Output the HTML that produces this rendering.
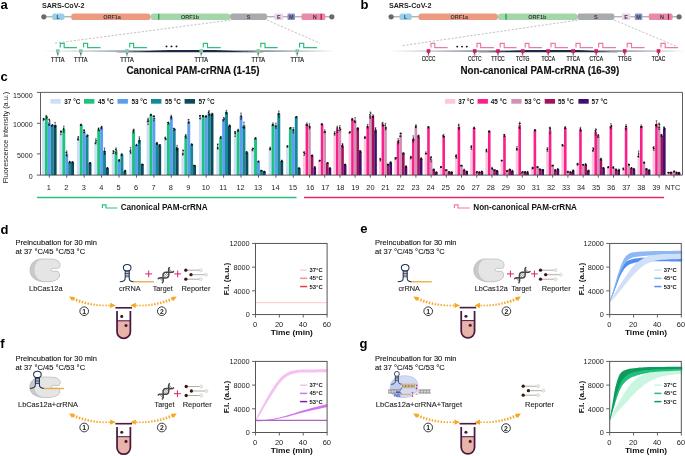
<!DOCTYPE html>
<html><head><meta charset="utf-8"><title>Figure</title>
<style>
html,body{margin:0;padding:0;background:#fff;}
body{width:685px;height:456px;overflow:hidden;font-family:'Liberation Sans', sans-serif;}
svg{display:block;will-change:transform;font-family:"Liberation Sans",sans-serif;}
</style></head><body>
<svg width="685" height="456" viewBox="0 0 685 456">
<rect width="685" height="456" fill="#fff"/>
<g>
<defs>
<linearGradient id="gbarA" x1="0" y1="0" x2="1" y2="0"><stop offset="0.007" stop-color="#1b2a4a" stop-opacity="0"/><stop offset="0.160" stop-color="#1b2a4a" stop-opacity="0.2"/><stop offset="0.300" stop-color="#1b2a4a" stop-opacity="0.5"/><stop offset="0.500" stop-color="#1b2a4a" stop-opacity="0.6"/><stop offset="0.760" stop-color="#1b2a4a" stop-opacity="0.5"/><stop offset="0.880" stop-color="#1b2a4a" stop-opacity="0.25"/><stop offset="0.990" stop-color="#1b2a4a" stop-opacity="0"/></linearGradient>
<linearGradient id="gbarB" x1="0" y1="0" x2="1" y2="0"><stop offset="0.013" stop-color="#1b2a4a" stop-opacity="0"/><stop offset="0.144" stop-color="#1b2a4a" stop-opacity="0.2"/><stop offset="0.300" stop-color="#1b2a4a" stop-opacity="0.5"/><stop offset="0.500" stop-color="#1b2a4a" stop-opacity="0.6"/><stop offset="0.750" stop-color="#1b2a4a" stop-opacity="0.5"/><stop offset="0.880" stop-color="#1b2a4a" stop-opacity="0.25"/><stop offset="0.984" stop-color="#1b2a4a" stop-opacity="0"/></linearGradient>
</defs>
<text x="0.40" y="9.00" font-size="13.0" font-weight="bold" text-anchor="start" fill="#000" >a</text>
<text x="41.90" y="7.60" font-size="7" font-weight="bold" text-anchor="start" fill="#222" textLength="42.50" lengthAdjust="spacingAndGlyphs" >SARS-CoV-2</text>
<line x1="43.80" y1="16.8" x2="331.80" y2="16.8" stroke="#666" stroke-width="0.7"/>
<circle cx="43.80" cy="16.8" r="2.6" fill="#6a6a6a"/>
<circle cx="331.80" cy="16.8" r="2.6" fill="#6a6a6a"/>
<rect x="52.10" y="13.4" width="12.40" height="6.7" rx="2.6" fill="#98cfea"/>
<text x="58.30" y="18.80" font-size="5.5" font-weight="bold" text-anchor="middle" fill="#3a3a3a" >L</text>
<rect x="71.10" y="13.4" width="79.50" height="6.7" rx="3.2" fill="#ec9a80"/>
<text x="112.00" y="18.80" font-size="5.5" font-weight="bold" text-anchor="middle" fill="#3a3a3a" >ORF1a</text>
<rect x="150.60" y="13.4" width="79.60" height="6.7" rx="3.2" fill="#a3d6a9"/>
<text x="190.00" y="18.80" font-size="5.5" font-weight="bold" text-anchor="middle" fill="#3a3a3a" >ORF1b</text>
<rect x="158.20" y="13.8" width="1.1" height="5.9" fill="#1c8c3c"/>
<rect x="230.20" y="13.4" width="36.80" height="6.7" rx="2.0" fill="#a9aaae"/>
<text x="248.60" y="18.80" font-size="5.5" font-weight="bold" text-anchor="middle" fill="#3a3a3a" >S</text>
<rect x="274.50" y="13.4" width="8.50" height="6.7" rx="1.2" fill="#ead2ea"/>
<text x="278.75" y="18.80" font-size="5.5" font-weight="bold" text-anchor="middle" fill="#3a3a3a" >E</text>
<rect x="287.50" y="13.4" width="7.50" height="6.7" rx="1.2" fill="#8d90cc"/>
<text x="291.25" y="18.80" font-size="5.5" font-weight="bold" text-anchor="middle" fill="#3a3a3a" >M</text>
<rect x="301.50" y="13.4" width="23.80" height="6.7" rx="1.6" fill="#e98aa8"/>
<text x="314.70" y="18.80" font-size="5.5" font-weight="bold" text-anchor="middle" fill="#3a3a3a" >N</text>
<rect x="320.60" y="13.8" width="1.2" height="5.9" fill="#a3122f"/>
<line x1="230.5" y1="20.1" x2="55" y2="43.2" stroke="#9a9a9a" stroke-width="0.6" stroke-dasharray="2.2 1.6"/>
<line x1="267" y1="20.1" x2="320" y2="43.2" stroke="#9a9a9a" stroke-width="0.6" stroke-dasharray="2.2 1.6"/>
<rect x="40.00" y="50.25" width="298.00" height="1.70" fill="url(#gbarA)"/>
<polygon points="116.00,52.15 117.80,52.12 119.60,52.08 121.40,52.04 123.20,51.99 125.00,51.94 126.80,51.88 128.60,51.82 130.40,51.76 132.20,51.69 134.00,51.62 135.80,51.55 137.60,51.48 139.40,51.41 141.20,51.33 143.00,51.26 144.80,51.18 146.60,51.10 148.40,51.02 150.20,50.94 152.00,50.85 153.80,50.77 155.60,50.68 157.40,50.59 159.20,50.50 161.00,50.41 162.80,50.32 164.60,50.23 166.40,50.14 168.20,50.04 170.00,49.95 214.00,49.95 215.67,50.04 217.33,50.14 219.00,50.23 220.67,50.32 222.33,50.41 224.00,50.50 225.67,50.59 227.33,50.68 229.00,50.77 230.67,50.85 232.33,50.94 234.00,51.02 235.67,51.10 237.33,51.18 239.00,51.26 240.67,51.33 242.33,51.41 244.00,51.48 245.67,51.55 247.33,51.62 249.00,51.69 250.67,51.76 252.33,51.82 254.00,51.88 255.67,51.94 257.33,51.99 259.00,52.04 260.67,52.08 262.33,52.12 264.00,52.15 264.00,52.15 116.00,52.15" fill="#1b2a4a"/>
<line x1="57.80" y1="52.5" x2="57.80" y2="56.4" stroke="#333" stroke-width="0.45"/>
<path d="M56.90,54.2 L57.80,52.6 L58.70,54.2 Z" fill="#333"/>
<rect x="56.00" y="49.2" width="3.6" height="3.6" fill="#80cba4"/>
<text x="57.80" y="61.50" font-size="6.4" font-weight="normal" text-anchor="middle" fill="#1a1a1a" textLength="13.60" lengthAdjust="spacingAndGlyphs" stroke="#1a1a1a" stroke-width="0.2">TTTA</text>
<line x1="80.80" y1="52.5" x2="80.80" y2="56.4" stroke="#333" stroke-width="0.45"/>
<path d="M79.90,54.2 L80.80,52.6 L81.70,54.2 Z" fill="#333"/>
<rect x="79.00" y="49.2" width="3.6" height="3.6" fill="#80cba4"/>
<text x="80.80" y="61.50" font-size="6.4" font-weight="normal" text-anchor="middle" fill="#1a1a1a" textLength="13.60" lengthAdjust="spacingAndGlyphs" stroke="#1a1a1a" stroke-width="0.2">TTTA</text>
<line x1="127.00" y1="52.5" x2="127.00" y2="56.4" stroke="#333" stroke-width="0.45"/>
<path d="M126.10,54.2 L127.00,52.6 L127.90,54.2 Z" fill="#333"/>
<rect x="125.20" y="49.2" width="3.6" height="3.6" fill="#80cba4"/>
<text x="127.00" y="61.50" font-size="6.4" font-weight="normal" text-anchor="middle" fill="#1a1a1a" textLength="13.60" lengthAdjust="spacingAndGlyphs" stroke="#1a1a1a" stroke-width="0.2">TTTA</text>
<line x1="201.20" y1="52.5" x2="201.20" y2="56.4" stroke="#333" stroke-width="0.45"/>
<path d="M200.30,54.2 L201.20,52.6 L202.10,54.2 Z" fill="#333"/>
<rect x="199.40" y="49.2" width="3.6" height="3.6" fill="#80cba4"/>
<text x="201.20" y="61.50" font-size="6.4" font-weight="normal" text-anchor="middle" fill="#1a1a1a" textLength="13.60" lengthAdjust="spacingAndGlyphs" stroke="#1a1a1a" stroke-width="0.2">TTTA</text>
<line x1="258.20" y1="52.5" x2="258.20" y2="56.4" stroke="#333" stroke-width="0.45"/>
<path d="M257.30,54.2 L258.20,52.6 L259.10,54.2 Z" fill="#333"/>
<rect x="256.40" y="49.2" width="3.6" height="3.6" fill="#80cba4"/>
<text x="258.20" y="61.50" font-size="6.4" font-weight="normal" text-anchor="middle" fill="#1a1a1a" textLength="13.60" lengthAdjust="spacingAndGlyphs" stroke="#1a1a1a" stroke-width="0.2">TTTA</text>
<line x1="297.20" y1="52.5" x2="297.20" y2="56.4" stroke="#333" stroke-width="0.45"/>
<path d="M296.30,54.2 L297.20,52.6 L298.10,54.2 Z" fill="#333"/>
<rect x="295.40" y="49.2" width="3.6" height="3.6" fill="#80cba4"/>
<text x="297.20" y="61.50" font-size="6.4" font-weight="normal" text-anchor="middle" fill="#1a1a1a" textLength="13.60" lengthAdjust="spacingAndGlyphs" stroke="#1a1a1a" stroke-width="0.2">TTTA</text>
<path d="M60.30,47.6 V43.4 H64.20 V47.6 H77.00" fill="none" stroke="#2dbf7c" stroke-width="1.2"/>
<path d="M83.60,47.6 V43.4 H87.60 V47.6 H100.60" fill="none" stroke="#2dbf7c" stroke-width="1.2"/>
<path d="M129.70,47.6 V43.4 H133.60 V47.6 H147.00" fill="none" stroke="#2dbf7c" stroke-width="1.2"/>
<path d="M203.30,47.6 V43.4 H207.50 V47.6 H220.70" fill="none" stroke="#2dbf7c" stroke-width="1.2"/>
<path d="M260.80,47.6 V43.4 H265.00 V47.6 H277.60" fill="none" stroke="#2dbf7c" stroke-width="1.2"/>
<path d="M299.60,47.6 V43.4 H303.70 V47.6 H317.00" fill="none" stroke="#2dbf7c" stroke-width="1.2"/>
<circle cx="166.5" cy="46.4" r="0.95" fill="#111"/>
<circle cx="171.5" cy="46.4" r="0.95" fill="#111"/>
<circle cx="176.5" cy="46.4" r="0.95" fill="#111"/>
<text x="193.00" y="73.90" font-size="10.3" font-weight="bold" text-anchor="middle" fill="#111" textLength="133.00" lengthAdjust="spacingAndGlyphs" stroke="#111" stroke-width="0.15">Canonical PAM-crRNA (1-15)</text>
<text x="360.40" y="9.00" font-size="13.0" font-weight="bold" text-anchor="start" fill="#000" >b</text>
<text x="388.90" y="7.60" font-size="7" font-weight="bold" text-anchor="start" fill="#222" textLength="42.50" lengthAdjust="spacingAndGlyphs" >SARS-CoV-2</text>
<line x1="391.10" y1="16.8" x2="679.10" y2="16.8" stroke="#666" stroke-width="0.7"/>
<circle cx="391.10" cy="16.8" r="2.6" fill="#6a6a6a"/>
<circle cx="679.10" cy="16.8" r="2.6" fill="#6a6a6a"/>
<rect x="399.40" y="13.4" width="12.40" height="6.7" rx="2.6" fill="#98cfea"/>
<text x="405.60" y="18.80" font-size="5.5" font-weight="bold" text-anchor="middle" fill="#3a3a3a" >L</text>
<rect x="418.40" y="13.4" width="79.50" height="6.7" rx="3.2" fill="#ec9a80"/>
<text x="459.30" y="18.80" font-size="5.5" font-weight="bold" text-anchor="middle" fill="#3a3a3a" >ORF1a</text>
<rect x="497.90" y="13.4" width="79.60" height="6.7" rx="3.2" fill="#a3d6a9"/>
<text x="537.30" y="18.80" font-size="5.5" font-weight="bold" text-anchor="middle" fill="#3a3a3a" >ORF1b</text>
<rect x="505.50" y="13.8" width="1.1" height="5.9" fill="#1c8c3c"/>
<rect x="577.50" y="13.4" width="36.80" height="6.7" rx="2.0" fill="#a9aaae"/>
<text x="595.90" y="18.80" font-size="5.5" font-weight="bold" text-anchor="middle" fill="#3a3a3a" >S</text>
<rect x="621.80" y="13.4" width="8.50" height="6.7" rx="1.2" fill="#ead2ea"/>
<text x="626.05" y="18.80" font-size="5.5" font-weight="bold" text-anchor="middle" fill="#3a3a3a" >E</text>
<rect x="634.80" y="13.4" width="7.50" height="6.7" rx="1.2" fill="#8d90cc"/>
<text x="638.55" y="18.80" font-size="5.5" font-weight="bold" text-anchor="middle" fill="#3a3a3a" >M</text>
<rect x="648.80" y="13.4" width="23.80" height="6.7" rx="1.6" fill="#e98aa8"/>
<text x="662.00" y="18.80" font-size="5.5" font-weight="bold" text-anchor="middle" fill="#3a3a3a" >N</text>
<rect x="667.90" y="13.8" width="1.2" height="5.9" fill="#a3122f"/>
<line x1="577.8" y1="20.1" x2="401.5" y2="45.8" stroke="#9a9a9a" stroke-width="0.6" stroke-dasharray="2.2 1.6"/>
<line x1="614.3" y1="20.1" x2="677" y2="46.5" stroke="#9a9a9a" stroke-width="0.6" stroke-dasharray="2.2 1.6"/>
<rect x="384.00" y="50.25" width="306.00" height="1.70" fill="url(#gbarB)"/>
<polygon points="478.00,52.15 479.67,52.12 481.33,52.08 483.00,52.04 484.67,51.99 486.33,51.94 488.00,51.88 489.67,51.82 491.33,51.76 493.00,51.69 494.67,51.62 496.33,51.55 498.00,51.48 499.67,51.41 501.33,51.33 503.00,51.26 504.67,51.18 506.33,51.10 508.00,51.02 509.67,50.94 511.33,50.85 513.00,50.77 514.67,50.68 516.33,50.59 518.00,50.50 519.67,50.41 521.33,50.32 523.00,50.23 524.67,50.14 526.33,50.04 528.00,49.95 578.00,49.95 579.33,50.04 580.67,50.14 582.00,50.23 583.33,50.32 584.67,50.41 586.00,50.50 587.33,50.59 588.67,50.68 590.00,50.77 591.33,50.85 592.67,50.94 594.00,51.02 595.33,51.10 596.67,51.18 598.00,51.26 599.33,51.33 600.67,51.41 602.00,51.48 603.33,51.55 604.67,51.62 606.00,51.69 607.33,51.76 608.67,51.82 610.00,51.88 611.33,51.94 612.67,51.99 614.00,52.04 615.33,52.08 616.67,52.12 618.00,52.15 618.00,52.15 478.00,52.15" fill="#1b2a4a"/>
<line x1="428.50" y1="52.5" x2="428.50" y2="56.4" stroke="#333" stroke-width="0.45"/>
<path d="M427.60,54.2 L428.50,52.6 L429.40,54.2 Z" fill="#333"/>
<rect x="426.70" y="49.2" width="3.6" height="3.6" fill="#de1260"/>
<text x="428.50" y="60.80" font-size="6.9" font-weight="normal" text-anchor="middle" fill="#1a1a1a" textLength="13.60" lengthAdjust="spacingAndGlyphs" stroke="#1a1a1a" stroke-width="0.2">CCCC</text>
<line x1="474.70" y1="52.5" x2="474.70" y2="56.4" stroke="#333" stroke-width="0.45"/>
<path d="M473.80,54.2 L474.70,52.6 L475.60,54.2 Z" fill="#333"/>
<rect x="472.90" y="49.2" width="3.6" height="3.6" fill="#de1260"/>
<text x="474.70" y="60.80" font-size="6.9" font-weight="normal" text-anchor="middle" fill="#1a1a1a" textLength="13.60" lengthAdjust="spacingAndGlyphs" stroke="#1a1a1a" stroke-width="0.2">CCTC</text>
<line x1="498.00" y1="52.5" x2="498.00" y2="56.4" stroke="#333" stroke-width="0.45"/>
<path d="M497.10,54.2 L498.00,52.6 L498.90,54.2 Z" fill="#333"/>
<rect x="496.20" y="49.2" width="3.6" height="3.6" fill="#de1260"/>
<text x="498.00" y="60.80" font-size="6.9" font-weight="normal" text-anchor="middle" fill="#1a1a1a" textLength="13.60" lengthAdjust="spacingAndGlyphs" stroke="#1a1a1a" stroke-width="0.2">TTCC</text>
<line x1="522.70" y1="52.5" x2="522.70" y2="56.4" stroke="#333" stroke-width="0.45"/>
<path d="M521.80,54.2 L522.70,52.6 L523.60,54.2 Z" fill="#333"/>
<rect x="520.90" y="49.2" width="3.6" height="3.6" fill="#de1260"/>
<text x="522.70" y="60.80" font-size="6.9" font-weight="normal" text-anchor="middle" fill="#1a1a1a" textLength="13.60" lengthAdjust="spacingAndGlyphs" stroke="#1a1a1a" stroke-width="0.2">TCTG</text>
<line x1="548.20" y1="52.5" x2="548.20" y2="56.4" stroke="#333" stroke-width="0.45"/>
<path d="M547.30,54.2 L548.20,52.6 L549.10,54.2 Z" fill="#333"/>
<rect x="546.40" y="49.2" width="3.6" height="3.6" fill="#de1260"/>
<text x="548.20" y="60.80" font-size="6.9" font-weight="normal" text-anchor="middle" fill="#1a1a1a" textLength="13.60" lengthAdjust="spacingAndGlyphs" stroke="#1a1a1a" stroke-width="0.2">TCCA</text>
<line x1="573.20" y1="52.5" x2="573.20" y2="56.4" stroke="#333" stroke-width="0.45"/>
<path d="M572.30,54.2 L573.20,52.6 L574.10,54.2 Z" fill="#333"/>
<rect x="571.40" y="49.2" width="3.6" height="3.6" fill="#de1260"/>
<text x="573.20" y="60.80" font-size="6.9" font-weight="normal" text-anchor="middle" fill="#1a1a1a" textLength="13.60" lengthAdjust="spacingAndGlyphs" stroke="#1a1a1a" stroke-width="0.2">TTCA</text>
<line x1="596.20" y1="52.5" x2="596.20" y2="56.4" stroke="#333" stroke-width="0.45"/>
<path d="M595.30,54.2 L596.20,52.6 L597.10,54.2 Z" fill="#333"/>
<rect x="594.40" y="49.2" width="3.6" height="3.6" fill="#de1260"/>
<text x="596.20" y="60.80" font-size="6.9" font-weight="normal" text-anchor="middle" fill="#1a1a1a" textLength="13.60" lengthAdjust="spacingAndGlyphs" stroke="#1a1a1a" stroke-width="0.2">CTCA</text>
<line x1="624.70" y1="52.5" x2="624.70" y2="56.4" stroke="#333" stroke-width="0.45"/>
<path d="M623.80,54.2 L624.70,52.6 L625.60,54.2 Z" fill="#333"/>
<rect x="622.90" y="49.2" width="3.6" height="3.6" fill="#de1260"/>
<text x="624.70" y="60.80" font-size="6.9" font-weight="normal" text-anchor="middle" fill="#1a1a1a" textLength="13.60" lengthAdjust="spacingAndGlyphs" stroke="#1a1a1a" stroke-width="0.2">TTGG</text>
<line x1="658.50" y1="52.5" x2="658.50" y2="56.4" stroke="#333" stroke-width="0.45"/>
<path d="M657.60,54.2 L658.50,52.6 L659.40,54.2 Z" fill="#333"/>
<rect x="656.70" y="49.2" width="3.6" height="3.6" fill="#de1260"/>
<text x="658.50" y="60.80" font-size="6.9" font-weight="normal" text-anchor="middle" fill="#1a1a1a" textLength="13.60" lengthAdjust="spacingAndGlyphs" stroke="#1a1a1a" stroke-width="0.2">TCAC</text>
<path d="M431.00,47.6 V43.4 H434.80 V47.6 H447.60" fill="none" stroke="#ea7ba5" stroke-width="1.2"/>
<path d="M477.00,47.6 V43.4 H480.60 V47.6 H494.00" fill="none" stroke="#ea7ba5" stroke-width="1.2"/>
<path d="M500.20,47.6 V43.4 H504.20 V47.6 H516.50" fill="none" stroke="#ea7ba5" stroke-width="1.2"/>
<path d="M525.20,47.6 V43.4 H529.00 V47.6 H542.00" fill="none" stroke="#ea7ba5" stroke-width="1.2"/>
<path d="M551.00,47.6 V43.4 H555.20 V47.6 H568.00" fill="none" stroke="#ea7ba5" stroke-width="1.2"/>
<path d="M576.00,47.6 V43.4 H580.20 V47.6 H593.00" fill="none" stroke="#ea7ba5" stroke-width="1.2"/>
<path d="M598.60,47.6 V43.4 H602.80 V47.6 H616.00" fill="none" stroke="#ea7ba5" stroke-width="1.2"/>
<path d="M627.20,47.6 V43.4 H631.50 V47.6 H644.60" fill="none" stroke="#ea7ba5" stroke-width="1.2"/>
<path d="M661.00,47.6 V43.4 H665.20 V47.6 H678.00" fill="none" stroke="#ea7ba5" stroke-width="1.2"/>
<circle cx="457.2" cy="46.6" r="0.95" fill="#111"/>
<circle cx="462" cy="46.6" r="0.95" fill="#111"/>
<circle cx="466.8" cy="46.6" r="0.95" fill="#111"/>
<text x="539.80" y="73.90" font-size="10.3" font-weight="bold" text-anchor="middle" fill="#111" textLength="158.80" lengthAdjust="spacingAndGlyphs" stroke="#111" stroke-width="0.15">Non-canonical PAM-crRNA (16-39)</text>
<text x="0.40" y="81.40" font-size="13.0" font-weight="bold" text-anchor="start" fill="#000" >c</text>
<rect x="42.00" y="119.30" width="2.92" height="55.80" fill="#cddff6"/>
<rect x="44.92" y="117.20" width="2.92" height="57.90" fill="#1dc47e"/>
<rect x="47.84" y="122.30" width="2.92" height="52.80" fill="#5b9df2"/>
<rect x="50.76" y="125.30" width="2.92" height="49.80" fill="#16889a"/>
<rect x="53.68" y="124.90" width="2.92" height="50.20" fill="#0e4a5a"/>
<rect x="59.43" y="132.80" width="2.92" height="42.30" fill="#cddff6"/>
<rect x="62.35" y="129.30" width="2.92" height="45.80" fill="#1dc47e"/>
<rect x="65.27" y="153.50" width="2.92" height="21.60" fill="#5b9df2"/>
<rect x="68.19" y="162.20" width="2.92" height="12.90" fill="#16889a"/>
<rect x="71.11" y="162.20" width="2.92" height="12.90" fill="#0e4a5a"/>
<rect x="76.86" y="138.40" width="2.92" height="36.70" fill="#cddff6"/>
<rect x="79.78" y="124.70" width="2.92" height="50.40" fill="#1dc47e"/>
<rect x="82.70" y="131.30" width="2.92" height="43.80" fill="#5b9df2"/>
<rect x="85.62" y="135.80" width="2.92" height="39.30" fill="#16889a"/>
<rect x="88.54" y="163.00" width="2.92" height="12.10" fill="#0e4a5a"/>
<rect x="94.29" y="141.40" width="2.92" height="33.70" fill="#cddff6"/>
<rect x="97.21" y="129.30" width="2.92" height="45.80" fill="#1dc47e"/>
<rect x="100.13" y="127.70" width="2.92" height="47.40" fill="#5b9df2"/>
<rect x="103.05" y="151.10" width="2.92" height="24.00" fill="#16889a"/>
<rect x="105.97" y="168.20" width="2.92" height="6.90" fill="#0e4a5a"/>
<rect x="111.72" y="152.10" width="2.92" height="23.00" fill="#cddff6"/>
<rect x="114.64" y="151.10" width="2.92" height="24.00" fill="#1dc47e"/>
<rect x="117.56" y="160.60" width="2.92" height="14.50" fill="#5b9df2"/>
<rect x="120.48" y="154.50" width="2.92" height="20.60" fill="#16889a"/>
<rect x="123.40" y="171.00" width="2.92" height="4.10" fill="#0e4a5a"/>
<rect x="129.15" y="150.50" width="2.92" height="24.60" fill="#cddff6"/>
<rect x="132.07" y="131.00" width="2.92" height="44.10" fill="#1dc47e"/>
<rect x="134.99" y="145.00" width="2.92" height="30.10" fill="#5b9df2"/>
<rect x="137.91" y="140.00" width="2.92" height="35.10" fill="#16889a"/>
<rect x="140.83" y="164.60" width="2.92" height="10.50" fill="#0e4a5a"/>
<rect x="146.58" y="121.30" width="2.92" height="53.80" fill="#cddff6"/>
<rect x="149.50" y="114.80" width="2.92" height="60.30" fill="#1dc47e"/>
<rect x="152.42" y="118.20" width="2.92" height="56.90" fill="#5b9df2"/>
<rect x="155.34" y="143.40" width="2.92" height="31.70" fill="#16889a"/>
<rect x="158.26" y="145.50" width="2.92" height="29.60" fill="#0e4a5a"/>
<rect x="164.01" y="138.40" width="2.92" height="36.70" fill="#cddff6"/>
<rect x="166.93" y="123.30" width="2.92" height="51.80" fill="#1dc47e"/>
<rect x="169.85" y="117.20" width="2.92" height="57.90" fill="#5b9df2"/>
<rect x="172.77" y="129.30" width="2.92" height="45.80" fill="#16889a"/>
<rect x="175.69" y="148.00" width="2.92" height="27.10" fill="#0e4a5a"/>
<rect x="181.44" y="152.50" width="2.92" height="22.60" fill="#cddff6"/>
<rect x="184.36" y="136.40" width="2.92" height="38.70" fill="#1dc47e"/>
<rect x="187.28" y="121.30" width="2.92" height="53.80" fill="#5b9df2"/>
<rect x="190.20" y="144.50" width="2.92" height="30.60" fill="#16889a"/>
<rect x="193.12" y="165.60" width="2.92" height="9.50" fill="#0e4a5a"/>
<rect x="198.87" y="117.20" width="2.92" height="57.90" fill="#cddff6"/>
<rect x="201.79" y="116.20" width="2.92" height="58.90" fill="#1dc47e"/>
<rect x="204.71" y="116.20" width="2.92" height="58.90" fill="#5b9df2"/>
<rect x="207.63" y="113.20" width="2.92" height="61.90" fill="#16889a"/>
<rect x="210.55" y="114.20" width="2.92" height="60.90" fill="#0e4a5a"/>
<rect x="216.30" y="146.50" width="2.92" height="28.60" fill="#cddff6"/>
<rect x="219.22" y="137.40" width="2.92" height="37.70" fill="#1dc47e"/>
<rect x="222.14" y="119.30" width="2.92" height="55.80" fill="#5b9df2"/>
<rect x="225.06" y="112.20" width="2.92" height="62.90" fill="#16889a"/>
<rect x="227.98" y="125.70" width="2.92" height="49.40" fill="#0e4a5a"/>
<rect x="233.73" y="134.00" width="2.92" height="41.10" fill="#cddff6"/>
<rect x="236.65" y="130.30" width="2.92" height="44.80" fill="#1dc47e"/>
<rect x="239.57" y="116.20" width="2.92" height="58.90" fill="#5b9df2"/>
<rect x="242.49" y="125.30" width="2.92" height="49.80" fill="#16889a"/>
<rect x="245.41" y="152.50" width="2.92" height="22.60" fill="#0e4a5a"/>
<rect x="251.16" y="149.50" width="2.92" height="25.60" fill="#cddff6"/>
<rect x="254.08" y="138.40" width="2.92" height="36.70" fill="#1dc47e"/>
<rect x="257.00" y="161.60" width="2.92" height="13.50" fill="#5b9df2"/>
<rect x="259.92" y="170.70" width="2.92" height="4.40" fill="#16889a"/>
<rect x="262.84" y="171.70" width="2.92" height="3.40" fill="#0e4a5a"/>
<rect x="268.59" y="148.50" width="2.92" height="26.60" fill="#cddff6"/>
<rect x="271.51" y="124.30" width="2.92" height="50.80" fill="#1dc47e"/>
<rect x="274.43" y="125.70" width="2.92" height="49.40" fill="#5b9df2"/>
<rect x="277.35" y="114.20" width="2.92" height="60.90" fill="#16889a"/>
<rect x="280.27" y="161.00" width="2.92" height="14.10" fill="#0e4a5a"/>
<rect x="286.02" y="146.50" width="2.92" height="28.60" fill="#cddff6"/>
<rect x="288.94" y="128.30" width="2.92" height="46.80" fill="#1dc47e"/>
<rect x="291.86" y="130.30" width="2.92" height="44.80" fill="#5b9df2"/>
<rect x="294.78" y="117.20" width="2.92" height="57.90" fill="#16889a"/>
<rect x="297.70" y="168.20" width="2.92" height="6.90" fill="#0e4a5a"/>
<rect x="302.95" y="153.50" width="2.62" height="21.60" fill="#ffc4de"/>
<rect x="305.57" y="124.30" width="2.62" height="50.80" fill="#f9208c"/>
<rect x="308.19" y="126.30" width="2.62" height="48.80" fill="#d48fb6"/>
<rect x="310.81" y="155.50" width="2.62" height="19.60" fill="#a3125c"/>
<rect x="313.43" y="167.60" width="2.62" height="7.50" fill="#400f6e"/>
<rect x="318.15" y="160.60" width="2.62" height="14.50" fill="#ffc4de"/>
<rect x="320.77" y="124.30" width="2.62" height="50.80" fill="#f9208c"/>
<rect x="323.39" y="131.30" width="2.62" height="43.80" fill="#d48fb6"/>
<rect x="326.01" y="163.00" width="2.62" height="12.10" fill="#a3125c"/>
<rect x="328.63" y="168.20" width="2.62" height="6.90" fill="#400f6e"/>
<rect x="333.35" y="133.40" width="2.62" height="41.70" fill="#ffc4de"/>
<rect x="335.97" y="129.30" width="2.62" height="45.80" fill="#f9208c"/>
<rect x="338.59" y="128.30" width="2.62" height="46.80" fill="#d48fb6"/>
<rect x="341.21" y="145.50" width="2.62" height="29.60" fill="#a3125c"/>
<rect x="343.83" y="164.60" width="2.62" height="10.50" fill="#400f6e"/>
<rect x="348.55" y="132.40" width="2.62" height="42.70" fill="#ffc4de"/>
<rect x="351.17" y="119.30" width="2.62" height="55.80" fill="#f9208c"/>
<rect x="353.79" y="120.30" width="2.62" height="54.80" fill="#d48fb6"/>
<rect x="356.41" y="128.90" width="2.62" height="46.20" fill="#a3125c"/>
<rect x="359.03" y="151.50" width="2.62" height="23.60" fill="#400f6e"/>
<rect x="363.75" y="137.40" width="2.62" height="37.70" fill="#ffc4de"/>
<rect x="366.37" y="126.30" width="2.62" height="48.80" fill="#f9208c"/>
<rect x="368.99" y="115.20" width="2.62" height="59.90" fill="#d48fb6"/>
<rect x="371.61" y="116.20" width="2.62" height="58.90" fill="#a3125c"/>
<rect x="374.23" y="130.30" width="2.62" height="44.80" fill="#400f6e"/>
<rect x="378.95" y="159.60" width="2.62" height="15.50" fill="#ffc4de"/>
<rect x="381.57" y="124.30" width="2.62" height="50.80" fill="#f9208c"/>
<rect x="384.19" y="126.70" width="2.62" height="48.40" fill="#d48fb6"/>
<rect x="386.81" y="164.60" width="2.62" height="10.50" fill="#a3125c"/>
<rect x="389.43" y="162.60" width="2.62" height="12.50" fill="#400f6e"/>
<rect x="394.15" y="158.60" width="2.62" height="16.50" fill="#ffc4de"/>
<rect x="396.77" y="141.40" width="2.62" height="33.70" fill="#f9208c"/>
<rect x="399.39" y="134.80" width="2.62" height="40.30" fill="#d48fb6"/>
<rect x="402.01" y="153.50" width="2.62" height="21.60" fill="#a3125c"/>
<rect x="404.63" y="166.60" width="2.62" height="8.50" fill="#400f6e"/>
<rect x="409.35" y="157.60" width="2.62" height="17.50" fill="#ffc4de"/>
<rect x="411.97" y="139.00" width="2.62" height="36.10" fill="#f9208c"/>
<rect x="414.59" y="126.30" width="2.62" height="48.80" fill="#d48fb6"/>
<rect x="417.21" y="136.40" width="2.62" height="38.70" fill="#a3125c"/>
<rect x="419.83" y="158.60" width="2.62" height="16.50" fill="#400f6e"/>
<rect x="424.55" y="152.90" width="2.62" height="22.20" fill="#ffc4de"/>
<rect x="427.17" y="127.30" width="2.62" height="47.80" fill="#f9208c"/>
<rect x="429.79" y="159.20" width="2.62" height="15.90" fill="#d48fb6"/>
<rect x="432.41" y="169.70" width="2.62" height="5.40" fill="#a3125c"/>
<rect x="435.03" y="172.30" width="2.62" height="2.80" fill="#400f6e"/>
<rect x="439.75" y="167.00" width="2.62" height="8.10" fill="#ffc4de"/>
<rect x="442.37" y="135.80" width="2.62" height="39.30" fill="#f9208c"/>
<rect x="444.99" y="170.30" width="2.62" height="4.80" fill="#d48fb6"/>
<rect x="447.61" y="172.30" width="2.62" height="2.80" fill="#a3125c"/>
<rect x="450.23" y="172.30" width="2.62" height="2.80" fill="#400f6e"/>
<rect x="454.95" y="156.50" width="2.62" height="18.60" fill="#ffc4de"/>
<rect x="457.57" y="126.70" width="2.62" height="48.40" fill="#f9208c"/>
<rect x="460.19" y="165.60" width="2.62" height="9.50" fill="#d48fb6"/>
<rect x="462.81" y="170.00" width="2.62" height="5.10" fill="#a3125c"/>
<rect x="465.43" y="171.70" width="2.62" height="3.40" fill="#400f6e"/>
<rect x="470.15" y="147.50" width="2.62" height="27.60" fill="#ffc4de"/>
<rect x="472.77" y="127.90" width="2.62" height="47.20" fill="#f9208c"/>
<rect x="475.39" y="172.30" width="2.62" height="2.80" fill="#d48fb6"/>
<rect x="478.01" y="172.30" width="2.62" height="2.80" fill="#a3125c"/>
<rect x="480.63" y="171.70" width="2.62" height="3.40" fill="#400f6e"/>
<rect x="485.35" y="150.50" width="2.62" height="24.60" fill="#ffc4de"/>
<rect x="487.97" y="131.30" width="2.62" height="43.80" fill="#f9208c"/>
<rect x="490.59" y="168.20" width="2.62" height="6.90" fill="#d48fb6"/>
<rect x="493.21" y="170.30" width="2.62" height="4.80" fill="#a3125c"/>
<rect x="495.83" y="171.00" width="2.62" height="4.10" fill="#400f6e"/>
<rect x="500.55" y="160.60" width="2.62" height="14.50" fill="#ffc4de"/>
<rect x="503.17" y="135.40" width="2.62" height="39.70" fill="#f9208c"/>
<rect x="505.79" y="171.00" width="2.62" height="4.10" fill="#d48fb6"/>
<rect x="508.41" y="169.70" width="2.62" height="5.40" fill="#a3125c"/>
<rect x="511.03" y="171.00" width="2.62" height="4.10" fill="#400f6e"/>
<rect x="515.75" y="148.50" width="2.62" height="26.60" fill="#ffc4de"/>
<rect x="518.37" y="125.30" width="2.62" height="49.80" fill="#f9208c"/>
<rect x="520.99" y="172.30" width="2.62" height="2.80" fill="#d48fb6"/>
<rect x="523.61" y="172.30" width="2.62" height="2.80" fill="#a3125c"/>
<rect x="526.23" y="172.30" width="2.62" height="2.80" fill="#400f6e"/>
<rect x="530.95" y="168.00" width="2.62" height="7.10" fill="#ffc4de"/>
<rect x="533.57" y="130.30" width="2.62" height="44.80" fill="#f9208c"/>
<rect x="536.19" y="167.20" width="2.62" height="7.90" fill="#d48fb6"/>
<rect x="538.81" y="169.30" width="2.62" height="5.80" fill="#a3125c"/>
<rect x="541.43" y="170.00" width="2.62" height="5.10" fill="#400f6e"/>
<rect x="546.15" y="149.50" width="2.62" height="25.60" fill="#ffc4de"/>
<rect x="548.77" y="130.30" width="2.62" height="44.80" fill="#f9208c"/>
<rect x="551.39" y="165.60" width="2.62" height="9.50" fill="#d48fb6"/>
<rect x="554.01" y="170.30" width="2.62" height="4.80" fill="#a3125c"/>
<rect x="556.63" y="169.30" width="2.62" height="5.80" fill="#400f6e"/>
<rect x="561.35" y="145.50" width="2.62" height="29.60" fill="#ffc4de"/>
<rect x="563.97" y="127.70" width="2.62" height="47.40" fill="#f9208c"/>
<rect x="566.59" y="171.70" width="2.62" height="3.40" fill="#d48fb6"/>
<rect x="569.21" y="172.30" width="2.62" height="2.80" fill="#a3125c"/>
<rect x="571.83" y="171.00" width="2.62" height="4.10" fill="#400f6e"/>
<rect x="576.55" y="164.10" width="2.62" height="11.00" fill="#ffc4de"/>
<rect x="579.17" y="129.20" width="2.62" height="45.90" fill="#f9208c"/>
<rect x="581.79" y="164.70" width="2.62" height="10.40" fill="#d48fb6"/>
<rect x="584.41" y="164.70" width="2.62" height="10.40" fill="#a3125c"/>
<rect x="587.03" y="170.70" width="2.62" height="4.40" fill="#400f6e"/>
<rect x="591.75" y="149.50" width="2.62" height="25.60" fill="#ffc4de"/>
<rect x="594.37" y="132.00" width="2.62" height="43.10" fill="#f9208c"/>
<rect x="596.99" y="136.00" width="2.62" height="39.10" fill="#d48fb6"/>
<rect x="599.61" y="159.20" width="2.62" height="15.90" fill="#a3125c"/>
<rect x="602.23" y="168.20" width="2.62" height="6.90" fill="#400f6e"/>
<rect x="606.95" y="167.20" width="2.62" height="7.90" fill="#ffc4de"/>
<rect x="609.57" y="126.30" width="2.62" height="48.80" fill="#f9208c"/>
<rect x="612.19" y="167.60" width="2.62" height="7.50" fill="#d48fb6"/>
<rect x="614.81" y="169.70" width="2.62" height="5.40" fill="#a3125c"/>
<rect x="617.43" y="170.00" width="2.62" height="5.10" fill="#400f6e"/>
<rect x="622.15" y="169.00" width="2.62" height="6.10" fill="#ffc4de"/>
<rect x="624.77" y="127.30" width="2.62" height="47.80" fill="#f9208c"/>
<rect x="627.39" y="164.60" width="2.62" height="10.50" fill="#d48fb6"/>
<rect x="630.01" y="168.20" width="2.62" height="6.90" fill="#a3125c"/>
<rect x="632.63" y="169.30" width="2.62" height="5.80" fill="#400f6e"/>
<rect x="637.35" y="154.10" width="2.62" height="21.00" fill="#ffc4de"/>
<rect x="639.97" y="126.30" width="2.62" height="48.80" fill="#f9208c"/>
<rect x="642.59" y="162.60" width="2.62" height="12.50" fill="#d48fb6"/>
<rect x="645.21" y="169.30" width="2.62" height="5.80" fill="#a3125c"/>
<rect x="647.83" y="170.30" width="2.62" height="4.80" fill="#400f6e"/>
<rect x="652.55" y="148.50" width="2.62" height="26.60" fill="#ffc4de"/>
<rect x="655.17" y="123.90" width="2.62" height="51.20" fill="#f9208c"/>
<rect x="657.79" y="126.30" width="2.62" height="48.80" fill="#d48fb6"/>
<rect x="660.41" y="135.40" width="2.62" height="39.70" fill="#a3125c"/>
<rect x="663.03" y="128.30" width="2.62" height="46.80" fill="#400f6e"/>
<rect x="667.35" y="172.70" width="2.62" height="2.40" fill="#ffc4de"/>
<rect x="669.97" y="172.70" width="2.62" height="2.40" fill="#f9208c"/>
<rect x="672.59" y="171.70" width="2.62" height="3.40" fill="#d48fb6"/>
<rect x="675.21" y="172.70" width="2.62" height="2.40" fill="#a3125c"/>
<rect x="677.83" y="172.70" width="2.62" height="2.40" fill="#400f6e"/>
<path d="M43.46,118.30 V120.30 M42.66,118.30 h1.6 M42.66,120.30 h1.6" stroke="#111" stroke-width="0.55" fill="none"/>
<circle cx="43.59" cy="118.71" r="0.7" fill="#111"/>
<circle cx="44.04" cy="119.26" r="0.7" fill="#111"/>
<circle cx="43.57" cy="119.47" r="0.7" fill="#111"/>
<path d="M46.38,115.30 V119.10 M45.58,115.30 h1.6 M45.58,119.10 h1.6" stroke="#111" stroke-width="0.55" fill="none"/>
<circle cx="46.04" cy="116.39" r="0.7" fill="#111"/>
<circle cx="47.07" cy="117.11" r="0.7" fill="#111"/>
<circle cx="46.85" cy="117.13" r="0.7" fill="#111"/>
<path d="M49.30,119.10 V125.50 M48.50,119.10 h1.6 M48.50,125.50 h1.6" stroke="#111" stroke-width="0.55" fill="none"/>
<circle cx="49.81" cy="120.93" r="0.7" fill="#111"/>
<circle cx="48.81" cy="124.48" r="0.7" fill="#111"/>
<circle cx="49.15" cy="119.82" r="0.7" fill="#111"/>
<path d="M52.22,124.60 V126.00 M51.42,124.60 h1.6 M51.42,126.00 h1.6" stroke="#111" stroke-width="0.55" fill="none"/>
<circle cx="51.74" cy="125.81" r="0.7" fill="#111"/>
<circle cx="51.58" cy="125.61" r="0.7" fill="#111"/>
<circle cx="52.67" cy="125.04" r="0.7" fill="#111"/>
<path d="M55.14,122.30 V127.50 M54.34,122.30 h1.6 M54.34,127.50 h1.6" stroke="#111" stroke-width="0.55" fill="none"/>
<circle cx="55.45" cy="126.48" r="0.7" fill="#111"/>
<circle cx="55.44" cy="126.65" r="0.7" fill="#111"/>
<circle cx="54.99" cy="126.15" r="0.7" fill="#111"/>
<path d="M60.89,130.90 V134.70 M60.09,130.90 h1.6 M60.09,134.70 h1.6" stroke="#111" stroke-width="0.55" fill="none"/>
<circle cx="61.54" cy="131.69" r="0.7" fill="#111"/>
<circle cx="60.70" cy="131.39" r="0.7" fill="#111"/>
<circle cx="60.88" cy="132.06" r="0.7" fill="#111"/>
<path d="M63.81,126.10 V132.50 M63.01,126.10 h1.6 M63.01,132.50 h1.6" stroke="#111" stroke-width="0.55" fill="none"/>
<circle cx="63.72" cy="129.95" r="0.7" fill="#111"/>
<circle cx="63.53" cy="129.34" r="0.7" fill="#111"/>
<circle cx="63.65" cy="128.54" r="0.7" fill="#111"/>
<path d="M66.73,150.90 V156.10 M65.93,150.90 h1.6 M65.93,156.10 h1.6" stroke="#111" stroke-width="0.55" fill="none"/>
<circle cx="66.60" cy="152.39" r="0.7" fill="#111"/>
<circle cx="66.50" cy="155.23" r="0.7" fill="#111"/>
<circle cx="66.07" cy="152.58" r="0.7" fill="#111"/>
<path d="M69.65,161.30 V163.10 M68.85,161.30 h1.6 M68.85,163.10 h1.6" stroke="#111" stroke-width="0.55" fill="none"/>
<circle cx="69.92" cy="162.49" r="0.7" fill="#111"/>
<circle cx="69.41" cy="162.26" r="0.7" fill="#111"/>
<circle cx="69.75" cy="161.63" r="0.7" fill="#111"/>
<path d="M72.57,161.80 V162.60 M71.77,161.80 h1.6 M71.77,162.60 h1.6" stroke="#111" stroke-width="0.55" fill="none"/>
<circle cx="72.76" cy="162.51" r="0.7" fill="#111"/>
<circle cx="72.24" cy="161.96" r="0.7" fill="#111"/>
<circle cx="72.54" cy="162.29" r="0.7" fill="#111"/>
<path d="M78.32,136.50 V140.30 M77.52,136.50 h1.6 M77.52,140.30 h1.6" stroke="#111" stroke-width="0.55" fill="none"/>
<circle cx="77.74" cy="139.31" r="0.7" fill="#111"/>
<circle cx="78.19" cy="137.34" r="0.7" fill="#111"/>
<circle cx="78.03" cy="139.22" r="0.7" fill="#111"/>
<path d="M81.24,124.00 V125.40 M80.44,124.00 h1.6 M80.44,125.40 h1.6" stroke="#111" stroke-width="0.55" fill="none"/>
<circle cx="80.60" cy="124.83" r="0.7" fill="#111"/>
<circle cx="80.60" cy="124.94" r="0.7" fill="#111"/>
<circle cx="81.00" cy="125.13" r="0.7" fill="#111"/>
<path d="M84.16,129.90 V132.70 M83.36,129.90 h1.6 M83.36,132.70 h1.6" stroke="#111" stroke-width="0.55" fill="none"/>
<circle cx="84.17" cy="132.42" r="0.7" fill="#111"/>
<circle cx="83.89" cy="130.35" r="0.7" fill="#111"/>
<circle cx="84.30" cy="130.25" r="0.7" fill="#111"/>
<path d="M87.08,134.80 V136.80 M86.28,134.80 h1.6 M86.28,136.80 h1.6" stroke="#111" stroke-width="0.55" fill="none"/>
<circle cx="87.74" cy="135.47" r="0.7" fill="#111"/>
<circle cx="86.75" cy="136.10" r="0.7" fill="#111"/>
<circle cx="87.75" cy="135.54" r="0.7" fill="#111"/>
<path d="M90.00,162.60 V163.40 M89.20,162.60 h1.6 M89.20,163.40 h1.6" stroke="#111" stroke-width="0.55" fill="none"/>
<circle cx="90.56" cy="162.92" r="0.7" fill="#111"/>
<circle cx="89.94" cy="163.01" r="0.7" fill="#111"/>
<circle cx="90.20" cy="163.06" r="0.7" fill="#111"/>
<path d="M95.75,138.80 V144.00 M94.95,138.80 h1.6 M94.95,144.00 h1.6" stroke="#111" stroke-width="0.55" fill="none"/>
<circle cx="95.19" cy="143.37" r="0.7" fill="#111"/>
<circle cx="96.19" cy="140.45" r="0.7" fill="#111"/>
<circle cx="95.94" cy="142.30" r="0.7" fill="#111"/>
<path d="M98.67,127.90 V130.70 M97.87,127.90 h1.6 M97.87,130.70 h1.6" stroke="#111" stroke-width="0.55" fill="none"/>
<circle cx="98.58" cy="128.76" r="0.7" fill="#111"/>
<circle cx="98.39" cy="128.94" r="0.7" fill="#111"/>
<circle cx="99.07" cy="130.39" r="0.7" fill="#111"/>
<path d="M101.59,126.30 V129.10 M100.79,126.30 h1.6 M100.79,129.10 h1.6" stroke="#111" stroke-width="0.55" fill="none"/>
<circle cx="100.92" cy="127.96" r="0.7" fill="#111"/>
<circle cx="101.78" cy="126.71" r="0.7" fill="#111"/>
<circle cx="101.77" cy="127.62" r="0.7" fill="#111"/>
<path d="M104.51,147.90 V154.30 M103.71,147.90 h1.6 M103.71,154.30 h1.6" stroke="#111" stroke-width="0.55" fill="none"/>
<circle cx="105.09" cy="151.66" r="0.7" fill="#111"/>
<circle cx="104.20" cy="151.05" r="0.7" fill="#111"/>
<circle cx="104.64" cy="153.43" r="0.7" fill="#111"/>
<path d="M107.43,167.60 V168.80 M106.63,167.60 h1.6 M106.63,168.80 h1.6" stroke="#111" stroke-width="0.55" fill="none"/>
<circle cx="107.08" cy="168.16" r="0.7" fill="#111"/>
<circle cx="107.56" cy="168.03" r="0.7" fill="#111"/>
<circle cx="107.24" cy="168.02" r="0.7" fill="#111"/>
<path d="M113.18,150.70 V153.50 M112.38,150.70 h1.6 M112.38,153.50 h1.6" stroke="#111" stroke-width="0.55" fill="none"/>
<circle cx="113.66" cy="151.57" r="0.7" fill="#111"/>
<circle cx="113.58" cy="151.21" r="0.7" fill="#111"/>
<circle cx="113.62" cy="153.16" r="0.7" fill="#111"/>
<path d="M116.10,147.90 V154.30 M115.30,147.90 h1.6 M115.30,154.30 h1.6" stroke="#111" stroke-width="0.55" fill="none"/>
<circle cx="116.43" cy="150.13" r="0.7" fill="#111"/>
<circle cx="115.71" cy="152.66" r="0.7" fill="#111"/>
<circle cx="115.73" cy="149.50" r="0.7" fill="#111"/>
<path d="M119.02,159.70 V161.50 M118.22,159.70 h1.6 M118.22,161.50 h1.6" stroke="#111" stroke-width="0.55" fill="none"/>
<circle cx="119.30" cy="160.03" r="0.7" fill="#111"/>
<circle cx="118.77" cy="160.36" r="0.7" fill="#111"/>
<circle cx="119.49" cy="160.51" r="0.7" fill="#111"/>
<path d="M121.94,153.50 V155.50 M121.14,153.50 h1.6 M121.14,155.50 h1.6" stroke="#111" stroke-width="0.55" fill="none"/>
<circle cx="121.35" cy="154.89" r="0.7" fill="#111"/>
<circle cx="121.55" cy="154.61" r="0.7" fill="#111"/>
<circle cx="121.62" cy="154.96" r="0.7" fill="#111"/>
<path d="M124.86,170.10 V171.90 M124.06,170.10 h1.6 M124.06,171.90 h1.6" stroke="#111" stroke-width="0.55" fill="none"/>
<circle cx="125.50" cy="170.73" r="0.7" fill="#111"/>
<circle cx="125.33" cy="171.11" r="0.7" fill="#111"/>
<circle cx="125.37" cy="170.77" r="0.7" fill="#111"/>
<path d="M130.61,147.30 V153.70 M129.81,147.30 h1.6 M129.81,153.70 h1.6" stroke="#111" stroke-width="0.55" fill="none"/>
<circle cx="130.03" cy="151.11" r="0.7" fill="#111"/>
<circle cx="130.74" cy="150.10" r="0.7" fill="#111"/>
<circle cx="130.64" cy="152.29" r="0.7" fill="#111"/>
<path d="M133.53,129.10 V132.90 M132.73,129.10 h1.6 M132.73,132.90 h1.6" stroke="#111" stroke-width="0.55" fill="none"/>
<circle cx="133.31" cy="130.75" r="0.7" fill="#111"/>
<circle cx="133.42" cy="130.72" r="0.7" fill="#111"/>
<circle cx="134.12" cy="129.95" r="0.7" fill="#111"/>
<path d="M136.45,144.30 V145.70 M135.65,144.30 h1.6 M135.65,145.70 h1.6" stroke="#111" stroke-width="0.55" fill="none"/>
<circle cx="136.42" cy="145.37" r="0.7" fill="#111"/>
<circle cx="136.62" cy="145.01" r="0.7" fill="#111"/>
<circle cx="136.53" cy="145.54" r="0.7" fill="#111"/>
<path d="M139.37,136.80 V143.20 M138.57,136.80 h1.6 M138.57,143.20 h1.6" stroke="#111" stroke-width="0.55" fill="none"/>
<circle cx="138.98" cy="141.26" r="0.7" fill="#111"/>
<circle cx="139.84" cy="140.83" r="0.7" fill="#111"/>
<circle cx="139.40" cy="138.92" r="0.7" fill="#111"/>
<path d="M142.29,164.20 V165.00 M141.49,164.20 h1.6 M141.49,165.00 h1.6" stroke="#111" stroke-width="0.55" fill="none"/>
<circle cx="142.80" cy="164.83" r="0.7" fill="#111"/>
<circle cx="142.95" cy="164.36" r="0.7" fill="#111"/>
<circle cx="141.93" cy="164.30" r="0.7" fill="#111"/>
<path d="M148.04,118.10 V124.50 M147.24,118.10 h1.6 M147.24,124.50 h1.6" stroke="#111" stroke-width="0.55" fill="none"/>
<circle cx="148.06" cy="119.76" r="0.7" fill="#111"/>
<circle cx="148.58" cy="120.94" r="0.7" fill="#111"/>
<circle cx="147.41" cy="121.20" r="0.7" fill="#111"/>
<path d="M150.96,114.10 V115.50 M150.16,114.10 h1.6 M150.16,115.50 h1.6" stroke="#111" stroke-width="0.55" fill="none"/>
<circle cx="150.50" cy="114.58" r="0.7" fill="#111"/>
<circle cx="151.19" cy="114.83" r="0.7" fill="#111"/>
<circle cx="150.84" cy="115.29" r="0.7" fill="#111"/>
<path d="M153.88,115.60 V120.80 M153.08,115.60 h1.6 M153.08,120.80 h1.6" stroke="#111" stroke-width="0.55" fill="none"/>
<circle cx="153.34" cy="116.64" r="0.7" fill="#111"/>
<circle cx="154.54" cy="118.37" r="0.7" fill="#111"/>
<circle cx="154.32" cy="116.38" r="0.7" fill="#111"/>
<path d="M156.80,142.40 V144.40 M156.00,142.40 h1.6 M156.00,144.40 h1.6" stroke="#111" stroke-width="0.55" fill="none"/>
<circle cx="156.38" cy="143.46" r="0.7" fill="#111"/>
<circle cx="157.24" cy="142.87" r="0.7" fill="#111"/>
<circle cx="157.21" cy="144.07" r="0.7" fill="#111"/>
<path d="M159.72,144.50 V146.50 M158.92,144.50 h1.6 M158.92,146.50 h1.6" stroke="#111" stroke-width="0.55" fill="none"/>
<circle cx="160.17" cy="144.71" r="0.7" fill="#111"/>
<circle cx="159.90" cy="146.08" r="0.7" fill="#111"/>
<circle cx="159.09" cy="145.13" r="0.7" fill="#111"/>
<path d="M165.47,137.00 V139.80 M164.67,137.00 h1.6 M164.67,139.80 h1.6" stroke="#111" stroke-width="0.55" fill="none"/>
<circle cx="165.64" cy="138.44" r="0.7" fill="#111"/>
<circle cx="164.84" cy="138.00" r="0.7" fill="#111"/>
<circle cx="165.92" cy="139.20" r="0.7" fill="#111"/>
<path d="M168.39,122.30 V124.30 M167.59,122.30 h1.6 M167.59,124.30 h1.6" stroke="#111" stroke-width="0.55" fill="none"/>
<circle cx="167.75" cy="122.58" r="0.7" fill="#111"/>
<circle cx="168.37" cy="122.55" r="0.7" fill="#111"/>
<circle cx="168.69" cy="123.32" r="0.7" fill="#111"/>
<path d="M171.31,115.30 V119.10 M170.51,115.30 h1.6 M170.51,119.10 h1.6" stroke="#111" stroke-width="0.55" fill="none"/>
<circle cx="171.05" cy="116.64" r="0.7" fill="#111"/>
<circle cx="171.10" cy="117.65" r="0.7" fill="#111"/>
<circle cx="171.43" cy="116.78" r="0.7" fill="#111"/>
<path d="M174.23,128.30 V130.30 M173.43,128.30 h1.6 M173.43,130.30 h1.6" stroke="#111" stroke-width="0.55" fill="none"/>
<circle cx="174.91" cy="129.19" r="0.7" fill="#111"/>
<circle cx="173.71" cy="128.51" r="0.7" fill="#111"/>
<circle cx="174.54" cy="129.77" r="0.7" fill="#111"/>
<path d="M177.15,145.40 V150.60 M176.35,145.40 h1.6 M176.35,150.60 h1.6" stroke="#111" stroke-width="0.55" fill="none"/>
<circle cx="176.70" cy="147.47" r="0.7" fill="#111"/>
<circle cx="177.30" cy="149.18" r="0.7" fill="#111"/>
<circle cx="176.98" cy="149.25" r="0.7" fill="#111"/>
<path d="M182.90,149.90 V155.10 M182.10,149.90 h1.6 M182.10,155.10 h1.6" stroke="#111" stroke-width="0.55" fill="none"/>
<circle cx="183.44" cy="150.64" r="0.7" fill="#111"/>
<circle cx="183.08" cy="153.58" r="0.7" fill="#111"/>
<circle cx="182.64" cy="154.37" r="0.7" fill="#111"/>
<path d="M185.82,134.50 V138.30 M185.02,134.50 h1.6 M185.02,138.30 h1.6" stroke="#111" stroke-width="0.55" fill="none"/>
<circle cx="185.77" cy="135.63" r="0.7" fill="#111"/>
<circle cx="185.87" cy="136.99" r="0.7" fill="#111"/>
<circle cx="185.22" cy="136.17" r="0.7" fill="#111"/>
<path d="M188.74,119.40 V123.20 M187.94,119.40 h1.6 M187.94,123.20 h1.6" stroke="#111" stroke-width="0.55" fill="none"/>
<circle cx="188.22" cy="119.87" r="0.7" fill="#111"/>
<circle cx="188.50" cy="122.73" r="0.7" fill="#111"/>
<circle cx="188.82" cy="122.43" r="0.7" fill="#111"/>
<path d="M191.66,143.80 V145.20 M190.86,143.80 h1.6 M190.86,145.20 h1.6" stroke="#111" stroke-width="0.55" fill="none"/>
<circle cx="191.61" cy="144.08" r="0.7" fill="#111"/>
<circle cx="192.10" cy="144.68" r="0.7" fill="#111"/>
<circle cx="192.20" cy="144.83" r="0.7" fill="#111"/>
<path d="M194.58,165.20 V166.00 M193.78,165.20 h1.6 M193.78,166.00 h1.6" stroke="#111" stroke-width="0.55" fill="none"/>
<circle cx="194.91" cy="165.64" r="0.7" fill="#111"/>
<circle cx="194.02" cy="165.66" r="0.7" fill="#111"/>
<circle cx="193.89" cy="165.37" r="0.7" fill="#111"/>
<path d="M200.33,115.30 V119.10 M199.53,115.30 h1.6 M199.53,119.10 h1.6" stroke="#111" stroke-width="0.55" fill="none"/>
<circle cx="199.69" cy="115.96" r="0.7" fill="#111"/>
<circle cx="199.77" cy="118.36" r="0.7" fill="#111"/>
<circle cx="199.88" cy="115.75" r="0.7" fill="#111"/>
<path d="M203.25,115.50 V116.90 M202.45,115.50 h1.6 M202.45,116.90 h1.6" stroke="#111" stroke-width="0.55" fill="none"/>
<circle cx="202.59" cy="115.77" r="0.7" fill="#111"/>
<circle cx="203.22" cy="116.42" r="0.7" fill="#111"/>
<circle cx="202.95" cy="115.98" r="0.7" fill="#111"/>
<path d="M206.17,115.50 V116.90 M205.37,115.50 h1.6 M205.37,116.90 h1.6" stroke="#111" stroke-width="0.55" fill="none"/>
<circle cx="205.52" cy="116.50" r="0.7" fill="#111"/>
<circle cx="206.19" cy="116.44" r="0.7" fill="#111"/>
<circle cx="205.62" cy="116.48" r="0.7" fill="#111"/>
<path d="M209.09,110.60 V115.80 M208.29,110.60 h1.6 M208.29,115.80 h1.6" stroke="#111" stroke-width="0.55" fill="none"/>
<circle cx="208.48" cy="112.47" r="0.7" fill="#111"/>
<circle cx="209.18" cy="114.56" r="0.7" fill="#111"/>
<circle cx="208.73" cy="111.87" r="0.7" fill="#111"/>
<path d="M212.01,113.20 V115.20 M211.21,113.20 h1.6 M211.21,115.20 h1.6" stroke="#111" stroke-width="0.55" fill="none"/>
<circle cx="211.95" cy="114.52" r="0.7" fill="#111"/>
<circle cx="212.63" cy="113.80" r="0.7" fill="#111"/>
<circle cx="212.15" cy="114.90" r="0.7" fill="#111"/>
<path d="M217.76,143.90 V149.10 M216.96,143.90 h1.6 M216.96,149.10 h1.6" stroke="#111" stroke-width="0.55" fill="none"/>
<circle cx="217.65" cy="144.77" r="0.7" fill="#111"/>
<circle cx="217.76" cy="148.47" r="0.7" fill="#111"/>
<circle cx="217.64" cy="147.53" r="0.7" fill="#111"/>
<path d="M220.68,136.40 V138.40 M219.88,136.40 h1.6 M219.88,138.40 h1.6" stroke="#111" stroke-width="0.55" fill="none"/>
<circle cx="220.56" cy="137.51" r="0.7" fill="#111"/>
<circle cx="220.79" cy="138.08" r="0.7" fill="#111"/>
<circle cx="220.94" cy="136.85" r="0.7" fill="#111"/>
<path d="M223.60,117.40 V121.20 M222.80,117.40 h1.6 M222.80,121.20 h1.6" stroke="#111" stroke-width="0.55" fill="none"/>
<circle cx="224.16" cy="118.23" r="0.7" fill="#111"/>
<circle cx="223.03" cy="120.05" r="0.7" fill="#111"/>
<circle cx="224.18" cy="119.35" r="0.7" fill="#111"/>
<path d="M226.52,110.30 V114.10 M225.72,110.30 h1.6 M225.72,114.10 h1.6" stroke="#111" stroke-width="0.55" fill="none"/>
<circle cx="226.64" cy="113.29" r="0.7" fill="#111"/>
<circle cx="226.01" cy="112.97" r="0.7" fill="#111"/>
<circle cx="226.03" cy="112.25" r="0.7" fill="#111"/>
<path d="M229.44,124.70 V126.70 M228.64,124.70 h1.6 M228.64,126.70 h1.6" stroke="#111" stroke-width="0.55" fill="none"/>
<circle cx="229.93" cy="125.76" r="0.7" fill="#111"/>
<circle cx="229.83" cy="125.97" r="0.7" fill="#111"/>
<circle cx="229.94" cy="125.85" r="0.7" fill="#111"/>
<path d="M235.19,131.40 V136.60 M234.39,131.40 h1.6 M234.39,136.60 h1.6" stroke="#111" stroke-width="0.55" fill="none"/>
<circle cx="235.31" cy="133.03" r="0.7" fill="#111"/>
<circle cx="234.79" cy="132.02" r="0.7" fill="#111"/>
<circle cx="235.16" cy="133.51" r="0.7" fill="#111"/>
<path d="M238.11,129.30 V131.30 M237.31,129.30 h1.6 M237.31,131.30 h1.6" stroke="#111" stroke-width="0.55" fill="none"/>
<circle cx="238.21" cy="129.88" r="0.7" fill="#111"/>
<circle cx="238.09" cy="130.88" r="0.7" fill="#111"/>
<circle cx="238.00" cy="130.62" r="0.7" fill="#111"/>
<path d="M241.03,113.00 V119.40 M240.23,113.00 h1.6 M240.23,119.40 h1.6" stroke="#111" stroke-width="0.55" fill="none"/>
<circle cx="241.17" cy="116.04" r="0.7" fill="#111"/>
<circle cx="241.50" cy="117.85" r="0.7" fill="#111"/>
<circle cx="241.11" cy="116.10" r="0.7" fill="#111"/>
<path d="M243.95,122.10 V128.50 M243.15,122.10 h1.6 M243.15,128.50 h1.6" stroke="#111" stroke-width="0.55" fill="none"/>
<circle cx="243.35" cy="127.59" r="0.7" fill="#111"/>
<circle cx="244.35" cy="127.26" r="0.7" fill="#111"/>
<circle cx="243.31" cy="127.40" r="0.7" fill="#111"/>
<path d="M246.87,151.50 V153.50 M246.07,151.50 h1.6 M246.07,153.50 h1.6" stroke="#111" stroke-width="0.55" fill="none"/>
<circle cx="247.08" cy="152.94" r="0.7" fill="#111"/>
<circle cx="246.27" cy="152.05" r="0.7" fill="#111"/>
<circle cx="246.53" cy="153.12" r="0.7" fill="#111"/>
<path d="M252.62,148.10 V150.90 M251.82,148.10 h1.6 M251.82,150.90 h1.6" stroke="#111" stroke-width="0.55" fill="none"/>
<circle cx="252.11" cy="149.77" r="0.7" fill="#111"/>
<circle cx="252.87" cy="148.46" r="0.7" fill="#111"/>
<circle cx="253.23" cy="148.76" r="0.7" fill="#111"/>
<path d="M255.54,137.70 V139.10 M254.74,137.70 h1.6 M254.74,139.10 h1.6" stroke="#111" stroke-width="0.55" fill="none"/>
<circle cx="255.28" cy="138.31" r="0.7" fill="#111"/>
<circle cx="255.86" cy="137.94" r="0.7" fill="#111"/>
<circle cx="254.97" cy="138.77" r="0.7" fill="#111"/>
<path d="M258.46,161.20 V162.00 M257.66,161.20 h1.6 M257.66,162.00 h1.6" stroke="#111" stroke-width="0.55" fill="none"/>
<circle cx="258.26" cy="161.65" r="0.7" fill="#111"/>
<circle cx="258.71" cy="161.28" r="0.7" fill="#111"/>
<circle cx="258.23" cy="161.56" r="0.7" fill="#111"/>
<path d="M261.38,170.30 V171.10 M260.58,170.30 h1.6 M260.58,171.10 h1.6" stroke="#111" stroke-width="0.55" fill="none"/>
<circle cx="260.97" cy="170.75" r="0.7" fill="#111"/>
<circle cx="262.02" cy="170.63" r="0.7" fill="#111"/>
<circle cx="261.44" cy="170.46" r="0.7" fill="#111"/>
<path d="M264.30,171.30 V172.10 M263.50,171.30 h1.6 M263.50,172.10 h1.6" stroke="#111" stroke-width="0.55" fill="none"/>
<circle cx="264.53" cy="171.45" r="0.7" fill="#111"/>
<circle cx="264.84" cy="171.96" r="0.7" fill="#111"/>
<circle cx="263.74" cy="171.98" r="0.7" fill="#111"/>
<path d="M270.05,147.10 V149.90 M269.25,147.10 h1.6 M269.25,149.90 h1.6" stroke="#111" stroke-width="0.55" fill="none"/>
<circle cx="270.30" cy="148.21" r="0.7" fill="#111"/>
<circle cx="269.98" cy="148.86" r="0.7" fill="#111"/>
<circle cx="270.29" cy="149.50" r="0.7" fill="#111"/>
<path d="M272.97,122.90 V125.70 M272.17,122.90 h1.6 M272.17,125.70 h1.6" stroke="#111" stroke-width="0.55" fill="none"/>
<circle cx="272.42" cy="125.30" r="0.7" fill="#111"/>
<circle cx="272.74" cy="124.45" r="0.7" fill="#111"/>
<circle cx="273.01" cy="124.67" r="0.7" fill="#111"/>
<path d="M275.89,123.10 V128.30 M275.09,123.10 h1.6 M275.09,128.30 h1.6" stroke="#111" stroke-width="0.55" fill="none"/>
<circle cx="275.68" cy="126.61" r="0.7" fill="#111"/>
<circle cx="276.14" cy="125.98" r="0.7" fill="#111"/>
<circle cx="275.44" cy="126.31" r="0.7" fill="#111"/>
<path d="M278.81,111.00 V117.40 M278.01,111.00 h1.6 M278.01,117.40 h1.6" stroke="#111" stroke-width="0.55" fill="none"/>
<circle cx="278.32" cy="113.54" r="0.7" fill="#111"/>
<circle cx="279.40" cy="113.97" r="0.7" fill="#111"/>
<circle cx="278.26" cy="114.51" r="0.7" fill="#111"/>
<path d="M281.73,160.10 V161.90 M280.93,160.10 h1.6 M280.93,161.90 h1.6" stroke="#111" stroke-width="0.55" fill="none"/>
<circle cx="282.04" cy="161.14" r="0.7" fill="#111"/>
<circle cx="281.81" cy="161.21" r="0.7" fill="#111"/>
<circle cx="281.67" cy="160.73" r="0.7" fill="#111"/>
<path d="M287.48,145.50 V147.50 M286.68,145.50 h1.6 M286.68,147.50 h1.6" stroke="#111" stroke-width="0.55" fill="none"/>
<circle cx="287.77" cy="145.87" r="0.7" fill="#111"/>
<circle cx="287.03" cy="146.59" r="0.7" fill="#111"/>
<circle cx="287.59" cy="146.33" r="0.7" fill="#111"/>
<path d="M290.40,127.60 V129.00 M289.60,127.60 h1.6 M289.60,129.00 h1.6" stroke="#111" stroke-width="0.55" fill="none"/>
<circle cx="290.07" cy="128.17" r="0.7" fill="#111"/>
<circle cx="290.92" cy="127.79" r="0.7" fill="#111"/>
<circle cx="290.41" cy="128.02" r="0.7" fill="#111"/>
<path d="M293.32,127.70 V132.90 M292.52,127.70 h1.6 M292.52,132.90 h1.6" stroke="#111" stroke-width="0.55" fill="none"/>
<circle cx="293.12" cy="129.60" r="0.7" fill="#111"/>
<circle cx="293.18" cy="130.47" r="0.7" fill="#111"/>
<circle cx="293.70" cy="129.69" r="0.7" fill="#111"/>
<path d="M296.24,116.50 V117.90 M295.44,116.50 h1.6 M295.44,117.90 h1.6" stroke="#111" stroke-width="0.55" fill="none"/>
<circle cx="295.75" cy="117.30" r="0.7" fill="#111"/>
<circle cx="296.49" cy="117.27" r="0.7" fill="#111"/>
<circle cx="296.81" cy="116.77" r="0.7" fill="#111"/>
<path d="M299.16,167.80 V168.60 M298.36,167.80 h1.6 M298.36,168.60 h1.6" stroke="#111" stroke-width="0.55" fill="none"/>
<circle cx="299.25" cy="168.31" r="0.7" fill="#111"/>
<circle cx="299.01" cy="168.51" r="0.7" fill="#111"/>
<circle cx="298.64" cy="168.27" r="0.7" fill="#111"/>
<path d="M304.26,151.60 V155.40 M303.46,151.60 h1.6 M303.46,155.40 h1.6" stroke="#111" stroke-width="0.55" fill="none"/>
<circle cx="304.68" cy="153.64" r="0.7" fill="#111"/>
<circle cx="303.80" cy="152.52" r="0.7" fill="#111"/>
<circle cx="304.78" cy="153.10" r="0.7" fill="#111"/>
<path d="M306.88,122.90 V125.70 M306.08,122.90 h1.6 M306.08,125.70 h1.6" stroke="#111" stroke-width="0.55" fill="none"/>
<circle cx="306.22" cy="124.98" r="0.7" fill="#111"/>
<circle cx="307.43" cy="125.31" r="0.7" fill="#111"/>
<circle cx="306.72" cy="124.42" r="0.7" fill="#111"/>
<path d="M309.50,123.70 V128.90 M308.70,123.70 h1.6 M308.70,128.90 h1.6" stroke="#111" stroke-width="0.55" fill="none"/>
<circle cx="309.23" cy="126.29" r="0.7" fill="#111"/>
<circle cx="309.54" cy="127.16" r="0.7" fill="#111"/>
<circle cx="310.05" cy="127.00" r="0.7" fill="#111"/>
<path d="M312.12,154.80 V156.20 M311.32,154.80 h1.6 M311.32,156.20 h1.6" stroke="#111" stroke-width="0.55" fill="none"/>
<circle cx="312.26" cy="155.75" r="0.7" fill="#111"/>
<circle cx="311.42" cy="155.80" r="0.7" fill="#111"/>
<circle cx="312.35" cy="155.49" r="0.7" fill="#111"/>
<path d="M314.74,166.70 V168.50 M313.94,166.70 h1.6 M313.94,168.50 h1.6" stroke="#111" stroke-width="0.55" fill="none"/>
<circle cx="314.68" cy="167.16" r="0.7" fill="#111"/>
<circle cx="314.78" cy="166.93" r="0.7" fill="#111"/>
<circle cx="314.74" cy="167.81" r="0.7" fill="#111"/>
<path d="M319.46,160.20 V161.00 M318.66,160.20 h1.6 M318.66,161.00 h1.6" stroke="#111" stroke-width="0.55" fill="none"/>
<circle cx="319.55" cy="160.89" r="0.7" fill="#111"/>
<circle cx="320.01" cy="160.37" r="0.7" fill="#111"/>
<circle cx="319.87" cy="160.68" r="0.7" fill="#111"/>
<path d="M322.08,123.60 V125.00 M321.28,123.60 h1.6 M321.28,125.00 h1.6" stroke="#111" stroke-width="0.55" fill="none"/>
<circle cx="321.42" cy="124.43" r="0.7" fill="#111"/>
<circle cx="322.09" cy="124.30" r="0.7" fill="#111"/>
<circle cx="321.41" cy="124.12" r="0.7" fill="#111"/>
<path d="M324.70,129.90 V132.70 M323.90,129.90 h1.6 M323.90,132.70 h1.6" stroke="#111" stroke-width="0.55" fill="none"/>
<circle cx="325.22" cy="131.74" r="0.7" fill="#111"/>
<circle cx="324.19" cy="132.10" r="0.7" fill="#111"/>
<circle cx="324.84" cy="132.26" r="0.7" fill="#111"/>
<path d="M327.32,162.60 V163.40 M326.52,162.60 h1.6 M326.52,163.40 h1.6" stroke="#111" stroke-width="0.55" fill="none"/>
<circle cx="327.66" cy="162.90" r="0.7" fill="#111"/>
<circle cx="327.75" cy="163.28" r="0.7" fill="#111"/>
<circle cx="327.83" cy="162.96" r="0.7" fill="#111"/>
<path d="M329.94,167.60 V168.80 M329.14,167.60 h1.6 M329.14,168.80 h1.6" stroke="#111" stroke-width="0.55" fill="none"/>
<circle cx="329.68" cy="168.48" r="0.7" fill="#111"/>
<circle cx="329.81" cy="168.53" r="0.7" fill="#111"/>
<circle cx="330.23" cy="168.10" r="0.7" fill="#111"/>
<path d="M334.66,131.50 V135.30 M333.86,131.50 h1.6 M333.86,135.30 h1.6" stroke="#111" stroke-width="0.55" fill="none"/>
<circle cx="334.94" cy="133.51" r="0.7" fill="#111"/>
<circle cx="334.55" cy="133.85" r="0.7" fill="#111"/>
<circle cx="334.39" cy="133.29" r="0.7" fill="#111"/>
<path d="M337.28,126.10 V132.50 M336.48,126.10 h1.6 M336.48,132.50 h1.6" stroke="#111" stroke-width="0.55" fill="none"/>
<circle cx="337.14" cy="127.66" r="0.7" fill="#111"/>
<circle cx="337.84" cy="130.42" r="0.7" fill="#111"/>
<circle cx="337.09" cy="128.64" r="0.7" fill="#111"/>
<path d="M339.90,125.70 V130.90 M339.10,125.70 h1.6 M339.10,130.90 h1.6" stroke="#111" stroke-width="0.55" fill="none"/>
<circle cx="339.71" cy="127.89" r="0.7" fill="#111"/>
<circle cx="340.56" cy="129.57" r="0.7" fill="#111"/>
<circle cx="339.56" cy="127.76" r="0.7" fill="#111"/>
<path d="M342.52,143.60 V147.40 M341.72,143.60 h1.6 M341.72,147.40 h1.6" stroke="#111" stroke-width="0.55" fill="none"/>
<circle cx="342.57" cy="144.46" r="0.7" fill="#111"/>
<circle cx="341.85" cy="145.76" r="0.7" fill="#111"/>
<circle cx="342.53" cy="145.92" r="0.7" fill="#111"/>
<path d="M345.14,164.20 V165.00 M344.34,164.20 h1.6 M344.34,165.00 h1.6" stroke="#111" stroke-width="0.55" fill="none"/>
<circle cx="345.29" cy="164.56" r="0.7" fill="#111"/>
<circle cx="344.70" cy="164.82" r="0.7" fill="#111"/>
<circle cx="345.00" cy="164.48" r="0.7" fill="#111"/>
<path d="M349.86,131.70 V133.10 M349.06,131.70 h1.6 M349.06,133.10 h1.6" stroke="#111" stroke-width="0.55" fill="none"/>
<circle cx="350.14" cy="131.90" r="0.7" fill="#111"/>
<circle cx="349.72" cy="132.28" r="0.7" fill="#111"/>
<circle cx="349.20" cy="132.92" r="0.7" fill="#111"/>
<path d="M352.48,118.30 V120.30 M351.68,118.30 h1.6 M351.68,120.30 h1.6" stroke="#111" stroke-width="0.55" fill="none"/>
<circle cx="352.12" cy="119.12" r="0.7" fill="#111"/>
<circle cx="352.05" cy="119.03" r="0.7" fill="#111"/>
<circle cx="351.94" cy="119.96" r="0.7" fill="#111"/>
<path d="M355.10,117.70 V122.90 M354.30,117.70 h1.6 M354.30,122.90 h1.6" stroke="#111" stroke-width="0.55" fill="none"/>
<circle cx="354.47" cy="121.25" r="0.7" fill="#111"/>
<circle cx="354.79" cy="121.50" r="0.7" fill="#111"/>
<circle cx="355.05" cy="122.10" r="0.7" fill="#111"/>
<path d="M357.72,127.50 V130.30 M356.92,127.50 h1.6 M356.92,130.30 h1.6" stroke="#111" stroke-width="0.55" fill="none"/>
<circle cx="357.70" cy="129.04" r="0.7" fill="#111"/>
<circle cx="357.06" cy="128.53" r="0.7" fill="#111"/>
<circle cx="358.41" cy="128.49" r="0.7" fill="#111"/>
<path d="M360.34,150.80 V152.20 M359.54,150.80 h1.6 M359.54,152.20 h1.6" stroke="#111" stroke-width="0.55" fill="none"/>
<circle cx="360.60" cy="152.03" r="0.7" fill="#111"/>
<circle cx="360.47" cy="150.94" r="0.7" fill="#111"/>
<circle cx="359.68" cy="151.04" r="0.7" fill="#111"/>
<path d="M365.06,136.40 V138.40 M364.26,136.40 h1.6 M364.26,138.40 h1.6" stroke="#111" stroke-width="0.55" fill="none"/>
<circle cx="365.06" cy="137.37" r="0.7" fill="#111"/>
<circle cx="364.62" cy="137.42" r="0.7" fill="#111"/>
<circle cx="364.82" cy="138.04" r="0.7" fill="#111"/>
<path d="M367.68,124.40 V128.20 M366.88,124.40 h1.6 M366.88,128.20 h1.6" stroke="#111" stroke-width="0.55" fill="none"/>
<circle cx="367.46" cy="126.24" r="0.7" fill="#111"/>
<circle cx="367.47" cy="126.78" r="0.7" fill="#111"/>
<circle cx="367.52" cy="127.06" r="0.7" fill="#111"/>
<path d="M370.30,112.00 V118.40 M369.50,112.00 h1.6 M369.50,118.40 h1.6" stroke="#111" stroke-width="0.55" fill="none"/>
<circle cx="370.93" cy="113.09" r="0.7" fill="#111"/>
<circle cx="370.01" cy="116.99" r="0.7" fill="#111"/>
<circle cx="369.76" cy="114.64" r="0.7" fill="#111"/>
<path d="M372.92,114.80 V117.60 M372.12,114.80 h1.6 M372.12,117.60 h1.6" stroke="#111" stroke-width="0.55" fill="none"/>
<circle cx="372.97" cy="116.82" r="0.7" fill="#111"/>
<circle cx="372.78" cy="116.96" r="0.7" fill="#111"/>
<circle cx="373.43" cy="115.94" r="0.7" fill="#111"/>
<path d="M375.54,127.70 V132.90 M374.74,127.70 h1.6 M374.74,132.90 h1.6" stroke="#111" stroke-width="0.55" fill="none"/>
<circle cx="375.34" cy="128.99" r="0.7" fill="#111"/>
<circle cx="375.96" cy="130.04" r="0.7" fill="#111"/>
<circle cx="375.46" cy="131.14" r="0.7" fill="#111"/>
<path d="M380.26,158.20 V161.00 M379.46,158.20 h1.6 M379.46,161.00 h1.6" stroke="#111" stroke-width="0.55" fill="none"/>
<circle cx="379.94" cy="158.86" r="0.7" fill="#111"/>
<circle cx="380.57" cy="159.84" r="0.7" fill="#111"/>
<circle cx="380.55" cy="159.35" r="0.7" fill="#111"/>
<path d="M382.88,122.40 V126.20 M382.08,122.40 h1.6 M382.08,126.20 h1.6" stroke="#111" stroke-width="0.55" fill="none"/>
<circle cx="382.24" cy="123.30" r="0.7" fill="#111"/>
<circle cx="383.23" cy="125.28" r="0.7" fill="#111"/>
<circle cx="382.31" cy="124.88" r="0.7" fill="#111"/>
<path d="M385.50,123.50 V129.90 M384.70,123.50 h1.6 M384.70,129.90 h1.6" stroke="#111" stroke-width="0.55" fill="none"/>
<circle cx="384.94" cy="125.35" r="0.7" fill="#111"/>
<circle cx="385.98" cy="127.43" r="0.7" fill="#111"/>
<circle cx="386.03" cy="128.61" r="0.7" fill="#111"/>
<path d="M388.12,164.00 V165.20 M387.32,164.00 h1.6 M387.32,165.20 h1.6" stroke="#111" stroke-width="0.55" fill="none"/>
<circle cx="388.68" cy="164.82" r="0.7" fill="#111"/>
<circle cx="387.89" cy="164.48" r="0.7" fill="#111"/>
<circle cx="387.52" cy="164.50" r="0.7" fill="#111"/>
<path d="M390.74,162.00 V163.20 M389.94,162.00 h1.6 M389.94,163.20 h1.6" stroke="#111" stroke-width="0.55" fill="none"/>
<circle cx="390.84" cy="162.23" r="0.7" fill="#111"/>
<circle cx="390.15" cy="162.74" r="0.7" fill="#111"/>
<circle cx="390.38" cy="162.17" r="0.7" fill="#111"/>
<path d="M395.46,157.60 V159.60 M394.66,157.60 h1.6 M394.66,159.60 h1.6" stroke="#111" stroke-width="0.55" fill="none"/>
<circle cx="396.07" cy="158.03" r="0.7" fill="#111"/>
<circle cx="396.14" cy="157.98" r="0.7" fill="#111"/>
<circle cx="395.16" cy="158.13" r="0.7" fill="#111"/>
<path d="M398.08,138.80 V144.00 M397.28,138.80 h1.6 M397.28,144.00 h1.6" stroke="#111" stroke-width="0.55" fill="none"/>
<circle cx="398.10" cy="141.42" r="0.7" fill="#111"/>
<circle cx="398.65" cy="140.65" r="0.7" fill="#111"/>
<circle cx="398.62" cy="142.57" r="0.7" fill="#111"/>
<path d="M400.70,132.90 V136.70 M399.90,132.90 h1.6 M399.90,136.70 h1.6" stroke="#111" stroke-width="0.55" fill="none"/>
<circle cx="400.25" cy="133.52" r="0.7" fill="#111"/>
<circle cx="401.16" cy="133.62" r="0.7" fill="#111"/>
<circle cx="400.03" cy="136.22" r="0.7" fill="#111"/>
<path d="M403.32,152.50 V154.50 M402.52,152.50 h1.6 M402.52,154.50 h1.6" stroke="#111" stroke-width="0.55" fill="none"/>
<circle cx="403.94" cy="153.11" r="0.7" fill="#111"/>
<circle cx="402.77" cy="153.34" r="0.7" fill="#111"/>
<circle cx="403.78" cy="153.79" r="0.7" fill="#111"/>
<path d="M405.94,165.70 V167.50 M405.14,165.70 h1.6 M405.14,167.50 h1.6" stroke="#111" stroke-width="0.55" fill="none"/>
<circle cx="405.92" cy="166.84" r="0.7" fill="#111"/>
<circle cx="406.22" cy="166.46" r="0.7" fill="#111"/>
<circle cx="406.17" cy="167.00" r="0.7" fill="#111"/>
<path d="M410.66,156.20 V159.00 M409.86,156.20 h1.6 M409.86,159.00 h1.6" stroke="#111" stroke-width="0.55" fill="none"/>
<circle cx="411.13" cy="157.81" r="0.7" fill="#111"/>
<circle cx="411.10" cy="156.94" r="0.7" fill="#111"/>
<circle cx="410.71" cy="157.52" r="0.7" fill="#111"/>
<path d="M413.28,135.80 V142.20 M412.48,135.80 h1.6 M412.48,142.20 h1.6" stroke="#111" stroke-width="0.55" fill="none"/>
<circle cx="413.48" cy="138.19" r="0.7" fill="#111"/>
<circle cx="412.85" cy="140.30" r="0.7" fill="#111"/>
<circle cx="413.87" cy="139.95" r="0.7" fill="#111"/>
<path d="M415.90,124.90 V127.70 M415.10,124.90 h1.6 M415.10,127.70 h1.6" stroke="#111" stroke-width="0.55" fill="none"/>
<circle cx="415.79" cy="126.63" r="0.7" fill="#111"/>
<circle cx="416.05" cy="125.66" r="0.7" fill="#111"/>
<circle cx="415.69" cy="127.41" r="0.7" fill="#111"/>
<path d="M418.52,135.00 V137.80 M417.72,135.00 h1.6 M417.72,137.80 h1.6" stroke="#111" stroke-width="0.55" fill="none"/>
<circle cx="418.15" cy="136.26" r="0.7" fill="#111"/>
<circle cx="418.17" cy="136.00" r="0.7" fill="#111"/>
<circle cx="418.87" cy="135.74" r="0.7" fill="#111"/>
<path d="M421.14,157.60 V159.60 M420.34,157.60 h1.6 M420.34,159.60 h1.6" stroke="#111" stroke-width="0.55" fill="none"/>
<circle cx="421.66" cy="159.38" r="0.7" fill="#111"/>
<circle cx="421.30" cy="159.29" r="0.7" fill="#111"/>
<circle cx="421.19" cy="158.47" r="0.7" fill="#111"/>
<path d="M425.86,151.90 V153.90 M425.06,151.90 h1.6 M425.06,153.90 h1.6" stroke="#111" stroke-width="0.55" fill="none"/>
<circle cx="426.42" cy="153.62" r="0.7" fill="#111"/>
<circle cx="425.84" cy="153.34" r="0.7" fill="#111"/>
<circle cx="425.73" cy="153.70" r="0.7" fill="#111"/>
<path d="M428.48,126.60 V128.00 M427.68,126.60 h1.6 M427.68,128.00 h1.6" stroke="#111" stroke-width="0.55" fill="none"/>
<circle cx="428.19" cy="127.79" r="0.7" fill="#111"/>
<circle cx="428.04" cy="126.85" r="0.7" fill="#111"/>
<circle cx="428.79" cy="127.07" r="0.7" fill="#111"/>
<path d="M431.10,156.60 V161.80 M430.30,156.60 h1.6 M430.30,161.80 h1.6" stroke="#111" stroke-width="0.55" fill="none"/>
<circle cx="430.49" cy="159.08" r="0.7" fill="#111"/>
<circle cx="430.67" cy="157.98" r="0.7" fill="#111"/>
<circle cx="431.09" cy="157.28" r="0.7" fill="#111"/>
<path d="M433.72,168.80 V170.60 M432.92,168.80 h1.6 M432.92,170.60 h1.6" stroke="#111" stroke-width="0.55" fill="none"/>
<circle cx="433.30" cy="170.11" r="0.7" fill="#111"/>
<circle cx="433.22" cy="169.62" r="0.7" fill="#111"/>
<circle cx="434.29" cy="169.62" r="0.7" fill="#111"/>
<path d="M436.34,171.90 V172.70 M435.54,171.90 h1.6 M435.54,172.70 h1.6" stroke="#111" stroke-width="0.55" fill="none"/>
<circle cx="436.32" cy="172.50" r="0.7" fill="#111"/>
<circle cx="436.04" cy="172.22" r="0.7" fill="#111"/>
<circle cx="436.77" cy="172.39" r="0.7" fill="#111"/>
<path d="M441.06,166.40 V167.60 M440.26,166.40 h1.6 M440.26,167.60 h1.6" stroke="#111" stroke-width="0.55" fill="none"/>
<circle cx="440.80" cy="166.96" r="0.7" fill="#111"/>
<circle cx="441.10" cy="167.04" r="0.7" fill="#111"/>
<circle cx="440.86" cy="167.34" r="0.7" fill="#111"/>
<path d="M443.68,134.40 V137.20 M442.88,134.40 h1.6 M442.88,137.20 h1.6" stroke="#111" stroke-width="0.55" fill="none"/>
<circle cx="443.02" cy="135.52" r="0.7" fill="#111"/>
<circle cx="443.48" cy="136.54" r="0.7" fill="#111"/>
<circle cx="444.03" cy="136.76" r="0.7" fill="#111"/>
<path d="M446.30,169.90 V170.70 M445.50,169.90 h1.6 M445.50,170.70 h1.6" stroke="#111" stroke-width="0.55" fill="none"/>
<circle cx="445.62" cy="170.38" r="0.7" fill="#111"/>
<circle cx="445.81" cy="169.99" r="0.7" fill="#111"/>
<circle cx="446.93" cy="169.98" r="0.7" fill="#111"/>
<path d="M448.92,171.70 V172.90 M448.12,171.70 h1.6 M448.12,172.90 h1.6" stroke="#111" stroke-width="0.55" fill="none"/>
<circle cx="449.59" cy="172.57" r="0.7" fill="#111"/>
<circle cx="449.59" cy="171.85" r="0.7" fill="#111"/>
<circle cx="448.48" cy="171.83" r="0.7" fill="#111"/>
<path d="M451.54,171.70 V172.90 M450.74,171.70 h1.6 M450.74,172.90 h1.6" stroke="#111" stroke-width="0.55" fill="none"/>
<circle cx="452.01" cy="172.40" r="0.7" fill="#111"/>
<circle cx="451.98" cy="172.25" r="0.7" fill="#111"/>
<circle cx="451.21" cy="172.47" r="0.7" fill="#111"/>
<path d="M456.26,154.60 V158.40 M455.46,154.60 h1.6 M455.46,158.40 h1.6" stroke="#111" stroke-width="0.55" fill="none"/>
<circle cx="456.15" cy="155.77" r="0.7" fill="#111"/>
<circle cx="455.62" cy="156.29" r="0.7" fill="#111"/>
<circle cx="456.44" cy="157.03" r="0.7" fill="#111"/>
<path d="M458.88,124.10 V129.30 M458.08,124.10 h1.6 M458.08,129.30 h1.6" stroke="#111" stroke-width="0.55" fill="none"/>
<circle cx="458.53" cy="125.18" r="0.7" fill="#111"/>
<circle cx="459.24" cy="127.90" r="0.7" fill="#111"/>
<circle cx="458.89" cy="128.08" r="0.7" fill="#111"/>
<path d="M461.50,165.20 V166.00 M460.70,165.20 h1.6 M460.70,166.00 h1.6" stroke="#111" stroke-width="0.55" fill="none"/>
<circle cx="461.19" cy="165.39" r="0.7" fill="#111"/>
<circle cx="460.82" cy="165.69" r="0.7" fill="#111"/>
<circle cx="462.06" cy="165.86" r="0.7" fill="#111"/>
<path d="M464.12,169.10 V170.90 M463.32,169.10 h1.6 M463.32,170.90 h1.6" stroke="#111" stroke-width="0.55" fill="none"/>
<circle cx="464.35" cy="170.62" r="0.7" fill="#111"/>
<circle cx="464.56" cy="170.15" r="0.7" fill="#111"/>
<circle cx="464.00" cy="170.03" r="0.7" fill="#111"/>
<path d="M466.74,171.10 V172.30 M465.94,171.10 h1.6 M465.94,172.30 h1.6" stroke="#111" stroke-width="0.55" fill="none"/>
<circle cx="466.30" cy="171.88" r="0.7" fill="#111"/>
<circle cx="467.43" cy="171.75" r="0.7" fill="#111"/>
<circle cx="466.61" cy="171.56" r="0.7" fill="#111"/>
<path d="M471.46,145.60 V149.40 M470.66,145.60 h1.6 M470.66,149.40 h1.6" stroke="#111" stroke-width="0.55" fill="none"/>
<circle cx="471.15" cy="146.76" r="0.7" fill="#111"/>
<circle cx="471.16" cy="147.59" r="0.7" fill="#111"/>
<circle cx="471.57" cy="146.40" r="0.7" fill="#111"/>
<path d="M474.08,127.20 V128.60 M473.28,127.20 h1.6 M473.28,128.60 h1.6" stroke="#111" stroke-width="0.55" fill="none"/>
<circle cx="473.96" cy="128.29" r="0.7" fill="#111"/>
<circle cx="474.54" cy="128.38" r="0.7" fill="#111"/>
<circle cx="474.24" cy="127.37" r="0.7" fill="#111"/>
<path d="M476.70,171.40 V173.20 M475.90,171.40 h1.6 M475.90,173.20 h1.6" stroke="#111" stroke-width="0.55" fill="none"/>
<circle cx="476.77" cy="172.28" r="0.7" fill="#111"/>
<circle cx="476.39" cy="172.60" r="0.7" fill="#111"/>
<circle cx="477.28" cy="171.73" r="0.7" fill="#111"/>
<path d="M479.32,171.90 V172.70 M478.52,171.90 h1.6 M478.52,172.70 h1.6" stroke="#111" stroke-width="0.55" fill="none"/>
<circle cx="479.14" cy="172.31" r="0.7" fill="#111"/>
<circle cx="479.87" cy="172.59" r="0.7" fill="#111"/>
<circle cx="479.52" cy="172.10" r="0.7" fill="#111"/>
<path d="M481.94,171.30 V172.10 M481.14,171.30 h1.6 M481.14,172.10 h1.6" stroke="#111" stroke-width="0.55" fill="none"/>
<circle cx="482.16" cy="171.98" r="0.7" fill="#111"/>
<circle cx="481.80" cy="171.41" r="0.7" fill="#111"/>
<circle cx="481.54" cy="171.40" r="0.7" fill="#111"/>
<path d="M486.66,149.10 V151.90 M485.86,149.10 h1.6 M485.86,151.90 h1.6" stroke="#111" stroke-width="0.55" fill="none"/>
<circle cx="486.40" cy="150.26" r="0.7" fill="#111"/>
<circle cx="486.35" cy="149.67" r="0.7" fill="#111"/>
<circle cx="486.31" cy="151.58" r="0.7" fill="#111"/>
<path d="M489.28,130.60 V132.00 M488.48,130.60 h1.6 M488.48,132.00 h1.6" stroke="#111" stroke-width="0.55" fill="none"/>
<circle cx="489.27" cy="131.81" r="0.7" fill="#111"/>
<circle cx="489.61" cy="131.52" r="0.7" fill="#111"/>
<circle cx="488.74" cy="131.45" r="0.7" fill="#111"/>
<path d="M491.90,167.30 V169.10 M491.10,167.30 h1.6 M491.10,169.10 h1.6" stroke="#111" stroke-width="0.55" fill="none"/>
<circle cx="492.37" cy="168.75" r="0.7" fill="#111"/>
<circle cx="492.52" cy="168.88" r="0.7" fill="#111"/>
<circle cx="492.17" cy="168.10" r="0.7" fill="#111"/>
<path d="M494.52,169.70 V170.90 M493.72,169.70 h1.6 M493.72,170.90 h1.6" stroke="#111" stroke-width="0.55" fill="none"/>
<circle cx="494.20" cy="170.34" r="0.7" fill="#111"/>
<circle cx="493.89" cy="170.05" r="0.7" fill="#111"/>
<circle cx="495.16" cy="169.96" r="0.7" fill="#111"/>
<path d="M497.14,170.60 V171.40 M496.34,170.60 h1.6 M496.34,171.40 h1.6" stroke="#111" stroke-width="0.55" fill="none"/>
<circle cx="497.41" cy="170.98" r="0.7" fill="#111"/>
<circle cx="497.00" cy="170.69" r="0.7" fill="#111"/>
<circle cx="496.99" cy="170.80" r="0.7" fill="#111"/>
<path d="M501.86,160.20 V161.00 M501.06,160.20 h1.6 M501.06,161.00 h1.6" stroke="#111" stroke-width="0.55" fill="none"/>
<circle cx="501.60" cy="160.70" r="0.7" fill="#111"/>
<circle cx="501.34" cy="160.37" r="0.7" fill="#111"/>
<circle cx="501.89" cy="160.38" r="0.7" fill="#111"/>
<path d="M504.48,134.40 V136.40 M503.68,134.40 h1.6 M503.68,136.40 h1.6" stroke="#111" stroke-width="0.55" fill="none"/>
<circle cx="504.32" cy="134.77" r="0.7" fill="#111"/>
<circle cx="504.33" cy="136.18" r="0.7" fill="#111"/>
<circle cx="504.17" cy="134.81" r="0.7" fill="#111"/>
<path d="M507.10,170.40 V171.60 M506.30,170.40 h1.6 M506.30,171.60 h1.6" stroke="#111" stroke-width="0.55" fill="none"/>
<circle cx="506.58" cy="170.86" r="0.7" fill="#111"/>
<circle cx="507.68" cy="170.59" r="0.7" fill="#111"/>
<circle cx="506.67" cy="171.42" r="0.7" fill="#111"/>
<path d="M509.72,169.10 V170.30 M508.92,169.10 h1.6 M508.92,170.30 h1.6" stroke="#111" stroke-width="0.55" fill="none"/>
<circle cx="509.36" cy="169.56" r="0.7" fill="#111"/>
<circle cx="510.35" cy="169.69" r="0.7" fill="#111"/>
<circle cx="510.00" cy="169.52" r="0.7" fill="#111"/>
<path d="M512.34,170.10 V171.90 M511.54,170.10 h1.6 M511.54,171.90 h1.6" stroke="#111" stroke-width="0.55" fill="none"/>
<circle cx="512.12" cy="171.36" r="0.7" fill="#111"/>
<circle cx="512.73" cy="171.10" r="0.7" fill="#111"/>
<circle cx="512.29" cy="171.05" r="0.7" fill="#111"/>
<path d="M517.06,146.60 V150.40 M516.26,146.60 h1.6 M516.26,150.40 h1.6" stroke="#111" stroke-width="0.55" fill="none"/>
<circle cx="516.57" cy="148.37" r="0.7" fill="#111"/>
<circle cx="516.90" cy="149.28" r="0.7" fill="#111"/>
<circle cx="516.77" cy="149.26" r="0.7" fill="#111"/>
<path d="M519.68,122.10 V128.50 M518.88,122.10 h1.6 M518.88,128.50 h1.6" stroke="#111" stroke-width="0.55" fill="none"/>
<circle cx="519.23" cy="127.67" r="0.7" fill="#111"/>
<circle cx="520.16" cy="123.60" r="0.7" fill="#111"/>
<circle cx="519.35" cy="123.78" r="0.7" fill="#111"/>
<path d="M522.30,171.40 V173.20 M521.50,171.40 h1.6 M521.50,173.20 h1.6" stroke="#111" stroke-width="0.55" fill="none"/>
<circle cx="522.97" cy="172.17" r="0.7" fill="#111"/>
<circle cx="522.82" cy="171.74" r="0.7" fill="#111"/>
<circle cx="521.62" cy="172.83" r="0.7" fill="#111"/>
<path d="M524.92,171.40 V173.20 M524.12,171.40 h1.6 M524.12,173.20 h1.6" stroke="#111" stroke-width="0.55" fill="none"/>
<circle cx="525.18" cy="172.34" r="0.7" fill="#111"/>
<circle cx="525.29" cy="171.71" r="0.7" fill="#111"/>
<circle cx="524.98" cy="172.22" r="0.7" fill="#111"/>
<path d="M527.54,171.40 V173.20 M526.74,171.40 h1.6 M526.74,173.20 h1.6" stroke="#111" stroke-width="0.55" fill="none"/>
<circle cx="527.68" cy="172.05" r="0.7" fill="#111"/>
<circle cx="527.55" cy="172.12" r="0.7" fill="#111"/>
<circle cx="527.29" cy="172.10" r="0.7" fill="#111"/>
<path d="M532.26,167.10 V168.90 M531.46,167.10 h1.6 M531.46,168.90 h1.6" stroke="#111" stroke-width="0.55" fill="none"/>
<circle cx="532.87" cy="168.52" r="0.7" fill="#111"/>
<circle cx="532.73" cy="167.69" r="0.7" fill="#111"/>
<circle cx="532.93" cy="167.67" r="0.7" fill="#111"/>
<path d="M534.88,129.60 V131.00 M534.08,129.60 h1.6 M534.08,131.00 h1.6" stroke="#111" stroke-width="0.55" fill="none"/>
<circle cx="535.02" cy="129.99" r="0.7" fill="#111"/>
<circle cx="535.57" cy="130.56" r="0.7" fill="#111"/>
<circle cx="534.53" cy="130.23" r="0.7" fill="#111"/>
<path d="M537.50,166.60 V167.80 M536.70,166.60 h1.6 M536.70,167.80 h1.6" stroke="#111" stroke-width="0.55" fill="none"/>
<circle cx="536.98" cy="167.04" r="0.7" fill="#111"/>
<circle cx="537.90" cy="166.89" r="0.7" fill="#111"/>
<circle cx="537.67" cy="167.22" r="0.7" fill="#111"/>
<path d="M540.12,168.90 V169.70 M539.32,168.90 h1.6 M539.32,169.70 h1.6" stroke="#111" stroke-width="0.55" fill="none"/>
<circle cx="539.52" cy="169.25" r="0.7" fill="#111"/>
<circle cx="540.61" cy="169.48" r="0.7" fill="#111"/>
<circle cx="539.50" cy="169.53" r="0.7" fill="#111"/>
<path d="M542.74,169.60 V170.40 M541.94,169.60 h1.6 M541.94,170.40 h1.6" stroke="#111" stroke-width="0.55" fill="none"/>
<circle cx="543.41" cy="169.91" r="0.7" fill="#111"/>
<circle cx="542.34" cy="170.03" r="0.7" fill="#111"/>
<circle cx="543.28" cy="169.96" r="0.7" fill="#111"/>
<path d="M547.46,147.60 V151.40 M546.66,147.60 h1.6 M546.66,151.40 h1.6" stroke="#111" stroke-width="0.55" fill="none"/>
<circle cx="547.76" cy="149.08" r="0.7" fill="#111"/>
<circle cx="547.18" cy="149.52" r="0.7" fill="#111"/>
<circle cx="547.32" cy="149.11" r="0.7" fill="#111"/>
<path d="M550.08,127.10 V133.50 M549.28,127.10 h1.6 M549.28,133.50 h1.6" stroke="#111" stroke-width="0.55" fill="none"/>
<circle cx="550.34" cy="128.27" r="0.7" fill="#111"/>
<circle cx="550.07" cy="129.40" r="0.7" fill="#111"/>
<circle cx="549.38" cy="128.07" r="0.7" fill="#111"/>
<path d="M552.70,165.20 V166.00 M551.90,165.20 h1.6 M551.90,166.00 h1.6" stroke="#111" stroke-width="0.55" fill="none"/>
<circle cx="553.24" cy="165.41" r="0.7" fill="#111"/>
<circle cx="552.61" cy="165.41" r="0.7" fill="#111"/>
<circle cx="552.04" cy="165.75" r="0.7" fill="#111"/>
<path d="M555.32,169.40 V171.20 M554.52,169.40 h1.6 M554.52,171.20 h1.6" stroke="#111" stroke-width="0.55" fill="none"/>
<circle cx="555.24" cy="170.10" r="0.7" fill="#111"/>
<circle cx="555.63" cy="170.73" r="0.7" fill="#111"/>
<circle cx="554.92" cy="170.07" r="0.7" fill="#111"/>
<path d="M557.94,168.90 V169.70 M557.14,168.90 h1.6 M557.14,169.70 h1.6" stroke="#111" stroke-width="0.55" fill="none"/>
<circle cx="557.95" cy="169.57" r="0.7" fill="#111"/>
<circle cx="557.55" cy="169.07" r="0.7" fill="#111"/>
<circle cx="557.67" cy="169.33" r="0.7" fill="#111"/>
<path d="M562.66,144.80 V146.20 M561.86,144.80 h1.6 M561.86,146.20 h1.6" stroke="#111" stroke-width="0.55" fill="none"/>
<circle cx="563.11" cy="145.61" r="0.7" fill="#111"/>
<circle cx="562.08" cy="144.97" r="0.7" fill="#111"/>
<circle cx="562.45" cy="144.95" r="0.7" fill="#111"/>
<path d="M565.28,126.70 V128.70 M564.48,126.70 h1.6 M564.48,128.70 h1.6" stroke="#111" stroke-width="0.55" fill="none"/>
<circle cx="565.24" cy="127.12" r="0.7" fill="#111"/>
<circle cx="564.87" cy="127.92" r="0.7" fill="#111"/>
<circle cx="565.40" cy="128.42" r="0.7" fill="#111"/>
<path d="M567.90,171.10 V172.30 M567.10,171.10 h1.6 M567.10,172.30 h1.6" stroke="#111" stroke-width="0.55" fill="none"/>
<circle cx="567.60" cy="171.83" r="0.7" fill="#111"/>
<circle cx="568.24" cy="172.06" r="0.7" fill="#111"/>
<circle cx="567.29" cy="172.06" r="0.7" fill="#111"/>
<path d="M570.52,171.70 V172.90 M569.72,171.70 h1.6 M569.72,172.90 h1.6" stroke="#111" stroke-width="0.55" fill="none"/>
<circle cx="569.91" cy="171.83" r="0.7" fill="#111"/>
<circle cx="570.49" cy="172.23" r="0.7" fill="#111"/>
<circle cx="571.07" cy="172.61" r="0.7" fill="#111"/>
<path d="M573.14,170.10 V171.90 M572.34,170.10 h1.6 M572.34,171.90 h1.6" stroke="#111" stroke-width="0.55" fill="none"/>
<circle cx="573.03" cy="171.12" r="0.7" fill="#111"/>
<circle cx="573.68" cy="170.57" r="0.7" fill="#111"/>
<circle cx="572.99" cy="170.41" r="0.7" fill="#111"/>
<path d="M577.86,163.20 V165.00 M577.06,163.20 h1.6 M577.06,165.00 h1.6" stroke="#111" stroke-width="0.55" fill="none"/>
<circle cx="577.20" cy="164.73" r="0.7" fill="#111"/>
<circle cx="577.89" cy="164.21" r="0.7" fill="#111"/>
<circle cx="577.28" cy="163.71" r="0.7" fill="#111"/>
<path d="M580.48,127.30 V131.10 M579.68,127.30 h1.6 M579.68,131.10 h1.6" stroke="#111" stroke-width="0.55" fill="none"/>
<circle cx="580.93" cy="130.47" r="0.7" fill="#111"/>
<circle cx="580.33" cy="128.73" r="0.7" fill="#111"/>
<circle cx="580.42" cy="130.60" r="0.7" fill="#111"/>
<path d="M583.10,164.30 V165.10 M582.30,164.30 h1.6 M582.30,165.10 h1.6" stroke="#111" stroke-width="0.55" fill="none"/>
<circle cx="583.20" cy="164.60" r="0.7" fill="#111"/>
<circle cx="583.22" cy="164.75" r="0.7" fill="#111"/>
<circle cx="582.91" cy="164.71" r="0.7" fill="#111"/>
<path d="M585.72,163.80 V165.60 M584.92,163.80 h1.6 M584.92,165.60 h1.6" stroke="#111" stroke-width="0.55" fill="none"/>
<circle cx="586.22" cy="165.04" r="0.7" fill="#111"/>
<circle cx="585.31" cy="164.07" r="0.7" fill="#111"/>
<circle cx="585.63" cy="164.43" r="0.7" fill="#111"/>
<path d="M588.34,170.10 V171.30 M587.54,170.10 h1.6 M587.54,171.30 h1.6" stroke="#111" stroke-width="0.55" fill="none"/>
<circle cx="588.86" cy="170.43" r="0.7" fill="#111"/>
<circle cx="588.79" cy="171.12" r="0.7" fill="#111"/>
<circle cx="587.81" cy="171.10" r="0.7" fill="#111"/>
<path d="M593.06,147.60 V151.40 M592.26,147.60 h1.6 M592.26,151.40 h1.6" stroke="#111" stroke-width="0.55" fill="none"/>
<circle cx="593.54" cy="148.94" r="0.7" fill="#111"/>
<circle cx="593.42" cy="148.97" r="0.7" fill="#111"/>
<circle cx="592.71" cy="150.66" r="0.7" fill="#111"/>
<path d="M595.68,128.80 V135.20 M594.88,128.80 h1.6 M594.88,135.20 h1.6" stroke="#111" stroke-width="0.55" fill="none"/>
<circle cx="596.15" cy="129.73" r="0.7" fill="#111"/>
<circle cx="595.54" cy="131.43" r="0.7" fill="#111"/>
<circle cx="595.23" cy="130.72" r="0.7" fill="#111"/>
<path d="M598.30,134.60 V137.40 M597.50,134.60 h1.6 M597.50,137.40 h1.6" stroke="#111" stroke-width="0.55" fill="none"/>
<circle cx="597.67" cy="137.04" r="0.7" fill="#111"/>
<circle cx="598.63" cy="135.35" r="0.7" fill="#111"/>
<circle cx="598.03" cy="135.27" r="0.7" fill="#111"/>
<path d="M600.92,158.20 V160.20 M600.12,158.20 h1.6 M600.12,160.20 h1.6" stroke="#111" stroke-width="0.55" fill="none"/>
<circle cx="600.56" cy="159.52" r="0.7" fill="#111"/>
<circle cx="600.52" cy="159.47" r="0.7" fill="#111"/>
<circle cx="601.07" cy="158.68" r="0.7" fill="#111"/>
<path d="M603.54,167.60 V168.80 M602.74,167.60 h1.6 M602.74,168.80 h1.6" stroke="#111" stroke-width="0.55" fill="none"/>
<circle cx="603.68" cy="168.13" r="0.7" fill="#111"/>
<circle cx="603.09" cy="168.01" r="0.7" fill="#111"/>
<circle cx="603.36" cy="167.80" r="0.7" fill="#111"/>
<path d="M608.26,166.60 V167.80 M607.46,166.60 h1.6 M607.46,167.80 h1.6" stroke="#111" stroke-width="0.55" fill="none"/>
<circle cx="608.25" cy="167.28" r="0.7" fill="#111"/>
<circle cx="607.94" cy="167.58" r="0.7" fill="#111"/>
<circle cx="608.52" cy="166.93" r="0.7" fill="#111"/>
<path d="M610.88,123.70 V128.90 M610.08,123.70 h1.6 M610.08,128.90 h1.6" stroke="#111" stroke-width="0.55" fill="none"/>
<circle cx="611.56" cy="125.66" r="0.7" fill="#111"/>
<circle cx="611.57" cy="126.23" r="0.7" fill="#111"/>
<circle cx="610.43" cy="127.20" r="0.7" fill="#111"/>
<path d="M613.50,166.70 V168.50 M612.70,166.70 h1.6 M612.70,168.50 h1.6" stroke="#111" stroke-width="0.55" fill="none"/>
<circle cx="613.00" cy="167.34" r="0.7" fill="#111"/>
<circle cx="613.29" cy="167.09" r="0.7" fill="#111"/>
<circle cx="613.22" cy="167.79" r="0.7" fill="#111"/>
<path d="M616.12,169.10 V170.30 M615.32,169.10 h1.6 M615.32,170.30 h1.6" stroke="#111" stroke-width="0.55" fill="none"/>
<circle cx="615.94" cy="169.26" r="0.7" fill="#111"/>
<circle cx="615.91" cy="169.83" r="0.7" fill="#111"/>
<circle cx="616.29" cy="169.89" r="0.7" fill="#111"/>
<path d="M618.74,169.10 V170.90 M617.94,169.10 h1.6 M617.94,170.90 h1.6" stroke="#111" stroke-width="0.55" fill="none"/>
<circle cx="618.46" cy="170.56" r="0.7" fill="#111"/>
<circle cx="619.28" cy="170.06" r="0.7" fill="#111"/>
<circle cx="619.42" cy="170.48" r="0.7" fill="#111"/>
<path d="M623.46,168.10 V169.90 M622.66,168.10 h1.6 M622.66,169.90 h1.6" stroke="#111" stroke-width="0.55" fill="none"/>
<circle cx="623.17" cy="168.30" r="0.7" fill="#111"/>
<circle cx="623.71" cy="169.34" r="0.7" fill="#111"/>
<circle cx="623.25" cy="168.97" r="0.7" fill="#111"/>
<path d="M626.08,124.70 V129.90 M625.28,124.70 h1.6 M625.28,129.90 h1.6" stroke="#111" stroke-width="0.55" fill="none"/>
<circle cx="625.63" cy="126.45" r="0.7" fill="#111"/>
<circle cx="625.64" cy="128.69" r="0.7" fill="#111"/>
<circle cx="626.38" cy="126.57" r="0.7" fill="#111"/>
<path d="M628.70,164.00 V165.20 M627.90,164.00 h1.6 M627.90,165.20 h1.6" stroke="#111" stroke-width="0.55" fill="none"/>
<circle cx="629.28" cy="164.59" r="0.7" fill="#111"/>
<circle cx="628.76" cy="164.57" r="0.7" fill="#111"/>
<circle cx="629.27" cy="164.65" r="0.7" fill="#111"/>
<path d="M631.32,167.80 V168.60 M630.52,167.80 h1.6 M630.52,168.60 h1.6" stroke="#111" stroke-width="0.55" fill="none"/>
<circle cx="631.63" cy="168.27" r="0.7" fill="#111"/>
<circle cx="631.60" cy="167.99" r="0.7" fill="#111"/>
<circle cx="631.55" cy="167.96" r="0.7" fill="#111"/>
<path d="M633.94,168.40 V170.20 M633.14,168.40 h1.6 M633.14,170.20 h1.6" stroke="#111" stroke-width="0.55" fill="none"/>
<circle cx="633.40" cy="169.14" r="0.7" fill="#111"/>
<circle cx="634.02" cy="169.03" r="0.7" fill="#111"/>
<circle cx="633.62" cy="169.27" r="0.7" fill="#111"/>
<path d="M638.66,150.90 V157.30 M637.86,150.90 h1.6 M637.86,157.30 h1.6" stroke="#111" stroke-width="0.55" fill="none"/>
<circle cx="638.40" cy="156.36" r="0.7" fill="#111"/>
<circle cx="638.12" cy="156.39" r="0.7" fill="#111"/>
<circle cx="638.63" cy="153.76" r="0.7" fill="#111"/>
<path d="M641.28,124.90 V127.70 M640.48,124.90 h1.6 M640.48,127.70 h1.6" stroke="#111" stroke-width="0.55" fill="none"/>
<circle cx="641.10" cy="126.71" r="0.7" fill="#111"/>
<circle cx="640.95" cy="126.93" r="0.7" fill="#111"/>
<circle cx="641.91" cy="126.67" r="0.7" fill="#111"/>
<path d="M643.90,162.00 V163.20 M643.10,162.00 h1.6 M643.10,163.20 h1.6" stroke="#111" stroke-width="0.55" fill="none"/>
<circle cx="644.31" cy="162.82" r="0.7" fill="#111"/>
<circle cx="644.46" cy="162.21" r="0.7" fill="#111"/>
<circle cx="644.18" cy="162.84" r="0.7" fill="#111"/>
<path d="M646.52,168.70 V169.90 M645.72,168.70 h1.6 M645.72,169.90 h1.6" stroke="#111" stroke-width="0.55" fill="none"/>
<circle cx="646.29" cy="168.93" r="0.7" fill="#111"/>
<circle cx="646.98" cy="168.96" r="0.7" fill="#111"/>
<circle cx="645.88" cy="169.29" r="0.7" fill="#111"/>
<path d="M649.14,169.90 V170.70 M648.34,169.90 h1.6 M648.34,170.70 h1.6" stroke="#111" stroke-width="0.55" fill="none"/>
<circle cx="648.96" cy="170.54" r="0.7" fill="#111"/>
<circle cx="649.48" cy="170.30" r="0.7" fill="#111"/>
<circle cx="649.40" cy="170.25" r="0.7" fill="#111"/>
<path d="M653.86,146.60 V150.40 M653.06,146.60 h1.6 M653.06,150.40 h1.6" stroke="#111" stroke-width="0.55" fill="none"/>
<circle cx="653.52" cy="148.63" r="0.7" fill="#111"/>
<circle cx="653.98" cy="148.16" r="0.7" fill="#111"/>
<circle cx="653.23" cy="147.50" r="0.7" fill="#111"/>
<path d="M656.48,120.70 V127.10 M655.68,120.70 h1.6 M655.68,127.10 h1.6" stroke="#111" stroke-width="0.55" fill="none"/>
<circle cx="655.78" cy="125.39" r="0.7" fill="#111"/>
<circle cx="655.96" cy="125.07" r="0.7" fill="#111"/>
<circle cx="656.07" cy="124.92" r="0.7" fill="#111"/>
<path d="M659.10,123.10 V129.50 M658.30,123.10 h1.6 M658.30,129.50 h1.6" stroke="#111" stroke-width="0.55" fill="none"/>
<circle cx="658.92" cy="123.96" r="0.7" fill="#111"/>
<circle cx="659.18" cy="127.56" r="0.7" fill="#111"/>
<circle cx="659.69" cy="124.78" r="0.7" fill="#111"/>
<path d="M661.72,134.40 V136.40 M660.92,134.40 h1.6 M660.92,136.40 h1.6" stroke="#111" stroke-width="0.55" fill="none"/>
<circle cx="661.32" cy="136.13" r="0.7" fill="#111"/>
<circle cx="661.12" cy="135.28" r="0.7" fill="#111"/>
<circle cx="661.42" cy="134.79" r="0.7" fill="#111"/>
<path d="M664.34,126.90 V129.70 M663.54,126.90 h1.6 M663.54,129.70 h1.6" stroke="#111" stroke-width="0.55" fill="none"/>
<circle cx="664.58" cy="128.53" r="0.7" fill="#111"/>
<circle cx="663.87" cy="127.49" r="0.7" fill="#111"/>
<circle cx="664.51" cy="129.16" r="0.7" fill="#111"/>
<path d="M668.66,172.30 V173.10 M667.86,172.30 h1.6 M667.86,173.10 h1.6" stroke="#111" stroke-width="0.55" fill="none"/>
<circle cx="667.97" cy="172.43" r="0.7" fill="#111"/>
<circle cx="669.06" cy="172.63" r="0.7" fill="#111"/>
<circle cx="668.60" cy="173.02" r="0.7" fill="#111"/>
<path d="M671.28,172.10 V173.30 M670.48,172.10 h1.6 M670.48,173.30 h1.6" stroke="#111" stroke-width="0.55" fill="none"/>
<circle cx="670.95" cy="172.89" r="0.7" fill="#111"/>
<circle cx="670.58" cy="172.49" r="0.7" fill="#111"/>
<circle cx="671.56" cy="172.38" r="0.7" fill="#111"/>
<path d="M673.90,171.10 V172.30 M673.10,171.10 h1.6 M673.10,172.30 h1.6" stroke="#111" stroke-width="0.55" fill="none"/>
<circle cx="673.93" cy="171.53" r="0.7" fill="#111"/>
<circle cx="674.56" cy="171.32" r="0.7" fill="#111"/>
<circle cx="674.32" cy="171.59" r="0.7" fill="#111"/>
<path d="M676.52,172.10 V173.30 M675.72,172.10 h1.6 M675.72,173.30 h1.6" stroke="#111" stroke-width="0.55" fill="none"/>
<circle cx="677.13" cy="172.91" r="0.7" fill="#111"/>
<circle cx="676.70" cy="172.64" r="0.7" fill="#111"/>
<circle cx="676.15" cy="172.23" r="0.7" fill="#111"/>
<path d="M679.14,172.30 V173.10 M678.34,172.30 h1.6 M678.34,173.10 h1.6" stroke="#111" stroke-width="0.55" fill="none"/>
<circle cx="678.66" cy="172.63" r="0.7" fill="#111"/>
<circle cx="678.99" cy="173.01" r="0.7" fill="#111"/>
<circle cx="678.60" cy="172.81" r="0.7" fill="#111"/>
<path d="M40.5,92.4 H682.5 V175.1 H40.5 Z" fill="none" stroke="#333" stroke-width="0.8"/>
<line x1="36.9" y1="92.4" x2="40.5" y2="92.4" stroke="#333" stroke-width="0.8"/>
<text x="32.70" y="97.70" font-size="7.4" font-weight="normal" text-anchor="end" fill="#1c1c1c" textLength="19.70" lengthAdjust="spacingAndGlyphs" >15000</text>
<line x1="36.9" y1="123.3" x2="40.5" y2="123.3" stroke="#333" stroke-width="0.8"/>
<text x="32.70" y="127.00" font-size="7.4" font-weight="normal" text-anchor="end" fill="#1c1c1c" textLength="19.70" lengthAdjust="spacingAndGlyphs" >10000</text>
<line x1="36.9" y1="153.9" x2="40.5" y2="153.9" stroke="#333" stroke-width="0.8"/>
<text x="32.70" y="157.60" font-size="7.4" font-weight="normal" text-anchor="end" fill="#1c1c1c" textLength="15.76" lengthAdjust="spacingAndGlyphs" >5000</text>
<line x1="36.9" y1="175.1" x2="40.5" y2="175.1" stroke="#333" stroke-width="0.8"/>
<text x="32.70" y="178.80" font-size="7.4" font-weight="normal" text-anchor="end" fill="#1c1c1c" textLength="3.94" lengthAdjust="spacingAndGlyphs" >0</text>
<line x1="49.30" y1="175.1" x2="49.30" y2="177.7" stroke="#333" stroke-width="0.8"/>
<text x="48.90" y="189.50" font-size="7.4" font-weight="normal" text-anchor="middle" fill="#222" >1</text>
<line x1="66.73" y1="175.1" x2="66.73" y2="177.7" stroke="#333" stroke-width="0.8"/>
<text x="66.33" y="189.50" font-size="7.4" font-weight="normal" text-anchor="middle" fill="#222" >2</text>
<line x1="84.16" y1="175.1" x2="84.16" y2="177.7" stroke="#333" stroke-width="0.8"/>
<text x="83.76" y="189.50" font-size="7.4" font-weight="normal" text-anchor="middle" fill="#222" >3</text>
<line x1="101.59" y1="175.1" x2="101.59" y2="177.7" stroke="#333" stroke-width="0.8"/>
<text x="101.19" y="189.50" font-size="7.4" font-weight="normal" text-anchor="middle" fill="#222" >4</text>
<line x1="119.02" y1="175.1" x2="119.02" y2="177.7" stroke="#333" stroke-width="0.8"/>
<text x="118.62" y="189.50" font-size="7.4" font-weight="normal" text-anchor="middle" fill="#222" >5</text>
<line x1="136.45" y1="175.1" x2="136.45" y2="177.7" stroke="#333" stroke-width="0.8"/>
<text x="136.05" y="189.50" font-size="7.4" font-weight="normal" text-anchor="middle" fill="#222" >6</text>
<line x1="153.88" y1="175.1" x2="153.88" y2="177.7" stroke="#333" stroke-width="0.8"/>
<text x="153.48" y="189.50" font-size="7.4" font-weight="normal" text-anchor="middle" fill="#222" >7</text>
<line x1="171.31" y1="175.1" x2="171.31" y2="177.7" stroke="#333" stroke-width="0.8"/>
<text x="170.91" y="189.50" font-size="7.4" font-weight="normal" text-anchor="middle" fill="#222" >8</text>
<line x1="188.74" y1="175.1" x2="188.74" y2="177.7" stroke="#333" stroke-width="0.8"/>
<text x="188.34" y="189.50" font-size="7.4" font-weight="normal" text-anchor="middle" fill="#222" >9</text>
<line x1="206.17" y1="175.1" x2="206.17" y2="177.7" stroke="#333" stroke-width="0.8"/>
<text x="205.77" y="189.50" font-size="7.4" font-weight="normal" text-anchor="middle" fill="#222" >10</text>
<line x1="223.60" y1="175.1" x2="223.60" y2="177.7" stroke="#333" stroke-width="0.8"/>
<text x="223.20" y="189.50" font-size="7.4" font-weight="normal" text-anchor="middle" fill="#222" >11</text>
<line x1="241.03" y1="175.1" x2="241.03" y2="177.7" stroke="#333" stroke-width="0.8"/>
<text x="240.63" y="189.50" font-size="7.4" font-weight="normal" text-anchor="middle" fill="#222" >12</text>
<line x1="258.46" y1="175.1" x2="258.46" y2="177.7" stroke="#333" stroke-width="0.8"/>
<text x="258.06" y="189.50" font-size="7.4" font-weight="normal" text-anchor="middle" fill="#222" >13</text>
<line x1="275.89" y1="175.1" x2="275.89" y2="177.7" stroke="#333" stroke-width="0.8"/>
<text x="275.49" y="189.50" font-size="7.4" font-weight="normal" text-anchor="middle" fill="#222" >14</text>
<line x1="293.32" y1="175.1" x2="293.32" y2="177.7" stroke="#333" stroke-width="0.8"/>
<text x="292.92" y="189.50" font-size="7.4" font-weight="normal" text-anchor="middle" fill="#222" >15</text>
<line x1="309.50" y1="175.1" x2="309.50" y2="177.7" stroke="#333" stroke-width="0.8"/>
<text x="310.20" y="189.50" font-size="7.4" font-weight="normal" text-anchor="middle" fill="#222" >16</text>
<line x1="324.70" y1="175.1" x2="324.70" y2="177.7" stroke="#333" stroke-width="0.8"/>
<text x="325.25" y="189.50" font-size="7.4" font-weight="normal" text-anchor="middle" fill="#222" >17</text>
<line x1="339.90" y1="175.1" x2="339.90" y2="177.7" stroke="#333" stroke-width="0.8"/>
<text x="340.30" y="189.50" font-size="7.4" font-weight="normal" text-anchor="middle" fill="#222" >18</text>
<line x1="355.10" y1="175.1" x2="355.10" y2="177.7" stroke="#333" stroke-width="0.8"/>
<text x="355.35" y="189.50" font-size="7.4" font-weight="normal" text-anchor="middle" fill="#222" >19</text>
<line x1="370.30" y1="175.1" x2="370.30" y2="177.7" stroke="#333" stroke-width="0.8"/>
<text x="370.40" y="189.50" font-size="7.4" font-weight="normal" text-anchor="middle" fill="#222" >20</text>
<line x1="385.50" y1="175.1" x2="385.50" y2="177.7" stroke="#333" stroke-width="0.8"/>
<text x="385.45" y="189.50" font-size="7.4" font-weight="normal" text-anchor="middle" fill="#222" >21</text>
<line x1="400.70" y1="175.1" x2="400.70" y2="177.7" stroke="#333" stroke-width="0.8"/>
<text x="400.50" y="189.50" font-size="7.4" font-weight="normal" text-anchor="middle" fill="#222" >22</text>
<line x1="415.90" y1="175.1" x2="415.90" y2="177.7" stroke="#333" stroke-width="0.8"/>
<text x="415.55" y="189.50" font-size="7.4" font-weight="normal" text-anchor="middle" fill="#222" >23</text>
<line x1="431.10" y1="175.1" x2="431.10" y2="177.7" stroke="#333" stroke-width="0.8"/>
<text x="430.60" y="189.50" font-size="7.4" font-weight="normal" text-anchor="middle" fill="#222" >24</text>
<line x1="446.30" y1="175.1" x2="446.30" y2="177.7" stroke="#333" stroke-width="0.8"/>
<text x="445.65" y="189.50" font-size="7.4" font-weight="normal" text-anchor="middle" fill="#222" >25</text>
<line x1="461.50" y1="175.1" x2="461.50" y2="177.7" stroke="#333" stroke-width="0.8"/>
<text x="460.70" y="189.50" font-size="7.4" font-weight="normal" text-anchor="middle" fill="#222" >26</text>
<line x1="476.70" y1="175.1" x2="476.70" y2="177.7" stroke="#333" stroke-width="0.8"/>
<text x="475.75" y="189.50" font-size="7.4" font-weight="normal" text-anchor="middle" fill="#222" >27</text>
<line x1="491.90" y1="175.1" x2="491.90" y2="177.7" stroke="#333" stroke-width="0.8"/>
<text x="490.80" y="189.50" font-size="7.4" font-weight="normal" text-anchor="middle" fill="#222" >28</text>
<line x1="507.10" y1="175.1" x2="507.10" y2="177.7" stroke="#333" stroke-width="0.8"/>
<text x="505.85" y="189.50" font-size="7.4" font-weight="normal" text-anchor="middle" fill="#222" >29</text>
<line x1="522.30" y1="175.1" x2="522.30" y2="177.7" stroke="#333" stroke-width="0.8"/>
<text x="520.90" y="189.50" font-size="7.4" font-weight="normal" text-anchor="middle" fill="#222" >30</text>
<line x1="537.50" y1="175.1" x2="537.50" y2="177.7" stroke="#333" stroke-width="0.8"/>
<text x="535.95" y="189.50" font-size="7.4" font-weight="normal" text-anchor="middle" fill="#222" >31</text>
<line x1="552.70" y1="175.1" x2="552.70" y2="177.7" stroke="#333" stroke-width="0.8"/>
<text x="551.00" y="189.50" font-size="7.4" font-weight="normal" text-anchor="middle" fill="#222" >32</text>
<line x1="567.90" y1="175.1" x2="567.90" y2="177.7" stroke="#333" stroke-width="0.8"/>
<text x="566.05" y="189.50" font-size="7.4" font-weight="normal" text-anchor="middle" fill="#222" >33</text>
<line x1="583.10" y1="175.1" x2="583.10" y2="177.7" stroke="#333" stroke-width="0.8"/>
<text x="581.10" y="189.50" font-size="7.4" font-weight="normal" text-anchor="middle" fill="#222" >34</text>
<line x1="598.30" y1="175.1" x2="598.30" y2="177.7" stroke="#333" stroke-width="0.8"/>
<text x="596.15" y="189.50" font-size="7.4" font-weight="normal" text-anchor="middle" fill="#222" >35</text>
<line x1="613.50" y1="175.1" x2="613.50" y2="177.7" stroke="#333" stroke-width="0.8"/>
<text x="611.20" y="189.50" font-size="7.4" font-weight="normal" text-anchor="middle" fill="#222" >36</text>
<line x1="628.70" y1="175.1" x2="628.70" y2="177.7" stroke="#333" stroke-width="0.8"/>
<text x="626.25" y="189.50" font-size="7.4" font-weight="normal" text-anchor="middle" fill="#222" >37</text>
<line x1="643.90" y1="175.1" x2="643.90" y2="177.7" stroke="#333" stroke-width="0.8"/>
<text x="641.30" y="189.50" font-size="7.4" font-weight="normal" text-anchor="middle" fill="#222" >38</text>
<line x1="659.10" y1="175.1" x2="659.10" y2="177.7" stroke="#333" stroke-width="0.8"/>
<text x="656.35" y="189.50" font-size="7.4" font-weight="normal" text-anchor="middle" fill="#222" >39</text>
<line x1="673.90" y1="175.1" x2="673.90" y2="177.7" stroke="#333" stroke-width="0.8"/>
<text x="672.70" y="189.50" font-size="7.4" font-weight="normal" text-anchor="middle" fill="#222" >NTC</text>
<text transform="translate(7.6,137.6) rotate(-90)" font-size="6.6" text-anchor="middle" fill="#1c1c1c" textLength="91.5" lengthAdjust="spacingAndGlyphs">Fluorescence intensity (a.u.)</text>
<rect x="50.4" y="99.0" width="10.4" height="4.7" fill="#cddff6"/>
<text x="64.30" y="103.80" font-size="6.5" font-weight="bold" text-anchor="start" fill="#111" textLength="16.00" lengthAdjust="spacingAndGlyphs" >37 °C</text>
<rect x="84.0" y="99.0" width="10.4" height="4.7" fill="#1dc47e"/>
<text x="97.90" y="103.80" font-size="6.5" font-weight="bold" text-anchor="start" fill="#111" textLength="16.00" lengthAdjust="spacingAndGlyphs" >45 °C</text>
<rect x="117.5" y="99.0" width="10.4" height="4.7" fill="#5b9df2"/>
<text x="131.40" y="103.80" font-size="6.5" font-weight="bold" text-anchor="start" fill="#111" textLength="16.00" lengthAdjust="spacingAndGlyphs" >53 °C</text>
<rect x="151.0" y="99.0" width="10.4" height="4.7" fill="#16889a"/>
<text x="164.90" y="103.80" font-size="6.5" font-weight="bold" text-anchor="start" fill="#111" textLength="16.00" lengthAdjust="spacingAndGlyphs" >55 °C</text>
<rect x="184.6" y="99.0" width="10.4" height="4.7" fill="#0e4a5a"/>
<text x="198.50" y="103.80" font-size="6.5" font-weight="bold" text-anchor="start" fill="#111" textLength="16.00" lengthAdjust="spacingAndGlyphs" >57 °C</text>
<rect x="445.0" y="99.0" width="10.3" height="4.7" fill="#ffc4de"/>
<text x="458.20" y="103.80" font-size="6.5" font-weight="bold" text-anchor="start" fill="#111" textLength="16.00" lengthAdjust="spacingAndGlyphs" >37 °C</text>
<rect x="477.6" y="99.0" width="10.3" height="4.7" fill="#f9208c"/>
<text x="490.80" y="103.80" font-size="6.5" font-weight="bold" text-anchor="start" fill="#111" textLength="16.00" lengthAdjust="spacingAndGlyphs" >45 °C</text>
<rect x="511.3" y="99.0" width="10.3" height="4.7" fill="#d48fb6"/>
<text x="524.50" y="103.80" font-size="6.5" font-weight="bold" text-anchor="start" fill="#111" textLength="16.00" lengthAdjust="spacingAndGlyphs" >53 °C</text>
<rect x="544.7" y="99.0" width="10.3" height="4.7" fill="#a3125c"/>
<text x="557.90" y="103.80" font-size="6.5" font-weight="bold" text-anchor="start" fill="#111" textLength="16.00" lengthAdjust="spacingAndGlyphs" >55 °C</text>
<rect x="578.4" y="99.0" width="10.3" height="4.7" fill="#400f6e"/>
<text x="591.60" y="103.80" font-size="6.5" font-weight="bold" text-anchor="start" fill="#111" textLength="16.00" lengthAdjust="spacingAndGlyphs" >57 °C</text>
<line x1="37" y1="197.5" x2="296.5" y2="197.5" stroke="#2dbf7c" stroke-width="1.4"/>
<line x1="304" y1="197.5" x2="664" y2="197.5" stroke="#e4286f" stroke-width="1.4"/>
<path d="M102.40,208.0 V204.8 H106.00 V208.0 H117.30" fill="none" stroke="#2dbf7c" stroke-width="1.2"/>
<text x="120.70" y="210.00" font-size="8.3" font-weight="bold" text-anchor="start" fill="#111" textLength="86.90" lengthAdjust="spacingAndGlyphs" >Canonical PAM-crRNA</text>
<path d="M454.40,208.0 V204.8 H458.00 V208.0 H469.80" fill="none" stroke="#ea7ba5" stroke-width="1.2"/>
<text x="473.30" y="210.00" font-size="8.3" font-weight="bold" text-anchor="start" fill="#111" textLength="103.60" lengthAdjust="spacingAndGlyphs" >Non-canonical PAM-crRNA</text>
<text x="0.50" y="233.60" font-size="13.0" font-weight="bold" text-anchor="start" fill="#000" >d</text>
<text x="15.50" y="244.50" font-size="7.45" font-weight="normal" text-anchor="start" fill="#161616" textLength="81.40" lengthAdjust="spacingAndGlyphs" stroke="#161616" stroke-width="0.12">Preincubation for 30 min</text>
<text x="15.50" y="253.90" font-size="7.45" font-weight="normal" text-anchor="start" fill="#161616" textLength="69.60" lengthAdjust="spacingAndGlyphs" stroke="#161616" stroke-width="0.12">at 37 °C/45 °C/53 °C</text>
<path d="M41.96,258.90 C46.94,258.90 49.93,258.90 52.92,259.20 C57.41,259.70 60.10,261.90 60.10,264.90 C60.10,267.30 59.10,268.30 57.21,268.30 L53.92,268.30 C52.13,268.30 51.13,268.90 51.13,269.80 C51.13,270.70 52.13,271.20 53.92,271.20 L56.51,271.20 C58.51,271.20 59.60,272.50 59.60,275.40 C59.50,279.40 53.92,281.80 45.95,281.80 C35.98,281.80 30.00,277.40 30.00,270.20 C30.00,263.40 34.98,258.90 41.96,258.90 Z" fill="#c9c9c9"/>
<path d="M41.96,259.20 C46.94,258.90 49.93,258.90 52.92,259.20 C57.41,259.70 60.10,261.90 60.10,264.90 C60.10,267.30 59.10,268.30 57.21,268.30 L53.92,268.30 C52.13,268.30 51.13,268.90 51.13,269.80 C51.13,270.70 52.13,271.20 53.92,271.20 L56.51,271.20 C58.51,271.20 59.60,272.50 59.60,275.40 C59.50,279.40 53.92,281.80 45.95,281.80 C39.97,281.50 34.58,276.90 34.58,270.20 C34.58,263.90 37.97,259.20 41.96,259.20 Z" fill="#e5e5e5"/>
<path d="M41.96,258.90 C46.94,258.90 49.93,258.90 52.92,259.20 C57.41,259.70 60.10,261.90 60.10,264.90 C60.10,267.30 59.10,268.30 57.21,268.30 L53.92,268.30 C52.13,268.30 51.13,268.90 51.13,269.80 C51.13,270.70 52.13,271.20 53.92,271.20 L56.51,271.20 C58.51,271.20 59.60,272.50 59.60,275.40 C59.50,279.40 53.92,281.80 45.95,281.80 C35.98,281.80 30.00,277.40 30.00,270.20 C30.00,263.40 34.98,258.90 41.96,258.90 Z" fill="none" stroke="#adadad" stroke-width="0.55"/>
<text x="45.80" y="290.80" font-size="7.4" font-weight="normal" text-anchor="middle" fill="#1c1c1c" textLength="33.40" lengthAdjust="spacingAndGlyphs" stroke="#1c1c1c" stroke-width="0.1">LbCas12a</text>
<ellipse cx="127.20" cy="267.70" rx="3.8" ry="3.15" fill="#fff" stroke="#1e2f4f" stroke-width="1.05"/>
<path d="M125.20,270.35 V277.90 C125.20,281.10 122.60,281.70 119.80,281.70" fill="none" stroke="#1e2f4f" stroke-width="1.05"/>
<path d="M129.20,270.35 V277.90 C129.20,281.10 131.40,281.70 133.80,281.70" fill="none" stroke="#1e2f4f" stroke-width="1.05"/>
<line x1="125.20" y1="271.80" x2="129.20" y2="271.80" stroke="#1e2f4f" stroke-width="0.8"/>
<line x1="125.20" y1="273.47" x2="129.20" y2="273.47" stroke="#1e2f4f" stroke-width="0.8"/>
<line x1="125.20" y1="275.14" x2="129.20" y2="275.14" stroke="#1e2f4f" stroke-width="0.8"/>
<line x1="125.20" y1="276.81" x2="129.20" y2="276.81" stroke="#1e2f4f" stroke-width="0.8"/>
<line x1="133.60" y1="281.80" x2="153.80" y2="281.80" stroke="#eaa840" stroke-width="1.3"/>
<text x="129.80" y="290.80" font-size="7.4" font-weight="normal" text-anchor="middle" fill="#1c1c1c" textLength="21.60" lengthAdjust="spacingAndGlyphs" stroke="#1c1c1c" stroke-width="0.1">crRNA</text>
<path d="M145.30,273.90 H152.10 M148.70,270.50 V277.30" stroke="#d6246e" stroke-width="1.0" fill="none"/>
<polyline points="158.26,278.64 158.57,278.38 158.92,278.18 159.32,278.02 159.77,277.91 160.26,277.84 160.78,277.80 161.34,277.80 161.91,277.82 162.51,277.85 163.11,277.89 163.71,277.93 164.30,277.97 164.88,277.99 165.43,277.98 165.95,277.95 166.44,277.88 166.89,277.77 167.29,277.61 167.65,277.40 167.95,277.15 168.20,276.85 168.41,276.49 168.57,276.09 168.68,275.64 168.75,275.15 168.78,274.63 168.79,274.08 168.77,273.50 168.73,272.91 168.69,272.31 168.65,271.71 168.62,271.11 168.60,270.54 168.60,269.98 168.64,269.46 168.71,268.97 168.82,268.52 168.98,268.12 169.18,267.77 169.44,267.46" fill="none" stroke="#444" stroke-width="1.45" stroke-linecap="round" stroke-linejoin="round"/>
<polyline points="162.36,282.74 162.62,282.43 162.82,282.08 162.98,281.68 163.09,281.23 163.16,280.74 163.20,280.22 163.20,279.66 163.18,279.09 163.15,278.49 163.11,277.89 163.07,277.29 163.03,276.70 163.01,276.12 163.02,275.57 163.05,275.05 163.12,274.56 163.23,274.11 163.39,273.71 163.60,273.35 163.85,273.05 164.15,272.80 164.51,272.59 164.91,272.43 165.36,272.32 165.85,272.25 166.37,272.22 166.92,272.21 167.50,272.23 168.09,272.27 168.69,272.31 169.29,272.35 169.89,272.38 170.46,272.40 171.02,272.40 171.54,272.36 172.03,272.29 172.48,272.18 172.88,272.02 173.23,271.82 173.54,271.56" fill="none" stroke="#444" stroke-width="1.45" stroke-linecap="round" stroke-linejoin="round"/>
<line x1="159.45" y1="277.98" x2="163.02" y2="281.55" stroke="#444" stroke-width="0.6"/>
<line x1="160.96" y1="277.80" x2="163.20" y2="280.04" stroke="#444" stroke-width="0.6"/>
<line x1="166.42" y1="277.88" x2="163.12" y2="274.58" stroke="#444" stroke-width="0.6"/>
<line x1="167.95" y1="277.15" x2="163.85" y2="273.05" stroke="#444" stroke-width="0.6"/>
<line x1="168.68" y1="275.62" x2="165.38" y2="272.32" stroke="#444" stroke-width="0.6"/>
<line x1="168.60" y1="270.16" x2="170.84" y2="272.40" stroke="#444" stroke-width="0.6"/>
<line x1="168.78" y1="268.65" x2="172.35" y2="272.22" stroke="#444" stroke-width="0.6"/>
<text x="162.70" y="290.80" font-size="7.4" font-weight="normal" text-anchor="middle" fill="#1c1c1c" textLength="20.00" lengthAdjust="spacingAndGlyphs" stroke="#1c1c1c" stroke-width="0.1">Target</text>
<path d="M174.30,273.90 H181.10 M177.70,270.50 V277.30" stroke="#d6246e" stroke-width="1.0" fill="none"/>
<line x1="185.80" y1="270.20" x2="199.80" y2="270.20" stroke="#8a8a8a" stroke-width="0.7"/>
<circle cx="185.80" cy="270.20" r="1.65" fill="#3a170c"/>
<circle cx="200.80" cy="270.20" r="1.6" fill="#ecece6" stroke="#c2c2ba" stroke-width="0.45"/>
<line x1="191.00" y1="274.70" x2="205.00" y2="274.70" stroke="#8a8a8a" stroke-width="0.7"/>
<circle cx="191.00" cy="274.70" r="1.65" fill="#3a170c"/>
<circle cx="206.00" cy="274.70" r="1.6" fill="#ecece6" stroke="#c2c2ba" stroke-width="0.45"/>
<line x1="185.80" y1="279.20" x2="199.80" y2="279.20" stroke="#8a8a8a" stroke-width="0.7"/>
<circle cx="185.80" cy="279.20" r="1.65" fill="#3a170c"/>
<circle cx="200.80" cy="279.20" r="1.6" fill="#ecece6" stroke="#c2c2ba" stroke-width="0.45"/>
<text x="195.90" y="290.80" font-size="7.4" font-weight="normal" text-anchor="middle" fill="#1c1c1c" textLength="29.00" lengthAdjust="spacingAndGlyphs" stroke="#1c1c1c" stroke-width="0.1">Reporter</text>
<line x1="73.30" y1="298.70" x2="74.63" y2="299.27" stroke="#f5a623" stroke-width="3.00"/>
<line x1="76.07" y1="299.85" x2="77.42" y2="300.37" stroke="#f5a623" stroke-width="2.87"/>
<line x1="78.88" y1="300.90" x2="80.25" y2="301.37" stroke="#f5a623" stroke-width="2.73"/>
<line x1="81.73" y1="301.85" x2="83.11" y2="302.27" stroke="#f5a623" stroke-width="2.60"/>
<line x1="84.61" y1="302.69" x2="86.01" y2="303.06" stroke="#f5a623" stroke-width="2.47"/>
<line x1="87.51" y1="303.43" x2="88.93" y2="303.75" stroke="#f5a623" stroke-width="2.34"/>
<line x1="90.45" y1="304.06" x2="91.87" y2="304.32" stroke="#f5a623" stroke-width="2.20"/>
<line x1="93.40" y1="304.57" x2="94.84" y2="304.78" stroke="#f5a623" stroke-width="2.07"/>
<line x1="96.37" y1="304.98" x2="97.82" y2="305.13" stroke="#f5a623" stroke-width="1.94"/>
<line x1="99.36" y1="305.27" x2="100.81" y2="305.38" stroke="#f5a623" stroke-width="1.81"/>
<line x1="102.35" y1="305.46" x2="103.80" y2="305.51" stroke="#f5a623" stroke-width="1.67"/>
<line x1="105.35" y1="305.53" x2="106.80" y2="305.53" stroke="#f5a623" stroke-width="1.54"/>
<line x1="108.35" y1="305.50" x2="109.80" y2="305.45" stroke="#f5a623" stroke-width="1.41"/>
<path d="M69.10,296.60 L74.46,296.94 L72.04,301.09 Z" fill="#f5a623"/>
<path d="M115.80,305.40 L110.20,307.98 L110.20,302.82 Z" fill="#f5a623"/>
<line x1="172.70" y1="298.70" x2="171.36" y2="299.27" stroke="#f5a623" stroke-width="3.00"/>
<line x1="169.93" y1="299.84" x2="168.57" y2="300.36" stroke="#f5a623" stroke-width="2.87"/>
<line x1="167.12" y1="300.89" x2="165.74" y2="301.36" stroke="#f5a623" stroke-width="2.74"/>
<line x1="164.27" y1="301.84" x2="162.88" y2="302.26" stroke="#f5a623" stroke-width="2.60"/>
<line x1="161.39" y1="302.68" x2="159.99" y2="303.05" stroke="#f5a623" stroke-width="2.47"/>
<line x1="158.48" y1="303.42" x2="157.07" y2="303.73" stroke="#f5a623" stroke-width="2.34"/>
<line x1="155.55" y1="304.04" x2="154.12" y2="304.31" stroke="#f5a623" stroke-width="2.21"/>
<line x1="152.59" y1="304.56" x2="151.16" y2="304.77" stroke="#f5a623" stroke-width="2.07"/>
<line x1="149.62" y1="304.97" x2="148.18" y2="305.13" stroke="#f5a623" stroke-width="1.94"/>
<line x1="146.64" y1="305.27" x2="145.19" y2="305.37" stroke="#f5a623" stroke-width="1.81"/>
<line x1="143.64" y1="305.45" x2="142.19" y2="305.51" stroke="#f5a623" stroke-width="1.68"/>
<line x1="140.64" y1="305.53" x2="139.19" y2="305.53" stroke="#f5a623" stroke-width="1.54"/>
<line x1="137.64" y1="305.51" x2="136.19" y2="305.45" stroke="#f5a623" stroke-width="1.41"/>
<path d="M176.70,296.60 L173.75,301.08 L171.34,296.93 Z" fill="#f5a623"/>
<path d="M130.20,305.40 L135.80,302.82 L135.80,307.98 Z" fill="#f5a623"/>
<line x1="115.40" y1="307.80" x2="132.00" y2="307.80" stroke="#4a1942" stroke-width="1.6"/>
<path d="M117.03,320.80 H130.38 V331.65 A6.67,6.67 0 0 1 117.03,331.65 Z" fill="#e9b4a8"/>
<path d="M117.03,311.10 V331.65 A6.67,6.67 0 0 0 130.38,331.65 V311.10" fill="none" stroke="#4a1942" stroke-width="1.75"/>
<line x1="117.03" y1="320.80" x2="130.38" y2="320.80" stroke="#4a1942" stroke-width="1.0"/>
<circle cx="121.75" cy="316.40" r="1.55" fill="#4a1942"/>
<circle cx="126.00" cy="325.50" r="1.55" fill="#4a1942"/>
<circle cx="84.20" cy="311.20" r="4.35" fill="#fff" stroke="#222" stroke-width="0.9"/>
<text x="84.20" y="313.65" font-size="6.9" font-weight="bold" text-anchor="middle" fill="#222" >1</text>
<circle cx="161.80" cy="311.20" r="4.35" fill="#fff" stroke="#222" stroke-width="0.9"/>
<text x="161.80" y="313.65" font-size="6.9" font-weight="bold" text-anchor="middle" fill="#222" >2</text>
<clipPath id="cp255_243"><rect x="255.5" y="243.45" width="73.6" height="71.1"/></clipPath>
<g clip-path="url(#cp255_243)">
<path d="M255.50,301.93 C267.43,301.93 315.17,301.93 327.10,301.93 L327.10,303.35 C315.17,303.35 267.43,303.35 255.50,303.35 Z" fill="#fbd3d3"/>
</g>
<rect x="255.5" y="243.45" width="71.6" height="71.1" fill="none" stroke="#555" stroke-width="1.0"/>
<line x1="252.0" y1="314.55" x2="255.5" y2="314.55" stroke="#555" stroke-width="0.9"/>
<text x="249.70" y="317.25" font-size="7.3" font-weight="normal" text-anchor="end" fill="#222" >0</text>
<line x1="252.0" y1="290.85" x2="255.5" y2="290.85" stroke="#555" stroke-width="0.9"/>
<text x="249.70" y="293.55" font-size="7.3" font-weight="normal" text-anchor="end" fill="#222" >4000</text>
<line x1="252.0" y1="267.15" x2="255.5" y2="267.15" stroke="#555" stroke-width="0.9"/>
<text x="249.70" y="269.85" font-size="7.3" font-weight="normal" text-anchor="end" fill="#222" >8000</text>
<line x1="252.0" y1="243.45" x2="255.5" y2="243.45" stroke="#555" stroke-width="0.9"/>
<text x="249.70" y="246.15" font-size="7.3" font-weight="normal" text-anchor="end" fill="#222" >12000</text>
<line x1="255.50" y1="314.54999999999995" x2="255.50" y2="317.54999999999995" stroke="#555" stroke-width="0.9"/>
<text x="255.20" y="327.35" font-size="7.5" font-weight="normal" text-anchor="middle" fill="#222" >0</text>
<line x1="279.37" y1="314.54999999999995" x2="279.37" y2="317.54999999999995" stroke="#555" stroke-width="0.9"/>
<text x="279.07" y="327.35" font-size="7.5" font-weight="normal" text-anchor="middle" fill="#222" >20</text>
<line x1="303.23" y1="314.54999999999995" x2="303.23" y2="317.54999999999995" stroke="#555" stroke-width="0.9"/>
<text x="302.93" y="327.35" font-size="7.5" font-weight="normal" text-anchor="middle" fill="#222" >40</text>
<line x1="327.10" y1="314.54999999999995" x2="327.10" y2="317.54999999999995" stroke="#555" stroke-width="0.9"/>
<text x="326.80" y="327.35" font-size="7.5" font-weight="normal" text-anchor="middle" fill="#222" >60</text>
<text transform="translate(229.30,279.05) rotate(-90)" font-size="7.8" font-weight="bold" text-anchor="middle" fill="#111" textLength="32.5" lengthAdjust="spacingAndGlyphs">F.I. (a.u.)</text>
<text x="291.80" y="334.95" font-size="7.8" font-weight="bold" text-anchor="middle" fill="#111" textLength="42.20" lengthAdjust="spacingAndGlyphs" >Time (min)</text>
<line x1="300.10" y1="270.15" x2="307.20" y2="270.15" stroke="#fbd3d3" stroke-width="1.5"/>
<text x="309.60" y="272.15" font-size="5.7" font-weight="bold" text-anchor="start" fill="#111" textLength="13.00" lengthAdjust="spacingAndGlyphs" >37°C</text>
<line x1="300.10" y1="278.35" x2="307.20" y2="278.35" stroke="#f58d8d" stroke-width="1.5"/>
<text x="309.60" y="280.35" font-size="5.7" font-weight="bold" text-anchor="start" fill="#111" textLength="13.00" lengthAdjust="spacingAndGlyphs" >45°C</text>
<line x1="300.10" y1="286.55" x2="307.20" y2="286.55" stroke="#ee3a3a" stroke-width="1.5"/>
<text x="309.60" y="288.55" font-size="5.7" font-weight="bold" text-anchor="start" fill="#111" textLength="13.00" lengthAdjust="spacingAndGlyphs" >53°C</text>
<text x="360.20" y="233.30" font-size="13.0" font-weight="bold" text-anchor="start" fill="#000" >e</text>
<text x="375.10" y="244.50" font-size="7.45" font-weight="normal" text-anchor="start" fill="#161616" textLength="81.40" lengthAdjust="spacingAndGlyphs" stroke="#161616" stroke-width="0.12">Preincubation for 30 min</text>
<text x="375.10" y="253.90" font-size="7.45" font-weight="normal" text-anchor="start" fill="#161616" textLength="69.60" lengthAdjust="spacingAndGlyphs" stroke="#161616" stroke-width="0.12">at 37 °C/45 °C/53 °C</text>
<ellipse cx="405.20" cy="267.70" rx="3.8" ry="3.15" fill="#fff" stroke="#1e2f4f" stroke-width="1.05"/>
<path d="M403.20,270.35 V277.90 C403.20,281.10 400.60,281.70 397.80,281.70" fill="none" stroke="#1e2f4f" stroke-width="1.05"/>
<path d="M407.20,270.35 V277.90 C407.20,281.10 409.40,281.70 411.80,281.70" fill="none" stroke="#1e2f4f" stroke-width="1.05"/>
<line x1="403.20" y1="271.80" x2="407.20" y2="271.80" stroke="#1e2f4f" stroke-width="0.8"/>
<line x1="403.20" y1="273.47" x2="407.20" y2="273.47" stroke="#1e2f4f" stroke-width="0.8"/>
<line x1="403.20" y1="275.14" x2="407.20" y2="275.14" stroke="#1e2f4f" stroke-width="0.8"/>
<line x1="403.20" y1="276.81" x2="407.20" y2="276.81" stroke="#1e2f4f" stroke-width="0.8"/>
<line x1="411.60" y1="281.80" x2="431.80" y2="281.80" stroke="#eaa840" stroke-width="1.3"/>
<text x="409.20" y="290.80" font-size="7.4" font-weight="normal" text-anchor="middle" fill="#1c1c1c" textLength="21.60" lengthAdjust="spacingAndGlyphs" stroke="#1c1c1c" stroke-width="0.1">crRNA</text>
<path d="M485.84,258.90 C490.86,258.90 493.87,258.90 496.88,259.20 C501.39,259.70 504.10,261.91 504.10,264.93 C504.10,267.34 503.10,268.34 501.19,268.34 L497.88,268.34 C496.07,268.34 495.07,268.94 495.07,269.85 C495.07,270.75 496.07,271.25 497.88,271.25 L500.49,271.25 C502.49,271.25 503.60,272.56 503.60,275.47 C503.50,279.49 497.88,281.90 489.85,281.90 C479.82,281.90 473.80,277.48 473.80,270.25 C473.80,263.42 478.82,258.90 485.84,258.90 Z" fill="#c9c9c9"/>
<path d="M485.84,259.20 C490.86,258.90 493.87,258.90 496.88,259.20 C501.39,259.70 504.10,261.91 504.10,264.93 C504.10,267.34 503.10,268.34 501.19,268.34 L497.88,268.34 C496.07,268.34 495.07,268.94 495.07,269.85 C495.07,270.75 496.07,271.25 497.88,271.25 L500.49,271.25 C502.49,271.25 503.60,272.56 503.60,275.47 C503.50,279.49 497.88,281.90 489.85,281.90 C483.83,281.60 478.42,276.98 478.42,270.25 C478.42,263.92 481.83,259.20 485.84,259.20 Z" fill="#e5e5e5"/>
<path d="M485.84,258.90 C490.86,258.90 493.87,258.90 496.88,259.20 C501.39,259.70 504.10,261.91 504.10,264.93 C504.10,267.34 503.10,268.34 501.19,268.34 L497.88,268.34 C496.07,268.34 495.07,268.94 495.07,269.85 C495.07,270.75 496.07,271.25 497.88,271.25 L500.49,271.25 C502.49,271.25 503.60,272.56 503.60,275.47 C503.50,279.49 497.88,281.90 489.85,281.90 C479.82,281.90 473.80,277.48 473.80,270.25 C473.80,263.42 478.82,258.90 485.84,258.90 Z" fill="none" stroke="#adadad" stroke-width="0.55"/>
<text x="491.30" y="290.80" font-size="7.4" font-weight="normal" text-anchor="middle" fill="#1c1c1c" textLength="33.20" lengthAdjust="spacingAndGlyphs" stroke="#1c1c1c" stroke-width="0.1">LbCas12a</text>
<path d="M507.00,273.90 H513.80 M510.40,270.50 V277.30" stroke="#d6246e" stroke-width="1.0" fill="none"/>
<polyline points="514.66,278.64 514.97,278.38 515.32,278.18 515.72,278.02 516.17,277.91 516.66,277.84 517.18,277.80 517.74,277.80 518.31,277.82 518.91,277.85 519.51,277.89 520.11,277.93 520.70,277.97 521.28,277.99 521.83,277.98 522.35,277.95 522.84,277.88 523.29,277.77 523.69,277.61 524.05,277.40 524.35,277.15 524.60,276.85 524.81,276.49 524.97,276.09 525.08,275.64 525.15,275.15 525.18,274.63 525.19,274.08 525.17,273.50 525.13,272.91 525.09,272.31 525.05,271.71 525.02,271.11 525.00,270.54 525.00,269.98 525.04,269.46 525.11,268.97 525.22,268.52 525.38,268.12 525.58,267.77 525.84,267.46" fill="none" stroke="#444" stroke-width="1.45" stroke-linecap="round" stroke-linejoin="round"/>
<polyline points="518.76,282.74 519.02,282.43 519.22,282.08 519.38,281.68 519.49,281.23 519.56,280.74 519.60,280.22 519.60,279.66 519.58,279.09 519.55,278.49 519.51,277.89 519.47,277.29 519.43,276.70 519.41,276.12 519.42,275.57 519.45,275.05 519.52,274.56 519.63,274.11 519.79,273.71 520.00,273.35 520.25,273.05 520.55,272.80 520.91,272.59 521.31,272.43 521.76,272.32 522.25,272.25 522.77,272.22 523.32,272.21 523.90,272.23 524.49,272.27 525.09,272.31 525.69,272.35 526.29,272.38 526.86,272.40 527.42,272.40 527.94,272.36 528.43,272.29 528.88,272.18 529.28,272.02 529.63,271.82 529.94,271.56" fill="none" stroke="#444" stroke-width="1.45" stroke-linecap="round" stroke-linejoin="round"/>
<line x1="515.85" y1="277.98" x2="519.42" y2="281.55" stroke="#444" stroke-width="0.6"/>
<line x1="517.36" y1="277.80" x2="519.60" y2="280.04" stroke="#444" stroke-width="0.6"/>
<line x1="522.82" y1="277.88" x2="519.52" y2="274.58" stroke="#444" stroke-width="0.6"/>
<line x1="524.35" y1="277.15" x2="520.25" y2="273.05" stroke="#444" stroke-width="0.6"/>
<line x1="525.08" y1="275.62" x2="521.78" y2="272.32" stroke="#444" stroke-width="0.6"/>
<line x1="525.00" y1="270.16" x2="527.24" y2="272.40" stroke="#444" stroke-width="0.6"/>
<line x1="525.18" y1="268.65" x2="528.75" y2="272.22" stroke="#444" stroke-width="0.6"/>
<text x="521.40" y="290.80" font-size="7.4" font-weight="normal" text-anchor="middle" fill="#1c1c1c" textLength="19.60" lengthAdjust="spacingAndGlyphs" stroke="#1c1c1c" stroke-width="0.1">Target</text>
<path d="M531.00,273.90 H537.80 M534.40,270.50 V277.30" stroke="#d6246e" stroke-width="1.0" fill="none"/>
<line x1="540.50" y1="270.20" x2="554.50" y2="270.20" stroke="#8a8a8a" stroke-width="0.7"/>
<circle cx="540.50" cy="270.20" r="1.65" fill="#3a170c"/>
<circle cx="555.50" cy="270.20" r="1.6" fill="#ecece6" stroke="#c2c2ba" stroke-width="0.45"/>
<line x1="545.70" y1="274.70" x2="559.70" y2="274.70" stroke="#8a8a8a" stroke-width="0.7"/>
<circle cx="545.70" cy="274.70" r="1.65" fill="#3a170c"/>
<circle cx="560.70" cy="274.70" r="1.6" fill="#ecece6" stroke="#c2c2ba" stroke-width="0.45"/>
<line x1="540.50" y1="279.20" x2="554.50" y2="279.20" stroke="#8a8a8a" stroke-width="0.7"/>
<circle cx="540.50" cy="279.20" r="1.65" fill="#3a170c"/>
<circle cx="555.50" cy="279.20" r="1.6" fill="#ecece6" stroke="#c2c2ba" stroke-width="0.45"/>
<text x="556.20" y="290.80" font-size="7.4" font-weight="normal" text-anchor="middle" fill="#1c1c1c" textLength="29.00" lengthAdjust="spacingAndGlyphs" stroke="#1c1c1c" stroke-width="0.1">Reporter</text>
<line x1="417.50" y1="298.70" x2="418.83" y2="299.27" stroke="#f5a623" stroke-width="3.00"/>
<line x1="420.27" y1="299.85" x2="421.62" y2="300.37" stroke="#f5a623" stroke-width="2.87"/>
<line x1="423.08" y1="300.90" x2="424.45" y2="301.37" stroke="#f5a623" stroke-width="2.73"/>
<line x1="425.93" y1="301.85" x2="427.31" y2="302.27" stroke="#f5a623" stroke-width="2.60"/>
<line x1="428.81" y1="302.69" x2="430.21" y2="303.06" stroke="#f5a623" stroke-width="2.47"/>
<line x1="431.71" y1="303.43" x2="433.13" y2="303.75" stroke="#f5a623" stroke-width="2.34"/>
<line x1="434.65" y1="304.06" x2="436.07" y2="304.32" stroke="#f5a623" stroke-width="2.20"/>
<line x1="437.60" y1="304.57" x2="439.04" y2="304.78" stroke="#f5a623" stroke-width="2.07"/>
<line x1="440.57" y1="304.98" x2="442.02" y2="305.13" stroke="#f5a623" stroke-width="1.94"/>
<line x1="443.56" y1="305.27" x2="445.01" y2="305.38" stroke="#f5a623" stroke-width="1.81"/>
<line x1="446.55" y1="305.46" x2="448.00" y2="305.51" stroke="#f5a623" stroke-width="1.67"/>
<line x1="449.55" y1="305.53" x2="451.00" y2="305.53" stroke="#f5a623" stroke-width="1.54"/>
<line x1="452.55" y1="305.50" x2="454.00" y2="305.45" stroke="#f5a623" stroke-width="1.41"/>
<path d="M413.30,296.60 L418.66,296.94 L416.24,301.09 Z" fill="#f5a623"/>
<path d="M460.00,305.40 L454.40,307.98 L454.40,302.82 Z" fill="#f5a623"/>
<line x1="516.90" y1="298.70" x2="515.56" y2="299.27" stroke="#f5a623" stroke-width="3.00"/>
<line x1="514.13" y1="299.84" x2="512.77" y2="300.36" stroke="#f5a623" stroke-width="2.87"/>
<line x1="511.32" y1="300.89" x2="509.94" y2="301.36" stroke="#f5a623" stroke-width="2.74"/>
<line x1="508.47" y1="301.84" x2="507.08" y2="302.26" stroke="#f5a623" stroke-width="2.60"/>
<line x1="505.59" y1="302.68" x2="504.19" y2="303.05" stroke="#f5a623" stroke-width="2.47"/>
<line x1="502.68" y1="303.42" x2="501.27" y2="303.73" stroke="#f5a623" stroke-width="2.34"/>
<line x1="499.75" y1="304.04" x2="498.32" y2="304.31" stroke="#f5a623" stroke-width="2.21"/>
<line x1="496.79" y1="304.56" x2="495.36" y2="304.77" stroke="#f5a623" stroke-width="2.07"/>
<line x1="493.82" y1="304.97" x2="492.38" y2="305.13" stroke="#f5a623" stroke-width="1.94"/>
<line x1="490.84" y1="305.27" x2="489.39" y2="305.37" stroke="#f5a623" stroke-width="1.81"/>
<line x1="487.84" y1="305.45" x2="486.39" y2="305.51" stroke="#f5a623" stroke-width="1.68"/>
<line x1="484.84" y1="305.53" x2="483.39" y2="305.53" stroke="#f5a623" stroke-width="1.54"/>
<line x1="481.84" y1="305.51" x2="480.39" y2="305.45" stroke="#f5a623" stroke-width="1.41"/>
<path d="M520.90,296.60 L517.95,301.08 L515.54,296.93 Z" fill="#f5a623"/>
<path d="M474.40,305.40 L480.00,302.82 L480.00,307.98 Z" fill="#f5a623"/>
<line x1="459.60" y1="307.60" x2="476.20" y2="307.60" stroke="#4a1942" stroke-width="1.6"/>
<path d="M461.22,320.60 H474.57 V331.45 A6.68,6.68 0 0 1 461.22,331.45 Z" fill="#e9b4a8"/>
<path d="M461.22,310.90 V331.45 A6.68,6.68 0 0 0 474.57,331.45 V310.90" fill="none" stroke="#4a1942" stroke-width="1.75"/>
<line x1="461.22" y1="320.60" x2="474.57" y2="320.60" stroke="#4a1942" stroke-width="1.0"/>
<circle cx="465.95" cy="316.20" r="1.55" fill="#4a1942"/>
<circle cx="470.20" cy="325.30" r="1.55" fill="#4a1942"/>
<circle cx="428.20" cy="311.20" r="4.35" fill="#fff" stroke="#222" stroke-width="0.9"/>
<text x="428.20" y="313.65" font-size="6.9" font-weight="bold" text-anchor="middle" fill="#222" >1</text>
<circle cx="506.40" cy="311.20" r="4.35" fill="#fff" stroke="#222" stroke-width="0.9"/>
<text x="506.40" y="313.65" font-size="6.9" font-weight="bold" text-anchor="middle" fill="#222" >2</text>
<clipPath id="cp609_243"><rect x="609.7" y="243.45" width="73.6" height="71.1"/></clipPath>
<g clip-path="url(#cp609_243)">
<path d="M609.70,301.89 C610.35,300.01 612.36,294.38 613.60,290.62 C614.84,286.86 615.96,282.82 617.14,279.35 C618.33,275.88 619.51,272.41 620.69,269.81 C621.87,267.21 623.05,265.24 624.23,263.74 C625.41,262.24 626.60,261.51 627.78,260.79 C628.96,260.07 629.85,259.81 631.32,259.40 C632.80,259.00 634.57,258.65 636.64,258.36 C638.71,258.08 640.18,257.79 643.73,257.67 C647.27,257.55 651.50,257.58 657.91,257.67 C664.32,257.76 678.14,258.10 682.19,258.19 L682.19,261.49 C678.14,261.43 664.32,261.11 657.91,261.14 C651.50,261.17 647.27,261.46 643.73,261.66 C640.18,261.86 638.71,262.01 636.64,262.35 C634.57,262.70 632.80,263.22 631.32,263.74 C629.85,264.26 628.96,264.61 627.78,265.47 C626.60,266.34 625.41,267.35 624.23,268.94 C623.05,270.53 621.87,272.56 620.69,275.01 C619.51,277.47 618.33,280.65 617.14,283.68 C615.96,286.72 614.84,290.04 613.60,293.22 C612.36,296.40 610.35,301.17 609.70,302.76 Z" fill="#4f8ff0"/>
<path d="M609.70,301.89 C610.35,299.72 612.36,293.08 613.60,288.88 C614.84,284.69 615.96,280.50 617.14,276.75 C618.33,272.99 619.51,269.38 620.69,266.34 C621.87,263.31 623.05,260.50 624.23,258.54 C625.41,256.57 626.60,255.50 627.78,254.55 C628.96,253.60 629.85,253.25 631.32,252.81 C632.80,252.38 634.57,252.18 636.64,251.95 C638.71,251.72 640.18,251.57 643.73,251.43 C647.27,251.28 651.50,251.20 657.91,251.08 C664.32,250.97 678.14,250.79 682.19,250.73 L682.19,255.59 C678.14,255.59 664.32,255.53 657.91,255.59 C651.50,255.65 647.27,255.73 643.73,255.94 C640.18,256.14 638.71,256.46 636.64,256.80 C634.57,257.15 632.80,257.44 631.32,258.02 C629.85,258.60 628.96,259.17 627.78,260.27 C626.60,261.37 625.41,262.73 624.23,264.61 C623.05,266.49 621.87,268.80 620.69,271.54 C619.51,274.29 618.33,277.61 617.14,281.08 C615.96,284.55 614.84,288.74 613.60,292.35 C612.36,295.97 610.35,301.02 609.70,302.76 Z" fill="#8db8f5"/>
<path d="M609.70,301.89 C610.65,300.30 613.24,295.82 615.37,292.35 C617.50,288.88 620.10,284.69 622.46,281.08 C624.82,277.47 627.19,273.71 629.55,270.68 C631.91,267.64 634.28,264.95 636.64,262.87 C639.00,260.79 641.37,259.40 643.73,258.19 C646.09,256.98 648.46,256.20 650.82,255.59 C653.18,254.98 655.25,254.81 657.91,254.55 C660.57,254.29 662.72,254.17 666.77,254.03 C670.82,253.88 679.62,253.74 682.19,253.68 L682.19,258.88 C679.62,258.97 670.82,259.17 666.77,259.40 C662.72,259.64 660.57,259.84 657.91,260.27 C655.25,260.71 653.18,261.14 650.82,262.01 C648.46,262.87 646.09,263.88 643.73,265.47 C641.37,267.06 639.00,269.23 636.64,271.54 C634.28,273.86 631.91,276.60 629.55,279.35 C627.19,282.09 624.82,285.13 622.46,288.02 C620.10,290.91 617.50,294.23 615.37,296.69 C613.24,299.15 610.65,301.75 609.70,302.76 Z" fill="#cfe0f8"/>
</g>
<rect x="609.7" y="243.45" width="71.6" height="71.1" fill="none" stroke="#555" stroke-width="1.0"/>
<line x1="606.2" y1="314.55" x2="609.7" y2="314.55" stroke="#555" stroke-width="0.9"/>
<text x="603.90" y="317.25" font-size="7.3" font-weight="normal" text-anchor="end" fill="#222" >0</text>
<line x1="606.2" y1="290.85" x2="609.7" y2="290.85" stroke="#555" stroke-width="0.9"/>
<text x="603.90" y="293.55" font-size="7.3" font-weight="normal" text-anchor="end" fill="#222" >4000</text>
<line x1="606.2" y1="267.15" x2="609.7" y2="267.15" stroke="#555" stroke-width="0.9"/>
<text x="603.90" y="269.85" font-size="7.3" font-weight="normal" text-anchor="end" fill="#222" >8000</text>
<line x1="606.2" y1="243.45" x2="609.7" y2="243.45" stroke="#555" stroke-width="0.9"/>
<text x="603.90" y="246.15" font-size="7.3" font-weight="normal" text-anchor="end" fill="#222" >12000</text>
<line x1="609.70" y1="314.54999999999995" x2="609.70" y2="317.54999999999995" stroke="#555" stroke-width="0.9"/>
<text x="609.40" y="327.35" font-size="7.5" font-weight="normal" text-anchor="middle" fill="#222" >0</text>
<line x1="633.57" y1="314.54999999999995" x2="633.57" y2="317.54999999999995" stroke="#555" stroke-width="0.9"/>
<text x="633.27" y="327.35" font-size="7.5" font-weight="normal" text-anchor="middle" fill="#222" >20</text>
<line x1="657.43" y1="314.54999999999995" x2="657.43" y2="317.54999999999995" stroke="#555" stroke-width="0.9"/>
<text x="657.13" y="327.35" font-size="7.5" font-weight="normal" text-anchor="middle" fill="#222" >40</text>
<line x1="681.30" y1="314.54999999999995" x2="681.30" y2="317.54999999999995" stroke="#555" stroke-width="0.9"/>
<text x="681.00" y="327.35" font-size="7.5" font-weight="normal" text-anchor="middle" fill="#222" >60</text>
<text transform="translate(583.50,279.05) rotate(-90)" font-size="7.8" font-weight="bold" text-anchor="middle" fill="#111" textLength="32.5" lengthAdjust="spacingAndGlyphs">F.I. (a.u.)</text>
<text x="646.00" y="334.95" font-size="7.8" font-weight="bold" text-anchor="middle" fill="#111" textLength="42.20" lengthAdjust="spacingAndGlyphs" >Time (min)</text>
<line x1="654.30" y1="270.15" x2="661.40" y2="270.15" stroke="#cfe0f8" stroke-width="1.5"/>
<text x="663.80" y="272.15" font-size="5.7" font-weight="bold" text-anchor="start" fill="#111" textLength="13.00" lengthAdjust="spacingAndGlyphs" >37°C</text>
<line x1="654.30" y1="278.35" x2="661.40" y2="278.35" stroke="#8db8f5" stroke-width="1.5"/>
<text x="663.80" y="280.35" font-size="5.7" font-weight="bold" text-anchor="start" fill="#111" textLength="13.00" lengthAdjust="spacingAndGlyphs" >45°C</text>
<line x1="654.30" y1="286.55" x2="661.40" y2="286.55" stroke="#4f8ff0" stroke-width="1.5"/>
<text x="663.80" y="288.55" font-size="5.7" font-weight="bold" text-anchor="start" fill="#111" textLength="13.00" lengthAdjust="spacingAndGlyphs" >53°C</text>
<text x="0.20" y="348.00" font-size="13.0" font-weight="bold" text-anchor="start" fill="#000" >f</text>
<text x="15.50" y="360.60" font-size="7.45" font-weight="normal" text-anchor="start" fill="#161616" textLength="81.40" lengthAdjust="spacingAndGlyphs" stroke="#161616" stroke-width="0.12">Preincubation for 30 min</text>
<text x="15.50" y="370.00" font-size="7.45" font-weight="normal" text-anchor="start" fill="#161616" textLength="69.60" lengthAdjust="spacingAndGlyphs" stroke="#161616" stroke-width="0.12">at 37 °C/45 °C/53 °C</text>
<path d="M41.86,377.00 C46.93,377.00 49.96,377.00 53.00,377.27 C57.56,377.72 60.30,379.70 60.30,382.40 C60.30,384.56 59.29,385.46 57.36,385.46 L54.02,385.46 C52.19,385.46 51.18,386.00 51.18,386.81 C51.18,387.61 52.19,388.06 54.02,388.06 L56.65,388.06 C58.68,388.06 59.79,389.23 59.79,391.84 C59.69,395.44 54.02,397.60 45.91,397.60 C35.78,397.60 29.70,393.64 29.70,387.17 C29.70,381.05 34.77,377.00 41.86,377.00 Z" fill="#c9c9c9"/>
<path d="M41.86,377.27 C46.93,377.00 49.96,377.00 53.00,377.27 C57.56,377.72 60.30,379.70 60.30,382.40 C60.30,384.56 59.29,385.46 57.36,385.46 L54.02,385.46 C52.19,385.46 51.18,386.00 51.18,386.81 C51.18,387.61 52.19,388.06 54.02,388.06 L56.65,388.06 C58.68,388.06 59.79,389.23 59.79,391.84 C59.69,395.44 54.02,397.60 45.91,397.60 C39.83,397.33 34.36,393.19 34.36,387.17 C34.36,381.50 37.81,377.27 41.86,377.27 Z" fill="#e5e5e5"/>
<path d="M41.86,377.00 C46.93,377.00 49.96,377.00 53.00,377.27 C57.56,377.72 60.30,379.70 60.30,382.40 C60.30,384.56 59.29,385.46 57.36,385.46 L54.02,385.46 C52.19,385.46 51.18,386.00 51.18,386.81 C51.18,387.61 52.19,388.06 54.02,388.06 L56.65,388.06 C58.68,388.06 59.79,389.23 59.79,391.84 C59.69,395.44 54.02,397.60 45.91,397.60 C35.78,397.60 29.70,393.64 29.70,387.17 C29.70,381.05 34.77,377.00 41.86,377.00 Z" fill="none" stroke="#adadad" stroke-width="0.55"/>
<ellipse cx="37.40" cy="374.40" rx="3.8" ry="3.15" fill="#fff" stroke="#1e2f4f" stroke-width="1.05"/>
<path d="M35.40,377.05 V384.60 C35.40,387.80 32.80,388.40 30.00,388.40" fill="none" stroke="#1e2f4f" stroke-width="1.05"/>
<path d="M39.40,377.05 V384.60 C39.40,387.80 41.60,388.40 44.00,388.40" fill="none" stroke="#1e2f4f" stroke-width="1.05"/>
<line x1="35.40" y1="378.50" x2="39.40" y2="378.50" stroke="#1e2f4f" stroke-width="0.8"/>
<line x1="35.40" y1="380.17" x2="39.40" y2="380.17" stroke="#1e2f4f" stroke-width="0.8"/>
<line x1="35.40" y1="381.84" x2="39.40" y2="381.84" stroke="#1e2f4f" stroke-width="0.8"/>
<line x1="35.40" y1="383.51" x2="39.40" y2="383.51" stroke="#1e2f4f" stroke-width="0.8"/>
<line x1="43.80" y1="388.50" x2="64.00" y2="388.50" stroke="#eaa840" stroke-width="1.3"/>
<text x="48.00" y="407.00" font-size="7.4" font-weight="normal" text-anchor="middle" fill="#1c1c1c" textLength="60.00" lengthAdjust="spacingAndGlyphs" stroke="#1c1c1c" stroke-width="0.1">LbCas12a+crRNA</text>
<polyline points="158.26,394.94 158.57,394.68 158.92,394.48 159.32,394.32 159.77,394.21 160.26,394.14 160.78,394.10 161.34,394.10 161.91,394.12 162.51,394.15 163.11,394.19 163.71,394.23 164.30,394.27 164.88,394.29 165.43,394.28 165.95,394.25 166.44,394.18 166.89,394.07 167.29,393.91 167.65,393.70 167.95,393.45 168.20,393.15 168.41,392.79 168.57,392.39 168.68,391.94 168.75,391.45 168.78,390.93 168.79,390.38 168.77,389.80 168.73,389.21 168.69,388.61 168.65,388.01 168.62,387.41 168.60,386.84 168.60,386.28 168.64,385.76 168.71,385.27 168.82,384.82 168.98,384.42 169.18,384.07 169.44,383.76" fill="none" stroke="#444" stroke-width="1.45" stroke-linecap="round" stroke-linejoin="round"/>
<polyline points="162.36,399.04 162.62,398.73 162.82,398.38 162.98,397.98 163.09,397.53 163.16,397.04 163.20,396.52 163.20,395.96 163.18,395.39 163.15,394.79 163.11,394.19 163.07,393.59 163.03,393.00 163.01,392.42 163.02,391.87 163.05,391.35 163.12,390.86 163.23,390.41 163.39,390.01 163.60,389.65 163.85,389.35 164.15,389.10 164.51,388.89 164.91,388.73 165.36,388.62 165.85,388.55 166.37,388.52 166.92,388.51 167.50,388.53 168.09,388.57 168.69,388.61 169.29,388.65 169.89,388.68 170.46,388.70 171.02,388.70 171.54,388.66 172.03,388.59 172.48,388.48 172.88,388.32 173.23,388.12 173.54,387.86" fill="none" stroke="#444" stroke-width="1.45" stroke-linecap="round" stroke-linejoin="round"/>
<line x1="159.45" y1="394.28" x2="163.02" y2="397.85" stroke="#444" stroke-width="0.6"/>
<line x1="160.96" y1="394.10" x2="163.20" y2="396.34" stroke="#444" stroke-width="0.6"/>
<line x1="166.42" y1="394.18" x2="163.12" y2="390.88" stroke="#444" stroke-width="0.6"/>
<line x1="167.95" y1="393.45" x2="163.85" y2="389.35" stroke="#444" stroke-width="0.6"/>
<line x1="168.68" y1="391.92" x2="165.38" y2="388.62" stroke="#444" stroke-width="0.6"/>
<line x1="168.60" y1="386.46" x2="170.84" y2="388.70" stroke="#444" stroke-width="0.6"/>
<line x1="168.78" y1="384.95" x2="172.35" y2="388.52" stroke="#444" stroke-width="0.6"/>
<text x="164.60" y="407.00" font-size="7.4" font-weight="normal" text-anchor="middle" fill="#1c1c1c" textLength="20.00" lengthAdjust="spacingAndGlyphs" stroke="#1c1c1c" stroke-width="0.1">Target</text>
<path d="M174.00,393.70 H180.80 M177.40,390.30 V397.10" stroke="#d6246e" stroke-width="1.0" fill="none"/>
<line x1="186.20" y1="386.50" x2="200.20" y2="386.50" stroke="#8a8a8a" stroke-width="0.7"/>
<circle cx="186.20" cy="386.50" r="1.65" fill="#3a170c"/>
<circle cx="201.20" cy="386.50" r="1.6" fill="#ecece6" stroke="#c2c2ba" stroke-width="0.45"/>
<line x1="191.40" y1="391.00" x2="205.40" y2="391.00" stroke="#8a8a8a" stroke-width="0.7"/>
<circle cx="191.40" cy="391.00" r="1.65" fill="#3a170c"/>
<circle cx="206.40" cy="391.00" r="1.6" fill="#ecece6" stroke="#c2c2ba" stroke-width="0.45"/>
<line x1="186.20" y1="395.50" x2="200.20" y2="395.50" stroke="#8a8a8a" stroke-width="0.7"/>
<circle cx="186.20" cy="395.50" r="1.65" fill="#3a170c"/>
<circle cx="201.20" cy="395.50" r="1.6" fill="#ecece6" stroke="#c2c2ba" stroke-width="0.45"/>
<text x="197.20" y="407.00" font-size="7.4" font-weight="normal" text-anchor="middle" fill="#1c1c1c" textLength="29.00" lengthAdjust="spacingAndGlyphs" stroke="#1c1c1c" stroke-width="0.1">Reporter</text>
<line x1="73.30" y1="415.50" x2="74.63" y2="416.07" stroke="#f5a623" stroke-width="3.00"/>
<line x1="76.07" y1="416.65" x2="77.42" y2="417.17" stroke="#f5a623" stroke-width="2.87"/>
<line x1="78.88" y1="417.70" x2="80.25" y2="418.17" stroke="#f5a623" stroke-width="2.73"/>
<line x1="81.73" y1="418.65" x2="83.11" y2="419.07" stroke="#f5a623" stroke-width="2.60"/>
<line x1="84.61" y1="419.49" x2="86.01" y2="419.86" stroke="#f5a623" stroke-width="2.47"/>
<line x1="87.51" y1="420.23" x2="88.93" y2="420.55" stroke="#f5a623" stroke-width="2.34"/>
<line x1="90.45" y1="420.86" x2="91.87" y2="421.12" stroke="#f5a623" stroke-width="2.20"/>
<line x1="93.40" y1="421.37" x2="94.84" y2="421.58" stroke="#f5a623" stroke-width="2.07"/>
<line x1="96.37" y1="421.78" x2="97.82" y2="421.93" stroke="#f5a623" stroke-width="1.94"/>
<line x1="99.36" y1="422.07" x2="100.81" y2="422.18" stroke="#f5a623" stroke-width="1.81"/>
<line x1="102.35" y1="422.26" x2="103.80" y2="422.31" stroke="#f5a623" stroke-width="1.67"/>
<line x1="105.35" y1="422.33" x2="106.80" y2="422.33" stroke="#f5a623" stroke-width="1.54"/>
<line x1="108.35" y1="422.30" x2="109.80" y2="422.25" stroke="#f5a623" stroke-width="1.41"/>
<path d="M69.10,413.40 L74.46,413.74 L72.04,417.89 Z" fill="#f5a623"/>
<path d="M115.80,422.20 L110.20,424.78 L110.20,419.62 Z" fill="#f5a623"/>
<line x1="172.70" y1="415.50" x2="171.36" y2="416.07" stroke="#f5a623" stroke-width="3.00"/>
<line x1="169.93" y1="416.64" x2="168.57" y2="417.16" stroke="#f5a623" stroke-width="2.87"/>
<line x1="167.12" y1="417.69" x2="165.74" y2="418.16" stroke="#f5a623" stroke-width="2.74"/>
<line x1="164.27" y1="418.64" x2="162.88" y2="419.06" stroke="#f5a623" stroke-width="2.60"/>
<line x1="161.39" y1="419.48" x2="159.99" y2="419.85" stroke="#f5a623" stroke-width="2.47"/>
<line x1="158.48" y1="420.22" x2="157.07" y2="420.53" stroke="#f5a623" stroke-width="2.34"/>
<line x1="155.55" y1="420.84" x2="154.12" y2="421.11" stroke="#f5a623" stroke-width="2.21"/>
<line x1="152.59" y1="421.36" x2="151.16" y2="421.57" stroke="#f5a623" stroke-width="2.07"/>
<line x1="149.62" y1="421.77" x2="148.18" y2="421.93" stroke="#f5a623" stroke-width="1.94"/>
<line x1="146.64" y1="422.07" x2="145.19" y2="422.17" stroke="#f5a623" stroke-width="1.81"/>
<line x1="143.64" y1="422.25" x2="142.19" y2="422.31" stroke="#f5a623" stroke-width="1.68"/>
<line x1="140.64" y1="422.33" x2="139.19" y2="422.33" stroke="#f5a623" stroke-width="1.54"/>
<line x1="137.64" y1="422.31" x2="136.19" y2="422.25" stroke="#f5a623" stroke-width="1.41"/>
<path d="M176.70,413.40 L173.75,417.88 L171.34,413.73 Z" fill="#f5a623"/>
<path d="M130.20,422.20 L135.80,419.62 L135.80,424.78 Z" fill="#f5a623"/>
<line x1="115.40" y1="423.70" x2="132.00" y2="423.70" stroke="#4a1942" stroke-width="1.6"/>
<path d="M117.03,436.70 H130.38 V447.55 A6.67,6.67 0 0 1 117.03,447.55 Z" fill="#e9b4a8"/>
<path d="M117.03,427.00 V447.55 A6.67,6.67 0 0 0 130.38,447.55 V427.00" fill="none" stroke="#4a1942" stroke-width="1.75"/>
<line x1="117.03" y1="436.70" x2="130.38" y2="436.70" stroke="#4a1942" stroke-width="1.0"/>
<circle cx="121.75" cy="432.30" r="1.55" fill="#4a1942"/>
<circle cx="126.00" cy="441.40" r="1.55" fill="#4a1942"/>
<circle cx="84.20" cy="427.50" r="4.35" fill="#fff" stroke="#222" stroke-width="0.9"/>
<text x="84.20" y="429.95" font-size="6.9" font-weight="bold" text-anchor="middle" fill="#222" >1</text>
<circle cx="161.80" cy="427.50" r="4.35" fill="#fff" stroke="#222" stroke-width="0.9"/>
<text x="161.80" y="429.95" font-size="6.9" font-weight="bold" text-anchor="middle" fill="#222" >2</text>
<clipPath id="cp255_361"><rect x="255.5" y="361.4" width="73.6" height="71.1"/></clipPath>
<g clip-path="url(#cp255_361)">
<path d="M255.50,419.77 C256.30,418.16 258.31,413.92 260.29,410.12 C262.26,406.31 265.01,401.05 267.37,396.95 C269.74,392.85 272.10,388.90 274.46,385.54 C276.83,382.17 279.19,379.01 281.55,376.76 C283.92,374.51 286.28,373.10 288.64,372.02 C291.01,370.94 293.37,370.68 295.73,370.27 C298.10,369.86 297.59,369.74 302.82,369.56 C308.05,369.39 323.06,369.27 327.10,369.21 L327.10,372.20 C323.06,372.26 308.05,372.37 302.82,372.55 C297.59,372.72 298.10,372.75 295.73,373.25 C293.37,373.75 291.01,374.24 288.64,375.53 C286.28,376.82 283.92,378.46 281.55,380.97 C279.19,383.49 276.83,387.12 274.46,390.63 C272.10,394.14 269.74,398.12 267.37,402.04 C265.01,405.96 262.26,410.97 260.29,414.15 C258.31,417.34 256.30,420.01 255.50,421.18 Z" fill="#f4c1f1"/>
<path d="M255.50,419.95 C257.48,419.92 262.44,420.45 267.37,419.77 C272.31,419.10 279.19,417.46 285.10,415.91 C291.01,414.36 295.82,412.46 302.82,410.47 C309.82,408.48 323.06,405.05 327.10,403.97 L327.10,406.96 C323.06,407.86 309.82,410.67 302.82,412.40 C295.82,414.13 291.01,415.91 285.10,417.31 C279.19,418.72 272.31,420.18 267.37,420.83 C262.44,421.47 257.48,421.12 255.50,421.18 Z" fill="#d274f0"/>
<path d="M255.50,419.86 C267.43,419.86 315.17,419.86 327.10,419.86 L327.10,421.09 C315.17,421.09 267.43,421.09 255.50,421.09 Z" fill="#a866c4"/>
</g>
<rect x="255.5" y="361.4" width="71.6" height="71.1" fill="none" stroke="#555" stroke-width="1.0"/>
<line x1="252.0" y1="432.50" x2="255.5" y2="432.50" stroke="#555" stroke-width="0.9"/>
<text x="249.70" y="435.20" font-size="7.3" font-weight="normal" text-anchor="end" fill="#222" >0</text>
<line x1="252.0" y1="408.80" x2="255.5" y2="408.80" stroke="#555" stroke-width="0.9"/>
<text x="249.70" y="411.50" font-size="7.3" font-weight="normal" text-anchor="end" fill="#222" >4000</text>
<line x1="252.0" y1="385.10" x2="255.5" y2="385.10" stroke="#555" stroke-width="0.9"/>
<text x="249.70" y="387.80" font-size="7.3" font-weight="normal" text-anchor="end" fill="#222" >8000</text>
<line x1="252.0" y1="361.40" x2="255.5" y2="361.40" stroke="#555" stroke-width="0.9"/>
<text x="249.70" y="364.10" font-size="7.3" font-weight="normal" text-anchor="end" fill="#222" >12000</text>
<line x1="255.50" y1="432.5" x2="255.50" y2="435.5" stroke="#555" stroke-width="0.9"/>
<text x="255.20" y="445.30" font-size="7.5" font-weight="normal" text-anchor="middle" fill="#222" >0</text>
<line x1="279.37" y1="432.5" x2="279.37" y2="435.5" stroke="#555" stroke-width="0.9"/>
<text x="279.07" y="445.30" font-size="7.5" font-weight="normal" text-anchor="middle" fill="#222" >20</text>
<line x1="303.23" y1="432.5" x2="303.23" y2="435.5" stroke="#555" stroke-width="0.9"/>
<text x="302.93" y="445.30" font-size="7.5" font-weight="normal" text-anchor="middle" fill="#222" >40</text>
<line x1="327.10" y1="432.5" x2="327.10" y2="435.5" stroke="#555" stroke-width="0.9"/>
<text x="326.80" y="445.30" font-size="7.5" font-weight="normal" text-anchor="middle" fill="#222" >60</text>
<text transform="translate(229.30,397.00) rotate(-90)" font-size="7.8" font-weight="bold" text-anchor="middle" fill="#111" textLength="32.5" lengthAdjust="spacingAndGlyphs">F.I. (a.u.)</text>
<text x="291.80" y="452.90" font-size="7.8" font-weight="bold" text-anchor="middle" fill="#111" textLength="42.20" lengthAdjust="spacingAndGlyphs" >Time (min)</text>
<line x1="300.10" y1="385.20" x2="307.20" y2="385.20" stroke="#f4c1f1" stroke-width="1.5"/>
<text x="309.60" y="387.20" font-size="5.7" font-weight="bold" text-anchor="start" fill="#111" textLength="13.00" lengthAdjust="spacingAndGlyphs" >37°C</text>
<line x1="300.10" y1="393.40" x2="307.20" y2="393.40" stroke="#d274f0" stroke-width="1.5"/>
<text x="309.60" y="395.40" font-size="5.7" font-weight="bold" text-anchor="start" fill="#111" textLength="13.00" lengthAdjust="spacingAndGlyphs" >45°C</text>
<line x1="300.10" y1="401.60" x2="307.20" y2="401.60" stroke="#7d1fa8" stroke-width="1.5"/>
<text x="309.60" y="403.60" font-size="5.7" font-weight="bold" text-anchor="start" fill="#111" textLength="13.00" lengthAdjust="spacingAndGlyphs" >53°C</text>
<text x="359.50" y="347.50" font-size="13.0" font-weight="bold" text-anchor="start" fill="#000" >g</text>
<text x="375.10" y="360.60" font-size="7.45" font-weight="normal" text-anchor="start" fill="#161616" textLength="81.40" lengthAdjust="spacingAndGlyphs" stroke="#161616" stroke-width="0.12">Preincubation for 30 min</text>
<text x="375.10" y="370.00" font-size="7.45" font-weight="normal" text-anchor="start" fill="#161616" textLength="69.60" lengthAdjust="spacingAndGlyphs" stroke="#161616" stroke-width="0.12">at 37 °C/45 °C/53 °C</text>
<path d="M390.20,388.00 C390.20,380.00 396.00,375.70 404.00,375.70 C412.00,375.70 417.90,378.50 417.90,386.00 C417.90,393.50 411.00,397.60 403.00,397.60 C395.00,397.60 390.20,394.50 390.20,388.00 Z" fill="#d2dbf5" stroke="#93a6dd" stroke-width="0.45"/>
<ellipse cx="395.60" cy="387.60" rx="5.4" ry="8.2" fill="#bdc9ee" opacity="0.85"/>
<rect x="388.20" y="389.90" width="12.10" height="3.20" fill="#fbfbfb"/>
<line x1="388.20" y1="389.90" x2="400.30" y2="389.90" stroke="#6e6e6e" stroke-width="0.7"/>
<line x1="388.20" y1="393.10" x2="400.30" y2="393.10" stroke="#6e6e6e" stroke-width="0.7"/>
<line x1="388.70" y1="389.90" x2="388.70" y2="393.10" stroke="#6e6e6e" stroke-width="0.6"/>
<line x1="390.20" y1="389.90" x2="390.20" y2="393.10" stroke="#6e6e6e" stroke-width="0.6"/>
<line x1="391.70" y1="389.90" x2="391.70" y2="393.10" stroke="#6e6e6e" stroke-width="0.6"/>
<line x1="393.20" y1="389.90" x2="393.20" y2="393.10" stroke="#6e6e6e" stroke-width="0.6"/>
<line x1="394.70" y1="389.90" x2="394.70" y2="393.10" stroke="#6e6e6e" stroke-width="0.6"/>
<line x1="396.20" y1="389.90" x2="396.20" y2="393.10" stroke="#6e6e6e" stroke-width="0.6"/>
<line x1="397.70" y1="389.90" x2="397.70" y2="393.10" stroke="#6e6e6e" stroke-width="0.6"/>
<line x1="399.20" y1="389.90" x2="399.20" y2="393.10" stroke="#6e6e6e" stroke-width="0.6"/>
<rect x="418.50" y="389.90" width="12.30" height="3.20" fill="#fbfbfb"/>
<line x1="418.50" y1="389.90" x2="430.80" y2="389.90" stroke="#6e6e6e" stroke-width="0.7"/>
<line x1="418.50" y1="393.10" x2="430.80" y2="393.10" stroke="#6e6e6e" stroke-width="0.7"/>
<line x1="419.00" y1="389.90" x2="419.00" y2="393.10" stroke="#6e6e6e" stroke-width="0.6"/>
<line x1="420.50" y1="389.90" x2="420.50" y2="393.10" stroke="#6e6e6e" stroke-width="0.6"/>
<line x1="422.00" y1="389.90" x2="422.00" y2="393.10" stroke="#6e6e6e" stroke-width="0.6"/>
<line x1="423.50" y1="389.90" x2="423.50" y2="393.10" stroke="#6e6e6e" stroke-width="0.6"/>
<line x1="425.00" y1="389.90" x2="425.00" y2="393.10" stroke="#6e6e6e" stroke-width="0.6"/>
<line x1="426.50" y1="389.90" x2="426.50" y2="393.10" stroke="#6e6e6e" stroke-width="0.6"/>
<line x1="428.00" y1="389.90" x2="428.00" y2="393.10" stroke="#6e6e6e" stroke-width="0.6"/>
<line x1="429.50" y1="389.90" x2="429.50" y2="393.10" stroke="#6e6e6e" stroke-width="0.6"/>
<circle cx="396.85" cy="373.90" r="2.45" fill="#fff" stroke="#1e2f4f" stroke-width="0.85"/>
<path d="M395.35,376.00 V381.20 C395.35,383.60 393.25,384.20 391.15,384.40" fill="none" stroke="#1e2f4f" stroke-width="0.85"/>
<path d="M398.35,376.00 V381.20 C398.35,383.40 399.85,384.10 401.85,384.20" fill="none" stroke="#1e2f4f" stroke-width="0.85"/>
<line x1="395.35" y1="377.40" x2="398.35" y2="377.40" stroke="#1e2f4f" stroke-width="0.6"/>
<line x1="395.35" y1="378.90" x2="398.35" y2="378.90" stroke="#1e2f4f" stroke-width="0.6"/>
<line x1="395.35" y1="380.40" x2="398.35" y2="380.40" stroke="#1e2f4f" stroke-width="0.6"/>
<rect x="401.80" y="384.60" width="13.6" height="2.8" fill="#eef0f6"/>
<line x1="402.60" y1="384.80" x2="402.60" y2="387.20" stroke="#333" stroke-width="0.6"/>
<line x1="404.05" y1="384.80" x2="404.05" y2="387.20" stroke="#333" stroke-width="0.6"/>
<line x1="405.50" y1="384.80" x2="405.50" y2="387.20" stroke="#333" stroke-width="0.6"/>
<line x1="406.95" y1="384.80" x2="406.95" y2="387.20" stroke="#333" stroke-width="0.6"/>
<line x1="408.40" y1="384.80" x2="408.40" y2="387.20" stroke="#333" stroke-width="0.6"/>
<line x1="409.85" y1="384.80" x2="409.85" y2="387.20" stroke="#333" stroke-width="0.6"/>
<line x1="411.30" y1="384.80" x2="411.30" y2="387.20" stroke="#333" stroke-width="0.6"/>
<line x1="412.75" y1="384.80" x2="412.75" y2="387.20" stroke="#333" stroke-width="0.6"/>
<line x1="414.20" y1="384.80" x2="414.20" y2="387.20" stroke="#333" stroke-width="0.6"/>
<line x1="401.60" y1="384.20" x2="415.60" y2="384.20" stroke="#eaa030" stroke-width="0.85"/>
<line x1="401.60" y1="387.70" x2="415.20" y2="387.70" stroke="#eaa030" stroke-width="0.85"/>
<path d="M400.20,390.60 C401.20,390.40 400.80,388.00 402.00,387.80" fill="none" stroke="#1e2f4f" stroke-width="0.6"/>
<path d="M400.20,392.40 C401.20,392.60 400.80,394.30 402.00,394.40" fill="none" stroke="#1e2f4f" stroke-width="0.6"/>
<line x1="401.80" y1="394.40" x2="411.00" y2="394.40" stroke="#eaa030" stroke-width="0.85"/>
<line x1="415.40" y1="394.40" x2="417.80" y2="394.40" stroke="#eaa030" stroke-width="0.85"/>
<path d="M415.40,387.90 C417.20,388.60 417.40,392.00 416.60,394.20" fill="none" stroke="#8aa0de" stroke-width="0.5"/>
<line x1="396.00" y1="392.10" x2="400.30" y2="392.10" stroke="#2438a8" stroke-width="1.2"/>
<text x="394.20" y="396.60" font-size="3.0" font-weight="bold" text-anchor="start" fill="#2f55c8" textLength="6.20" lengthAdjust="spacingAndGlyphs" >PAM</text>
<path d="M415.55,384.70 L417.45,384.70 L416.50,386.70 Z M415.55,389.10 L417.45,389.10 L416.50,387.10 Z" fill="#e0175f"/>
<path d="M411.55,392.30 L413.45,392.30 L412.50,394.30 Z M411.55,396.70 L413.45,396.70 L412.50,394.70 Z" fill="#e0175f"/>
<text x="418.90" y="406.90" font-size="7.4" font-weight="normal" text-anchor="middle" fill="#1c1c1c" textLength="86.20" lengthAdjust="spacingAndGlyphs" stroke="#1c1c1c" stroke-width="0.1">LbCas12a+crRNA+Target</text>
<line x1="523.20" y1="386.20" x2="537.20" y2="386.20" stroke="#8a8a8a" stroke-width="0.7"/>
<circle cx="523.20" cy="386.20" r="1.65" fill="#3a170c"/>
<circle cx="538.20" cy="386.20" r="1.6" fill="#ecece6" stroke="#c2c2ba" stroke-width="0.45"/>
<line x1="528.40" y1="390.70" x2="542.40" y2="390.70" stroke="#8a8a8a" stroke-width="0.7"/>
<circle cx="528.40" cy="390.70" r="1.65" fill="#3a170c"/>
<circle cx="543.40" cy="390.70" r="1.6" fill="#ecece6" stroke="#c2c2ba" stroke-width="0.45"/>
<line x1="523.20" y1="395.20" x2="537.20" y2="395.20" stroke="#8a8a8a" stroke-width="0.7"/>
<circle cx="523.20" cy="395.20" r="1.65" fill="#3a170c"/>
<circle cx="538.20" cy="395.20" r="1.6" fill="#ecece6" stroke="#c2c2ba" stroke-width="0.45"/>
<text x="539.50" y="407.00" font-size="7.4" font-weight="normal" text-anchor="middle" fill="#1c1c1c" textLength="29.00" lengthAdjust="spacingAndGlyphs" stroke="#1c1c1c" stroke-width="0.1">Reporter</text>
<line x1="417.50" y1="415.50" x2="418.83" y2="416.07" stroke="#f5a623" stroke-width="3.00"/>
<line x1="420.27" y1="416.65" x2="421.62" y2="417.17" stroke="#f5a623" stroke-width="2.87"/>
<line x1="423.08" y1="417.70" x2="424.45" y2="418.17" stroke="#f5a623" stroke-width="2.73"/>
<line x1="425.93" y1="418.65" x2="427.31" y2="419.07" stroke="#f5a623" stroke-width="2.60"/>
<line x1="428.81" y1="419.49" x2="430.21" y2="419.86" stroke="#f5a623" stroke-width="2.47"/>
<line x1="431.71" y1="420.23" x2="433.13" y2="420.55" stroke="#f5a623" stroke-width="2.34"/>
<line x1="434.65" y1="420.86" x2="436.07" y2="421.12" stroke="#f5a623" stroke-width="2.20"/>
<line x1="437.60" y1="421.37" x2="439.04" y2="421.58" stroke="#f5a623" stroke-width="2.07"/>
<line x1="440.57" y1="421.78" x2="442.02" y2="421.93" stroke="#f5a623" stroke-width="1.94"/>
<line x1="443.56" y1="422.07" x2="445.01" y2="422.18" stroke="#f5a623" stroke-width="1.81"/>
<line x1="446.55" y1="422.26" x2="448.00" y2="422.31" stroke="#f5a623" stroke-width="1.67"/>
<line x1="449.55" y1="422.33" x2="451.00" y2="422.33" stroke="#f5a623" stroke-width="1.54"/>
<line x1="452.55" y1="422.30" x2="454.00" y2="422.25" stroke="#f5a623" stroke-width="1.41"/>
<path d="M413.30,413.40 L418.66,413.74 L416.24,417.89 Z" fill="#f5a623"/>
<path d="M460.00,422.20 L454.40,424.78 L454.40,419.62 Z" fill="#f5a623"/>
<line x1="516.90" y1="415.50" x2="515.56" y2="416.07" stroke="#f5a623" stroke-width="3.00"/>
<line x1="514.13" y1="416.64" x2="512.77" y2="417.16" stroke="#f5a623" stroke-width="2.87"/>
<line x1="511.32" y1="417.69" x2="509.94" y2="418.16" stroke="#f5a623" stroke-width="2.74"/>
<line x1="508.47" y1="418.64" x2="507.08" y2="419.06" stroke="#f5a623" stroke-width="2.60"/>
<line x1="505.59" y1="419.48" x2="504.19" y2="419.85" stroke="#f5a623" stroke-width="2.47"/>
<line x1="502.68" y1="420.22" x2="501.27" y2="420.53" stroke="#f5a623" stroke-width="2.34"/>
<line x1="499.75" y1="420.84" x2="498.32" y2="421.11" stroke="#f5a623" stroke-width="2.21"/>
<line x1="496.79" y1="421.36" x2="495.36" y2="421.57" stroke="#f5a623" stroke-width="2.07"/>
<line x1="493.82" y1="421.77" x2="492.38" y2="421.93" stroke="#f5a623" stroke-width="1.94"/>
<line x1="490.84" y1="422.07" x2="489.39" y2="422.17" stroke="#f5a623" stroke-width="1.81"/>
<line x1="487.84" y1="422.25" x2="486.39" y2="422.31" stroke="#f5a623" stroke-width="1.68"/>
<line x1="484.84" y1="422.33" x2="483.39" y2="422.33" stroke="#f5a623" stroke-width="1.54"/>
<line x1="481.84" y1="422.31" x2="480.39" y2="422.25" stroke="#f5a623" stroke-width="1.41"/>
<path d="M520.90,413.40 L517.95,417.88 L515.54,413.73 Z" fill="#f5a623"/>
<path d="M474.40,422.20 L480.00,419.62 L480.00,424.78 Z" fill="#f5a623"/>
<line x1="459.60" y1="423.70" x2="476.20" y2="423.70" stroke="#4a1942" stroke-width="1.6"/>
<path d="M461.22,436.70 H474.57 V447.55 A6.68,6.68 0 0 1 461.22,447.55 Z" fill="#e9b4a8"/>
<path d="M461.22,427.00 V447.55 A6.68,6.68 0 0 0 474.57,447.55 V427.00" fill="none" stroke="#4a1942" stroke-width="1.75"/>
<line x1="461.22" y1="436.70" x2="474.57" y2="436.70" stroke="#4a1942" stroke-width="1.0"/>
<circle cx="465.95" cy="432.30" r="1.55" fill="#4a1942"/>
<circle cx="470.20" cy="441.40" r="1.55" fill="#4a1942"/>
<circle cx="428.20" cy="427.50" r="4.35" fill="#fff" stroke="#222" stroke-width="0.9"/>
<text x="428.20" y="429.95" font-size="6.9" font-weight="bold" text-anchor="middle" fill="#222" >1</text>
<circle cx="506.00" cy="428.10" r="4.35" fill="#fff" stroke="#222" stroke-width="0.9"/>
<text x="506.00" y="430.55" font-size="6.9" font-weight="bold" text-anchor="middle" fill="#222" >2</text>
<clipPath id="cp609_361"><rect x="609.7" y="361.4" width="73.6" height="71.1"/></clipPath>
<g clip-path="url(#cp609_361)">
<path d="M609.70,419.77 C610.65,417.87 613.24,412.31 615.37,408.36 C617.50,404.41 620.10,399.88 622.46,396.07 C624.82,392.27 627.19,388.46 629.55,385.54 C631.91,382.61 634.28,380.36 636.64,378.52 C639.00,376.67 641.37,375.50 643.73,374.48 C646.09,373.45 648.46,372.90 650.82,372.37 C653.18,371.85 655.25,371.61 657.91,371.32 C660.57,371.03 662.72,370.82 666.77,370.62 C670.82,370.41 679.62,370.18 682.19,370.09 L682.19,373.78 C679.62,374.07 670.82,374.89 666.77,375.53 C662.72,376.18 660.57,376.76 657.91,377.64 C655.25,378.52 653.18,379.54 650.82,380.80 C648.46,382.06 646.09,383.43 643.73,385.19 C641.37,386.94 639.00,389.08 636.64,391.33 C634.28,393.59 631.91,396.16 629.55,398.71 C627.19,401.25 624.82,403.97 622.46,406.61 C620.10,409.24 617.50,412.08 615.37,414.51 C613.24,416.93 610.65,420.06 609.70,421.18 Z" fill="#c9f5e1"/>
<path d="M609.70,419.77 C610.35,416.85 612.36,407.63 613.60,402.22 C614.84,396.80 615.96,391.39 617.14,387.29 C618.33,383.20 619.51,379.98 620.69,377.64 C621.87,375.30 622.76,374.42 624.23,373.25 C625.71,372.08 627.48,371.29 629.55,370.62 C631.62,369.94 633.10,369.62 636.64,369.21 C640.18,368.80 643.23,368.42 650.82,368.16 C658.41,367.90 676.96,367.72 682.19,367.63 L682.19,370.62 C678.14,370.79 663.14,371.38 657.91,371.67 C652.68,371.96 653.18,372.02 650.82,372.37 C648.46,372.72 646.09,373.25 643.73,373.78 C641.37,374.30 639.00,374.74 636.64,375.53 C634.28,376.32 631.62,377.29 629.55,378.52 C627.48,379.75 625.71,381.30 624.23,382.91 C622.76,384.51 621.87,385.83 620.69,388.17 C619.51,390.51 618.33,393.59 617.14,396.95 C615.96,400.31 614.84,404.32 613.60,408.36 C612.36,412.40 610.35,419.04 609.70,421.18 Z" fill="#1fc27c"/>
<path d="M609.70,419.77 C610.20,416.85 611.77,407.63 612.71,402.22 C613.66,396.80 614.34,391.68 615.37,387.29 C616.41,382.91 617.73,378.52 618.92,375.88 C620.10,373.25 620.98,372.61 622.46,371.49 C623.94,370.38 625.41,369.80 627.78,369.21 C630.14,368.63 632.80,368.33 636.64,367.98 C640.48,367.63 643.23,367.31 650.82,367.11 C658.41,366.90 676.96,366.81 682.19,366.75 L682.19,368.86 C676.96,369.01 658.41,369.30 650.82,369.74 C643.23,370.18 640.18,370.82 636.64,371.49 C633.10,372.17 631.62,372.75 629.55,373.78 C627.48,374.80 625.71,376.12 624.23,377.64 C622.76,379.16 621.87,380.42 620.69,382.91 C619.51,385.39 618.33,388.61 617.14,392.56 C615.96,396.51 614.84,401.84 613.60,406.61 C612.36,411.37 610.35,418.75 609.70,421.18 Z" fill="#0e9a5c"/>
</g>
<rect x="609.7" y="361.4" width="71.6" height="71.1" fill="none" stroke="#555" stroke-width="1.0"/>
<line x1="606.2" y1="432.50" x2="609.7" y2="432.50" stroke="#555" stroke-width="0.9"/>
<text x="603.90" y="435.20" font-size="7.3" font-weight="normal" text-anchor="end" fill="#222" >0</text>
<line x1="606.2" y1="408.80" x2="609.7" y2="408.80" stroke="#555" stroke-width="0.9"/>
<text x="603.90" y="411.50" font-size="7.3" font-weight="normal" text-anchor="end" fill="#222" >4000</text>
<line x1="606.2" y1="385.10" x2="609.7" y2="385.10" stroke="#555" stroke-width="0.9"/>
<text x="603.90" y="387.80" font-size="7.3" font-weight="normal" text-anchor="end" fill="#222" >8000</text>
<line x1="606.2" y1="361.40" x2="609.7" y2="361.40" stroke="#555" stroke-width="0.9"/>
<text x="603.90" y="364.10" font-size="7.3" font-weight="normal" text-anchor="end" fill="#222" >12000</text>
<line x1="609.70" y1="432.5" x2="609.70" y2="435.5" stroke="#555" stroke-width="0.9"/>
<text x="609.40" y="445.30" font-size="7.5" font-weight="normal" text-anchor="middle" fill="#222" >0</text>
<line x1="633.57" y1="432.5" x2="633.57" y2="435.5" stroke="#555" stroke-width="0.9"/>
<text x="633.27" y="445.30" font-size="7.5" font-weight="normal" text-anchor="middle" fill="#222" >20</text>
<line x1="657.43" y1="432.5" x2="657.43" y2="435.5" stroke="#555" stroke-width="0.9"/>
<text x="657.13" y="445.30" font-size="7.5" font-weight="normal" text-anchor="middle" fill="#222" >40</text>
<line x1="681.30" y1="432.5" x2="681.30" y2="435.5" stroke="#555" stroke-width="0.9"/>
<text x="681.00" y="445.30" font-size="7.5" font-weight="normal" text-anchor="middle" fill="#222" >60</text>
<text transform="translate(583.50,397.00) rotate(-90)" font-size="7.8" font-weight="bold" text-anchor="middle" fill="#111" textLength="32.5" lengthAdjust="spacingAndGlyphs">F.I. (a.u.)</text>
<text x="646.00" y="452.90" font-size="7.8" font-weight="bold" text-anchor="middle" fill="#111" textLength="42.20" lengthAdjust="spacingAndGlyphs" >Time (min)</text>
<line x1="654.30" y1="385.20" x2="661.40" y2="385.20" stroke="#c9f5e1" stroke-width="1.5"/>
<text x="663.80" y="387.20" font-size="5.7" font-weight="bold" text-anchor="start" fill="#111" textLength="13.00" lengthAdjust="spacingAndGlyphs" >37°C</text>
<line x1="654.30" y1="393.40" x2="661.40" y2="393.40" stroke="#1fc27c" stroke-width="1.5"/>
<text x="663.80" y="395.40" font-size="5.7" font-weight="bold" text-anchor="start" fill="#111" textLength="13.00" lengthAdjust="spacingAndGlyphs" >45°C</text>
<line x1="654.30" y1="401.60" x2="661.40" y2="401.60" stroke="#0e9a5c" stroke-width="1.5"/>
<text x="663.80" y="403.60" font-size="5.7" font-weight="bold" text-anchor="start" fill="#111" textLength="13.00" lengthAdjust="spacingAndGlyphs" >53°C</text>
</g>
</svg>
</body></html>
